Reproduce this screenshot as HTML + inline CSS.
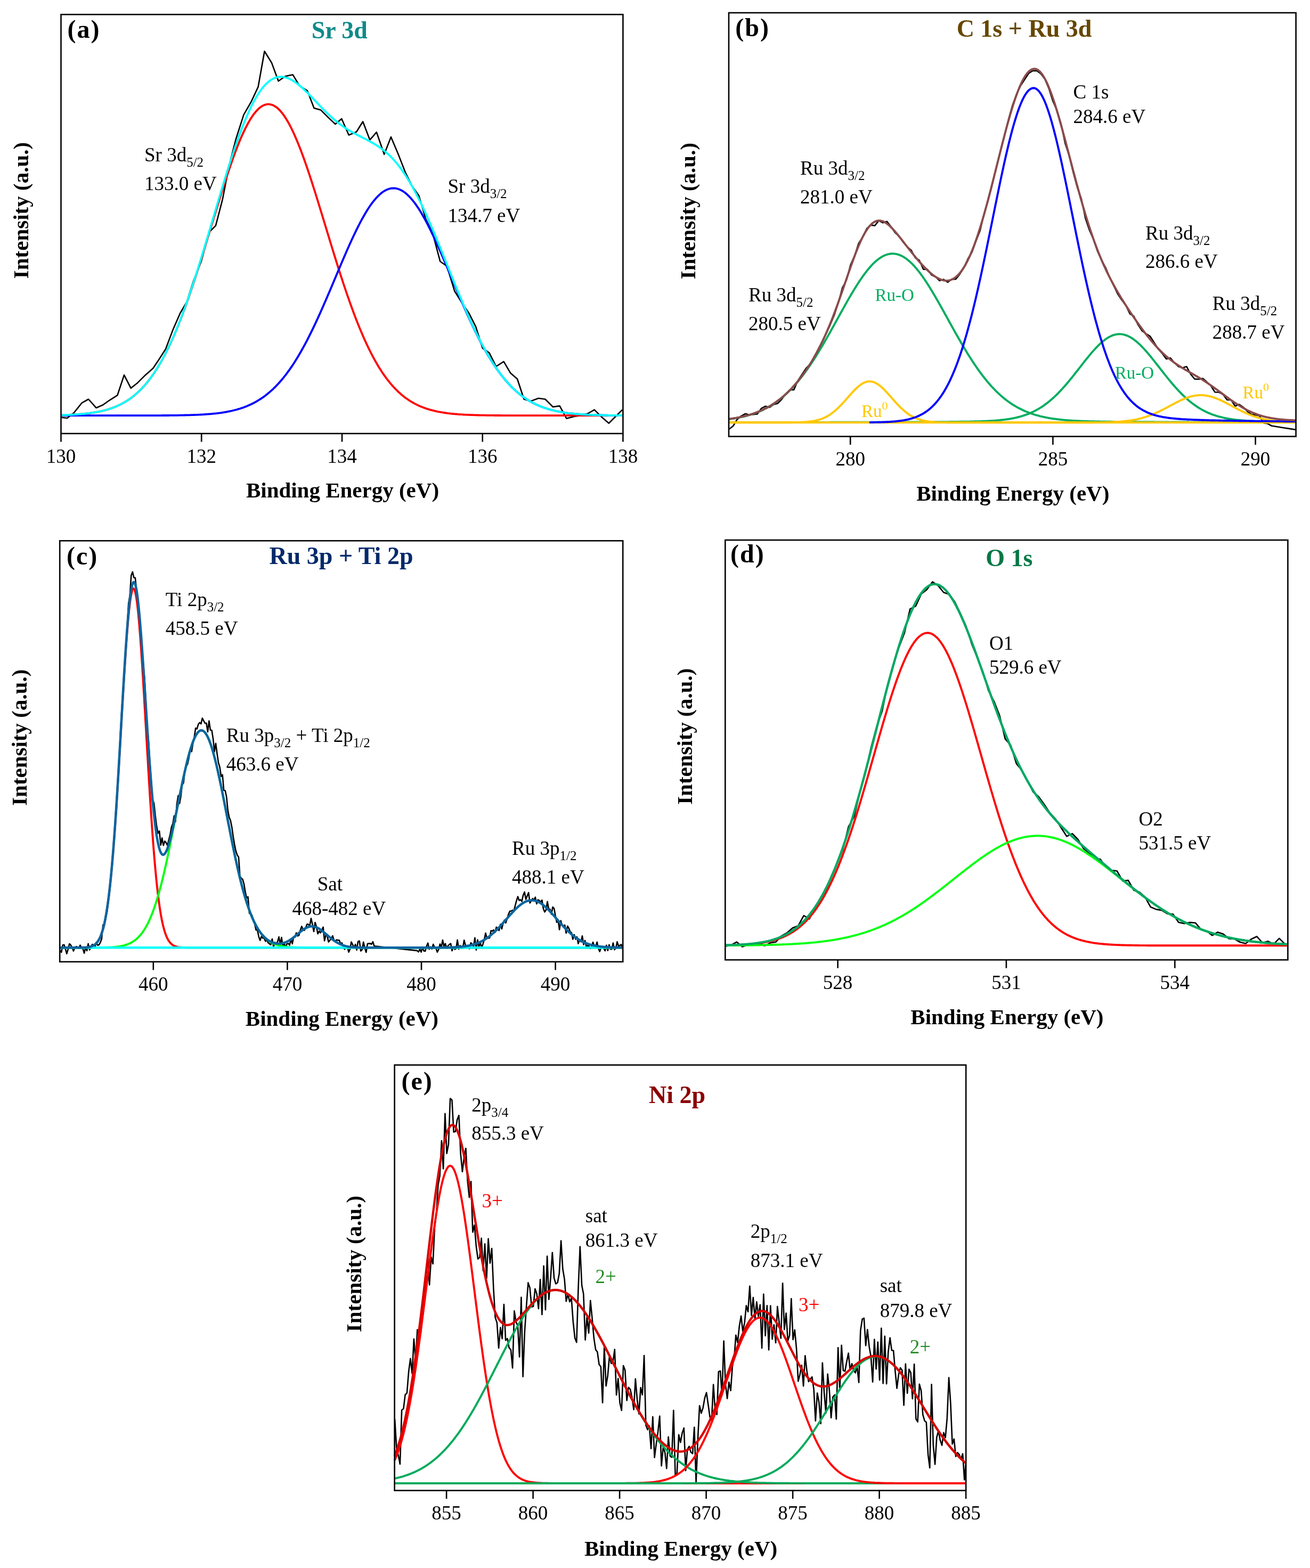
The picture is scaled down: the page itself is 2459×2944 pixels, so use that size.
<!DOCTYPE html>
<html><head><meta charset="utf-8"><style>
html,body{margin:0;padding:0;background:#fff;}
svg{display:block;}
text{font-family:'Liberation Serif', 'Times New Roman', serif;}
</style></head><body>
<svg width="2459" height="2944" viewBox="0 0 2459 2944">
<rect width="2459" height="2944" fill="#fff"/>
<path d="M115.4 783.8 L126.3 785 L139 774.8 L153.4 756.7 L166.1 749.5 L180.6 765.8 L193.2 760.3 L205.9 751.3 L220.4 742.2 L233 704.2 L245.7 728.8 L258.4 718.7 L272.9 704.2 L287.3 691.5 L298.2 675.3 L310.9 655.4 L325.3 617.4 L338 588.4 L350.7 566.7 L363.3 526.9 L377.8 490.7 L392.3 436.4 L404.9 423.7 L417.6 374.9 L430.3 309.7 L442.9 260.9 L457.4 215.6 L471.9 190.3 L484.6 163.1 L496.5 96.2 L509.9 117.9 L522.6 152.3 L535.3 143.2 L549.7 140.3 L562.4 161.3 L576.9 170.4 L589.5 203 L602.2 206.6 L616.7 221.1 L629.4 233 L641.3 222.9 L654.7 253.6 L669.2 247.5 L681.1 228.3 L694.3 262.7 L706.8 248.2 L721.2 289.8 L733.9 257.2 L748.4 291.6 L761.1 324.2 L773.7 349.5 L786.4 367.6 L799.1 411.1 L811.7 436.4 L826.2 490.7 L838.9 499.7 L853.4 546.8 L866 566.7 L880.5 588.4 L893.2 613.7 L905.8 653.6 L918.5 662.6 L931.2 688 L945.6 678.9 L958.3 700.6 L971 711.5 L983.6 749.5 L996.3 753.1 L1010.8 747.7 L1023.4 749.5 L1037.9 764 L1050.6 762.1 L1063.3 785.7 L1077.7 782 L1090.4 780.2 L1103.1 776.6 L1115.7 769.4 L1130.2 783.8 L1142.9 794.7 L1155.5 782 L1168.2 769.4" fill="none" stroke="#000" stroke-width="2.6" stroke-linejoin="round" stroke-linecap="butt" />
<path d="M114.5 779.4 L116.5 779.3 L118.5 779.3 L120.5 779.2 L122.5 779.1 L124.5 779 L126.5 779 L128.5 778.9 L130.5 778.8 L132.5 778.7 L134.5 778.6 L136.5 778.5 L138.5 778.4 L140.5 778.3 L142.5 778.1 L144.5 778 L146.5 777.9 L148.5 777.7 L150.5 777.6 L152.5 777.4 L154.5 777.2 L156.5 777 L158.5 776.8 L160.5 776.6 L162.5 776.4 L164.5 776.2 L166.5 775.9 L168.5 775.7 L170.5 775.4 L172.5 775.1 L174.5 774.8 L176.5 774.5 L178.5 774.2 L180.5 773.9 L182.5 773.5 L184.5 773.1 L186.5 772.7 L188.5 772.3 L190.5 771.8 L192.5 771.4 L194.5 770.9 L196.5 770.4 L198.5 769.8 L200.5 769.3 L202.5 768.7 L204.5 768.1 L206.5 767.4 L208.5 766.8 L210.5 766.1 L212.5 765.3 L214.5 764.6 L216.5 763.8 L218.5 762.9 L220.5 762.1 L222.5 761.1 L224.5 760.2 L226.5 759.2 L228.5 758.2 L230.5 757.1 L232.5 756 L234.5 754.8 L236.5 753.6 L238.5 752.4 L240.5 751.1 L242.5 749.7 L244.5 748.3 L246.5 746.9 L248.5 745.4 L250.5 743.8 L252.5 742.2 L254.5 740.5 L256.5 738.7 L258.5 736.9 L260.5 735.1 L262.5 733.1 L264.5 731.1 L266.5 729.1 L268.5 726.9 L270.5 724.7 L272.5 722.5 L274.5 720.1 L276.5 717.7 L278.5 715.2 L280.5 712.6 L282.5 710 L284.5 707.2 L286.5 704.4 L288.5 701.5 L290.5 698.6 L292.5 695.5 L294.5 692.4 L296.5 689.1 L298.5 685.8 L300.5 682.4 L302.5 679 L304.5 675.4 L306.5 671.7 L308.5 668 L310.5 664.1 L312.5 660.2 L314.5 656.2 L316.5 652.1 L318.5 647.9 L320.5 643.6 L322.5 639.2 L324.5 634.8 L326.5 630.2 L328.5 625.5 L330.5 620.8 L332.5 616 L334.5 611.1 L336.5 606.1 L338.5 601 L340.5 595.8 L342.5 590.6 L344.5 585.2 L346.5 579.8 L348.5 574.3 L350.5 568.8 L352.5 563.1 L354.5 557.4 L356.5 551.6 L358.5 545.7 L360.5 539.8 L362.5 533.8 L364.5 527.8 L366.5 521.6 L368.5 515.5 L370.5 509.2 L372.5 503 L374.5 496.6 L376.5 490.3 L378.5 483.9 L380.5 477.4 L382.5 471 L384.5 464.4 L386.5 457.9 L388.5 451.4 L390.5 444.8 L392.5 438.2 L394.5 431.6 L396.5 425 L398.5 418.4 L400.5 411.8 L402.5 405.3 L404.5 398.7 L406.5 392.1 L408.5 385.6 L410.5 379.1 L412.5 372.7 L414.5 366.3 L416.5 359.9 L418.5 353.6 L420.5 347.3 L422.5 341.1 L424.5 334.9 L426.5 328.9 L428.5 322.9 L430.5 316.9 L432.5 311.1 L434.5 305.4 L436.5 299.7 L438.5 294.2 L440.5 288.7 L442.5 283.4 L444.5 278.2 L446.5 273.1 L448.5 268.1 L450.5 263.3 L452.5 258.6 L454.5 254 L456.5 249.6 L458.5 245.4 L460.5 241.2 L462.5 237.3 L464.5 233.5 L466.5 229.8 L468.5 226.4 L470.5 223.1 L472.5 220 L474.5 217 L476.5 214.2 L478.5 211.7 L480.5 209.3 L482.5 207.1 L484.5 205 L486.5 203.2 L488.5 201.6 L490.5 200.2 L492.5 198.9 L494.5 197.9 L496.5 197 L498.5 196.4 L500.5 196 L502.5 195.7 L504.5 195.7 L506.5 195.9 L508.5 196.3 L510.5 196.8 L512.5 197.6 L514.5 198.6 L516.5 199.8 L518.5 201.1 L520.5 202.7 L522.5 204.5 L524.5 206.4 L526.5 208.6 L528.5 210.9 L530.5 213.5 L532.5 216.2 L534.5 219.1 L536.5 222.1 L538.5 225.4 L540.5 228.8 L542.5 232.4 L544.5 236.1 L546.5 240 L548.5 244.1 L550.5 248.3 L552.5 252.7 L554.5 257.2 L556.5 261.9 L558.5 266.7 L560.5 271.6 L562.5 276.7 L564.5 281.8 L566.5 287.1 L568.5 292.5 L570.5 298 L572.5 303.7 L574.5 309.4 L576.5 315.2 L578.5 321.1 L580.5 327 L582.5 333.1 L584.5 339.2 L586.5 345.4 L588.5 351.7 L590.5 358 L592.5 364.3 L594.5 370.7 L596.5 377.2 L598.5 383.7 L600.5 390.2 L602.5 396.7 L604.5 403.3 L606.5 409.9 L608.5 416.5 L610.5 423 L612.5 429.6 L614.5 436.2 L616.5 442.8 L618.5 449.4 L620.5 456 L622.5 462.5 L624.5 469 L626.5 475.5 L628.5 481.9 L630.5 488.4 L632.5 494.7 L634.5 501.1 L636.5 507.4 L638.5 513.6 L640.5 519.8 L642.5 525.9 L644.5 532 L646.5 538 L648.5 544 L650.5 549.8 L652.5 555.7 L654.5 561.4 L656.5 567.1 L658.5 572.7 L660.5 578.2 L662.5 583.6 L664.5 589 L666.5 594.3 L668.5 599.5 L670.5 604.6 L672.5 609.6 L674.5 614.5 L676.5 619.4 L678.5 624.1 L680.5 628.8 L682.5 633.4 L684.5 637.9 L686.5 642.3 L688.5 646.6 L690.5 650.8 L692.5 655 L694.5 659 L696.5 663 L698.5 666.8 L700.5 670.6 L702.5 674.3 L704.5 677.9 L706.5 681.4 L708.5 684.8 L710.5 688.2 L712.5 691.4 L714.5 694.6 L716.5 697.7 L718.5 700.7 L720.5 703.6 L722.5 706.4 L724.5 709.2 L726.5 711.8 L728.5 714.4 L730.5 716.9 L732.5 719.4 L734.5 721.8 L736.5 724.1 L738.5 726.3 L740.5 728.4 L742.5 730.5 L744.5 732.5 L746.5 734.5 L748.5 736.4 L750.5 738.2 L752.5 740 L754.5 741.7 L756.5 743.3 L758.5 744.9 L760.5 746.4 L762.5 747.9 L764.5 749.3 L766.5 750.7 L768.5 752 L770.5 753.3 L772.5 754.5 L774.5 755.7 L776.5 756.8 L778.5 757.9 L780.5 758.9 L782.5 759.9 L784.5 760.9 L786.5 761.8 L788.5 762.7 L790.5 763.5 L792.5 764.3 L794.5 765.1 L796.5 765.8 L798.5 766.6 L800.5 767.2 L802.5 767.9 L804.5 768.5 L806.5 769.1 L808.5 769.7 L810.5 770.2 L812.5 770.7 L814.5 771.2 L816.5 771.7 L818.5 772.1 L820.5 772.6 L822.5 773 L824.5 773.4 L826.5 773.7 L828.5 774.1 L830.5 774.4 L832.5 774.7 L834.5 775 L836.5 775.3 L838.5 775.6 L840.5 775.9 L842.5 776.1 L844.5 776.3 L846.5 776.6 L848.5 776.8 L850.5 777 L852.5 777.2 L854.5 777.3 L856.5 777.5 L858.5 777.7 L860.5 777.8 L862.5 778 L864.5 778.1 L866.5 778.2 L868.5 778.3 L870.5 778.5 L872.5 778.6 L874.5 778.7 L876.5 778.8 L878.5 778.9 L880.5 778.9 L882.5 779 L884.5 779.1 L886.5 779.2 L888.5 779.2 L890.5 779.3 L892.5 779.4 L894.5 779.4 L896.5 779.5 L898.5 779.5 L900.5 779.6 L902.5 779.6 L904.5 779.6 L906.5 779.7 L908.5 779.7 L910.5 779.7 L912.5 779.8 L914.5 779.8 L916.5 779.8 L918.5 779.9 L920.5 779.9 L922.5 779.9 L924.5 779.9 L926.5 779.9 L928.5 780 L930.5 780 L932.5 780 L934.5 780 L936.5 780 L938.5 780 L940.5 780 L942.5 780.1 L944.5 780.1 L946.5 780.1 L948.5 780.1 L950.5 780.1 L952.5 780.1 L954.5 780.1 L956.5 780.1 L958.5 780.1 L960.5 780.1 L962.5 780.1 L964.5 780.1 L966.5 780.1 L968.5 780.1 L970.5 780.2 L972.5 780.2 L974.5 780.2 L976.5 780.2 L978.5 780.2 L980.5 780.2 L982.5 780.2 L984.5 780.2 L986.5 780.2 L988.5 780.2 L990.5 780.2 L992.5 780.2 L994.5 780.2 L996.5 780.2 L998.5 780.2 L1000.5 780.2 L1002.5 780.2 L1004.5 780.2 L1006.5 780.2 L1008.5 780.2 L1010.5 780.2 L1012.5 780.2 L1014.5 780.2 L1016.5 780.2 L1018.5 780.2 L1020.5 780.2 L1022.5 780.2 L1024.5 780.2 L1026.5 780.2 L1028.5 780.2 L1030.5 780.2 L1032.5 780.2 L1034.5 780.2 L1036.5 780.2 L1038.5 780.2 L1040.5 780.2 L1042.5 780.2 L1044.5 780.2 L1046.5 780.2 L1048.5 780.2 L1050.5 780.2 L1052.5 780.2 L1054.5 780.2 L1056.5 780.2 L1058.5 780.2 L1060.5 780.2 L1062.5 780.2 L1064.5 780.2 L1066.5 780.2 L1068.5 780.2 L1070.5 780.2 L1072.5 780.2 L1074.5 780.2 L1076.5 780.2 L1078.5 780.2 L1080.5 780.2 L1082.5 780.2 L1084.5 780.2 L1086.5 780.2 L1088.5 780.2 L1090.5 780.2 L1092.5 780.2 L1094.5 780.2 L1096.5 780.2 L1098.5 780.2 L1100.5 780.2 L1102.5 780.2 L1104.5 780.2 L1106.5 780.2 L1108.5 780.2 L1110.5 780.2 L1112.5 780.2 L1114.5 780.2 L1116.5 780.2 L1118.5 780.2 L1120.5 780.2 L1122.5 780.2 L1124.5 780.2 L1126.5 780.2 L1128.5 780.2 L1130.5 780.2 L1132.5 780.2 L1134.5 780.2 L1136.5 780.2 L1138.5 780.2 L1140.5 780.2 L1142.5 780.2 L1144.5 780.2 L1146.5 780.2 L1148.5 780.2 L1150.5 780.2 L1152.5 780.2 L1154.5 780.2 L1156.5 780.2 L1158.5 780.2 L1160.5 780.2 L1162.5 780.2 L1164.5 780.2 L1166.5 780.2 L1168.5 780.2 L1169.4 780.2" fill="none" stroke="#ff0000" stroke-width="3.8" stroke-linejoin="round" stroke-linecap="butt" />
<path d="M114.5 780.2 L116.5 780.2 L118.5 780.2 L120.5 780.2 L122.5 780.2 L124.5 780.2 L126.5 780.2 L128.5 780.2 L130.5 780.2 L132.5 780.2 L134.5 780.2 L136.5 780.2 L138.5 780.2 L140.5 780.2 L142.5 780.2 L144.5 780.2 L146.5 780.2 L148.5 780.2 L150.5 780.2 L152.5 780.2 L154.5 780.2 L156.5 780.2 L158.5 780.2 L160.5 780.2 L162.5 780.2 L164.5 780.2 L166.5 780.2 L168.5 780.2 L170.5 780.2 L172.5 780.2 L174.5 780.2 L176.5 780.2 L178.5 780.2 L180.5 780.2 L182.5 780.2 L184.5 780.2 L186.5 780.2 L188.5 780.2 L190.5 780.2 L192.5 780.2 L194.5 780.2 L196.5 780.2 L198.5 780.2 L200.5 780.2 L202.5 780.2 L204.5 780.2 L206.5 780.2 L208.5 780.2 L210.5 780.2 L212.5 780.2 L214.5 780.2 L216.5 780.2 L218.5 780.2 L220.5 780.2 L222.5 780.2 L224.5 780.2 L226.5 780.2 L228.5 780.2 L230.5 780.2 L232.5 780.2 L234.5 780.2 L236.5 780.2 L238.5 780.2 L240.5 780.2 L242.5 780.2 L244.5 780.2 L246.5 780.2 L248.5 780.2 L250.5 780.2 L252.5 780.2 L254.5 780.2 L256.5 780.2 L258.5 780.2 L260.5 780.2 L262.5 780.2 L264.5 780.2 L266.5 780.2 L268.5 780.2 L270.5 780.2 L272.5 780.2 L274.5 780.2 L276.5 780.1 L278.5 780.1 L280.5 780.1 L282.5 780.1 L284.5 780.1 L286.5 780.1 L288.5 780.1 L290.5 780.1 L292.5 780.1 L294.5 780.1 L296.5 780.1 L298.5 780.1 L300.5 780.1 L302.5 780.1 L304.5 780 L306.5 780 L308.5 780 L310.5 780 L312.5 780 L314.5 780 L316.5 780 L318.5 779.9 L320.5 779.9 L322.5 779.9 L324.5 779.9 L326.5 779.9 L328.5 779.8 L330.5 779.8 L332.5 779.8 L334.5 779.8 L336.5 779.7 L338.5 779.7 L340.5 779.7 L342.5 779.6 L344.5 779.6 L346.5 779.5 L348.5 779.5 L350.5 779.4 L352.5 779.4 L354.5 779.3 L356.5 779.3 L358.5 779.2 L360.5 779.2 L362.5 779.1 L364.5 779 L366.5 778.9 L368.5 778.9 L370.5 778.8 L372.5 778.7 L374.5 778.6 L376.5 778.5 L378.5 778.4 L380.5 778.3 L382.5 778.1 L384.5 778 L386.5 777.9 L388.5 777.7 L390.5 777.6 L392.5 777.4 L394.5 777.3 L396.5 777.1 L398.5 776.9 L400.5 776.7 L402.5 776.5 L404.5 776.3 L406.5 776.1 L408.5 775.8 L410.5 775.6 L412.5 775.3 L414.5 775.1 L416.5 774.8 L418.5 774.5 L420.5 774.1 L422.5 773.8 L424.5 773.5 L426.5 773.1 L428.5 772.7 L430.5 772.3 L432.5 771.9 L434.5 771.5 L436.5 771 L438.5 770.5 L440.5 770 L442.5 769.5 L444.5 769 L446.5 768.4 L448.5 767.8 L450.5 767.2 L452.5 766.5 L454.5 765.9 L456.5 765.2 L458.5 764.4 L460.5 763.7 L462.5 762.9 L464.5 762.1 L466.5 761.2 L468.5 760.3 L470.5 759.4 L472.5 758.5 L474.5 757.5 L476.5 756.5 L478.5 755.4 L480.5 754.3 L482.5 753.1 L484.5 751.9 L486.5 750.7 L488.5 749.4 L490.5 748.1 L492.5 746.8 L494.5 745.4 L496.5 743.9 L498.5 742.4 L500.5 740.8 L502.5 739.2 L504.5 737.6 L506.5 735.9 L508.5 734.1 L510.5 732.3 L512.5 730.5 L514.5 728.5 L516.5 726.6 L518.5 724.5 L520.5 722.4 L522.5 720.3 L524.5 718.1 L526.5 715.8 L528.5 713.5 L530.5 711.1 L532.5 708.6 L534.5 706.1 L536.5 703.6 L538.5 700.9 L540.5 698.2 L542.5 695.5 L544.5 692.6 L546.5 689.7 L548.5 686.8 L550.5 683.8 L552.5 680.7 L554.5 677.5 L556.5 674.3 L558.5 671 L560.5 667.7 L562.5 664.3 L564.5 660.8 L566.5 657.3 L568.5 653.7 L570.5 650.1 L572.5 646.4 L574.5 642.6 L576.5 638.8 L578.5 634.9 L580.5 630.9 L582.5 626.9 L584.5 622.9 L586.5 618.8 L588.5 614.6 L590.5 610.4 L592.5 606.2 L594.5 601.9 L596.5 597.5 L598.5 593.1 L600.5 588.7 L602.5 584.2 L604.5 579.7 L606.5 575.2 L608.5 570.6 L610.5 566 L612.5 561.4 L614.5 556.7 L616.5 552.1 L618.5 547.4 L620.5 542.7 L622.5 537.9 L624.5 533.2 L626.5 528.5 L628.5 523.7 L630.5 519 L632.5 514.2 L634.5 509.5 L636.5 504.7 L638.5 500 L640.5 495.3 L642.5 490.6 L644.5 485.9 L646.5 481.3 L648.5 476.7 L650.5 472.1 L652.5 467.6 L654.5 463.1 L656.5 458.6 L658.5 454.2 L660.5 449.8 L662.5 445.5 L664.5 441.2 L666.5 437.1 L668.5 432.9 L670.5 428.9 L672.5 424.9 L674.5 421 L676.5 417.1 L678.5 413.4 L680.5 409.7 L682.5 406.2 L684.5 402.7 L686.5 399.3 L688.5 396 L690.5 392.8 L692.5 389.8 L694.5 386.8 L696.5 383.9 L698.5 381.2 L700.5 378.6 L702.5 376.1 L704.5 373.7 L706.5 371.4 L708.5 369.3 L710.5 367.3 L712.5 365.4 L714.5 363.6 L716.5 362 L718.5 360.5 L720.5 359.2 L722.5 358 L724.5 356.9 L726.5 356 L728.5 355.2 L730.5 354.5 L732.5 354 L734.5 353.7 L736.5 353.5 L738.5 353.4 L740.5 353.5 L742.5 353.7 L744.5 354 L746.5 354.5 L748.5 355.2 L750.5 356 L752.5 356.9 L754.5 358 L756.5 359.2 L758.5 360.5 L760.5 362 L762.5 363.6 L764.5 365.4 L766.5 367.3 L768.5 369.3 L770.5 371.4 L772.5 373.7 L774.5 376.1 L776.5 378.6 L778.5 381.2 L780.5 383.9 L782.5 386.8 L784.5 389.8 L786.5 392.8 L788.5 396 L790.5 399.3 L792.5 402.7 L794.5 406.2 L796.5 409.7 L798.5 413.4 L800.5 417.1 L802.5 421 L804.5 424.9 L806.5 428.9 L808.5 432.9 L810.5 437.1 L812.5 441.2 L814.5 445.5 L816.5 449.8 L818.5 454.2 L820.5 458.6 L822.5 463.1 L824.5 467.6 L826.5 472.1 L828.5 476.7 L830.5 481.3 L832.5 485.9 L834.5 490.6 L836.5 495.3 L838.5 500 L840.5 504.7 L842.5 509.5 L844.5 514.2 L846.5 519 L848.5 523.7 L850.5 528.5 L852.5 533.2 L854.5 537.9 L856.5 542.7 L858.5 547.4 L860.5 552.1 L862.5 556.7 L864.5 561.4 L866.5 566 L868.5 570.6 L870.5 575.2 L872.5 579.7 L874.5 584.2 L876.5 588.7 L878.5 593.1 L880.5 597.5 L882.5 601.9 L884.5 606.2 L886.5 610.4 L888.5 614.6 L890.5 618.8 L892.5 622.9 L894.5 626.9 L896.5 630.9 L898.5 634.9 L900.5 638.8 L902.5 642.6 L904.5 646.4 L906.5 650.1 L908.5 653.7 L910.5 657.3 L912.5 660.8 L914.5 664.3 L916.5 667.7 L918.5 671 L920.5 674.3 L922.5 677.5 L924.5 680.7 L926.5 683.8 L928.5 686.8 L930.5 689.7 L932.5 692.6 L934.5 695.5 L936.5 698.2 L938.5 700.9 L940.5 703.6 L942.5 706.1 L944.5 708.6 L946.5 711.1 L948.5 713.5 L950.5 715.8 L952.5 718.1 L954.5 720.3 L956.5 722.4 L958.5 724.5 L960.5 726.6 L962.5 728.5 L964.5 730.5 L966.5 732.3 L968.5 734.1 L970.5 735.9 L972.5 737.6 L974.5 739.2 L976.5 740.8 L978.5 742.4 L980.5 743.9 L982.5 745.4 L984.5 746.8 L986.5 748.1 L988.5 749.4 L990.5 750.7 L992.5 751.9 L994.5 753.1 L996.5 754.3 L998.5 755.4 L1000.5 756.5 L1002.5 757.5 L1004.5 758.5 L1006.5 759.4 L1008.5 760.3 L1010.5 761.2 L1012.5 762.1 L1014.5 762.9 L1016.5 763.7 L1018.5 764.4 L1020.5 765.2 L1022.5 765.9 L1024.5 766.5 L1026.5 767.2 L1028.5 767.8 L1030.5 768.4 L1032.5 769 L1034.5 769.5 L1036.5 770 L1038.5 770.5 L1040.5 771 L1042.5 771.5 L1044.5 771.9 L1046.5 772.3 L1048.5 772.7 L1050.5 773.1 L1052.5 773.5 L1054.5 773.8 L1056.5 774.1 L1058.5 774.5 L1060.5 774.8 L1062.5 775.1 L1064.5 775.3 L1066.5 775.6 L1068.5 775.8 L1070.5 776.1 L1072.5 776.3 L1074.5 776.5 L1076.5 776.7 L1078.5 776.9 L1080.5 777.1 L1082.5 777.3 L1084.5 777.4 L1086.5 777.6 L1088.5 777.7 L1090.5 777.9 L1092.5 778 L1094.5 778.1 L1096.5 778.3 L1098.5 778.4 L1100.5 778.5 L1102.5 778.6 L1104.5 778.7 L1106.5 778.8 L1108.5 778.9 L1110.5 778.9 L1112.5 779 L1114.5 779.1 L1116.5 779.2 L1118.5 779.2 L1120.5 779.3 L1122.5 779.3 L1124.5 779.4 L1126.5 779.4 L1128.5 779.5 L1130.5 779.5 L1132.5 779.6 L1134.5 779.6 L1136.5 779.7 L1138.5 779.7 L1140.5 779.7 L1142.5 779.8 L1144.5 779.8 L1146.5 779.8 L1148.5 779.8 L1150.5 779.9 L1152.5 779.9 L1154.5 779.9 L1156.5 779.9 L1158.5 779.9 L1160.5 780 L1162.5 780 L1164.5 780 L1166.5 780 L1168.5 780 L1169.4 780" fill="none" stroke="#0000ff" stroke-width="3.8" stroke-linejoin="round" stroke-linecap="butt" />
<path d="M114.5 779.4 L116.5 779.3 L118.5 779.3 L120.5 779.2 L122.5 779.1 L124.5 779 L126.5 779 L128.5 778.9 L130.5 778.8 L132.5 778.7 L134.5 778.6 L136.5 778.5 L138.5 778.4 L140.5 778.3 L142.5 778.1 L144.5 778 L146.5 777.9 L148.5 777.7 L150.5 777.6 L152.5 777.4 L154.5 777.2 L156.5 777 L158.5 776.8 L160.5 776.6 L162.5 776.4 L164.5 776.2 L166.5 775.9 L168.5 775.7 L170.5 775.4 L172.5 775.1 L174.5 774.8 L176.5 774.5 L178.5 774.2 L180.5 773.8 L182.5 773.5 L184.5 773.1 L186.5 772.7 L188.5 772.3 L190.5 771.8 L192.5 771.4 L194.5 770.9 L196.5 770.4 L198.5 769.8 L200.5 769.3 L202.5 768.7 L204.5 768.1 L206.5 767.4 L208.5 766.8 L210.5 766.1 L212.5 765.3 L214.5 764.6 L216.5 763.8 L218.5 762.9 L220.5 762.1 L222.5 761.1 L224.5 760.2 L226.5 759.2 L228.5 758.2 L230.5 757.1 L232.5 756 L234.5 754.8 L236.5 753.6 L238.5 752.4 L240.5 751.1 L242.5 749.7 L244.5 748.3 L246.5 746.9 L248.5 745.3 L250.5 743.8 L252.5 742.1 L254.5 740.5 L256.5 738.7 L258.5 736.9 L260.5 735 L262.5 733.1 L264.5 731.1 L266.5 729 L268.5 726.9 L270.5 724.7 L272.5 722.4 L274.5 720.1 L276.5 717.6 L278.5 715.1 L280.5 712.6 L282.5 709.9 L284.5 707.2 L286.5 704.3 L288.5 701.5 L290.5 698.5 L292.5 695.4 L294.5 692.3 L296.5 689 L298.5 685.7 L300.5 682.3 L302.5 678.8 L304.5 675.2 L306.5 671.6 L308.5 667.8 L310.5 663.9 L312.5 660 L314.5 656 L316.5 651.9 L318.5 647.6 L320.5 643.3 L322.5 638.9 L324.5 634.4 L326.5 629.9 L328.5 625.2 L330.5 620.4 L332.5 615.6 L334.5 610.6 L336.5 605.6 L338.5 600.5 L340.5 595.3 L342.5 590 L344.5 584.6 L346.5 579.2 L348.5 573.6 L350.5 568 L352.5 562.3 L354.5 556.5 L356.5 550.7 L358.5 544.8 L360.5 538.8 L362.5 532.7 L364.5 526.6 L366.5 520.4 L368.5 514.1 L370.5 507.8 L372.5 501.4 L374.5 495 L376.5 488.6 L378.5 482 L380.5 475.5 L382.5 468.9 L384.5 462.3 L386.5 455.6 L388.5 448.9 L390.5 442.2 L392.5 435.4 L394.5 428.7 L396.5 421.9 L398.5 415.1 L400.5 408.4 L402.5 401.6 L404.5 394.8 L406.5 388 L408.5 381.3 L410.5 374.5 L412.5 367.8 L414.5 361.1 L416.5 354.4 L418.5 347.8 L420.5 341.2 L422.5 334.7 L424.5 328.2 L426.5 321.8 L428.5 315.4 L430.5 309.1 L432.5 302.8 L434.5 296.6 L436.5 290.5 L438.5 284.5 L440.5 278.6 L442.5 272.7 L444.5 267 L446.5 261.3 L448.5 255.7 L450.5 250.3 L452.5 245 L454.5 239.7 L456.5 234.6 L458.5 229.6 L460.5 224.7 L462.5 220 L464.5 215.4 L466.5 210.9 L468.5 206.5 L470.5 202.3 L472.5 198.2 L474.5 194.3 L476.5 190.5 L478.5 186.9 L480.5 183.3 L482.5 180 L484.5 176.8 L486.5 173.7 L488.5 170.8 L490.5 168.1 L492.5 165.5 L494.5 163 L496.5 160.8 L498.5 158.6 L500.5 156.6 L502.5 154.8 L504.5 153.1 L506.5 151.6 L508.5 150.2 L510.5 149 L512.5 147.9 L514.5 146.9 L516.5 146.1 L518.5 145.5 L520.5 144.9 L522.5 144.6 L524.5 144.3 L526.5 144.2 L528.5 144.2 L530.5 144.4 L532.5 144.6 L534.5 145 L536.5 145.5 L538.5 146.1 L540.5 146.8 L542.5 147.6 L544.5 148.6 L546.5 149.6 L548.5 150.7 L550.5 151.9 L552.5 153.2 L554.5 154.6 L556.5 156 L558.5 157.5 L560.5 159.1 L562.5 160.8 L564.5 162.5 L566.5 164.2 L568.5 166 L570.5 167.9 L572.5 169.8 L574.5 171.8 L576.5 173.7 L578.5 175.7 L580.5 177.8 L582.5 179.8 L584.5 181.9 L586.5 184 L588.5 186.1 L590.5 188.2 L592.5 190.3 L594.5 192.4 L596.5 194.5 L598.5 196.6 L600.5 198.7 L602.5 200.8 L604.5 202.8 L606.5 204.9 L608.5 206.9 L610.5 208.9 L612.5 210.8 L614.5 212.8 L616.5 214.7 L618.5 216.6 L620.5 218.4 L622.5 220.2 L624.5 222 L626.5 223.7 L628.5 225.5 L630.5 227.1 L632.5 228.7 L634.5 230.3 L636.5 231.9 L638.5 233.4 L640.5 234.9 L642.5 236.3 L644.5 237.7 L646.5 239.1 L648.5 240.4 L650.5 241.7 L652.5 243 L654.5 244.3 L656.5 245.5 L658.5 246.6 L660.5 247.8 L662.5 248.9 L664.5 250 L666.5 251.1 L668.5 252.2 L670.5 253.2 L672.5 254.3 L674.5 255.3 L676.5 256.3 L678.5 257.3 L680.5 258.4 L682.5 259.4 L684.5 260.4 L686.5 261.4 L688.5 262.4 L690.5 263.5 L692.5 264.5 L694.5 265.6 L696.5 266.7 L698.5 267.8 L700.5 269 L702.5 270.2 L704.5 271.4 L706.5 272.6 L708.5 273.9 L710.5 275.2 L712.5 276.6 L714.5 278 L716.5 279.5 L718.5 281 L720.5 282.5 L722.5 284.2 L724.5 285.9 L726.5 287.6 L728.5 289.4 L730.5 291.3 L732.5 293.2 L734.5 295.2 L736.5 297.3 L738.5 299.5 L740.5 301.7 L742.5 304 L744.5 306.4 L746.5 308.8 L748.5 311.4 L750.5 314 L752.5 316.7 L754.5 319.4 L756.5 322.3 L758.5 325.2 L760.5 328.2 L762.5 331.3 L764.5 334.5 L766.5 337.7 L768.5 341.1 L770.5 344.5 L772.5 348 L774.5 351.5 L776.5 355.2 L778.5 358.9 L780.5 362.6 L782.5 366.5 L784.5 370.4 L786.5 374.4 L788.5 378.5 L790.5 382.6 L792.5 386.8 L794.5 391.1 L796.5 395.4 L798.5 399.8 L800.5 404.2 L802.5 408.7 L804.5 413.2 L806.5 417.8 L808.5 422.4 L810.5 427.1 L812.5 431.8 L814.5 436.5 L816.5 441.3 L818.5 446.1 L820.5 451 L822.5 455.8 L824.5 460.7 L826.5 465.6 L828.5 470.6 L830.5 475.5 L832.5 480.5 L834.5 485.5 L836.5 490.4 L838.5 495.4 L840.5 500.4 L842.5 505.4 L844.5 510.4 L846.5 515.3 L848.5 520.3 L850.5 525.2 L852.5 530.2 L854.5 535.1 L856.5 540 L858.5 544.8 L860.5 549.7 L862.5 554.5 L864.5 559.3 L866.5 564 L868.5 568.8 L870.5 573.5 L872.5 578.1 L874.5 582.7 L876.5 587.3 L878.5 591.8 L880.5 596.3 L882.5 600.7 L884.5 605.1 L886.5 609.4 L888.5 613.7 L890.5 617.9 L892.5 622 L894.5 626.1 L896.5 630.2 L898.5 634.2 L900.5 638.1 L902.5 642 L904.5 645.8 L906.5 649.5 L908.5 653.2 L910.5 656.9 L912.5 660.4 L914.5 663.9 L916.5 667.3 L918.5 670.7 L920.5 674 L922.5 677.2 L924.5 680.4 L926.5 683.5 L928.5 686.5 L930.5 689.5 L932.5 692.4 L934.5 695.3 L936.5 698 L938.5 700.8 L940.5 703.4 L942.5 706 L944.5 708.5 L946.5 711 L948.5 713.4 L950.5 715.7 L952.5 718 L954.5 720.2 L956.5 722.4 L958.5 724.5 L960.5 726.5 L962.5 728.5 L964.5 730.4 L966.5 732.3 L968.5 734.1 L970.5 735.8 L972.5 737.6 L974.5 739.2 L976.5 740.8 L978.5 742.4 L980.5 743.9 L982.5 745.3 L984.5 746.7 L986.5 748.1 L988.5 749.4 L990.5 750.7 L992.5 751.9 L994.5 753.1 L996.5 754.3 L998.5 755.4 L1000.5 756.4 L1002.5 757.5 L1004.5 758.5 L1006.5 759.4 L1008.5 760.3 L1010.5 761.2 L1012.5 762.1 L1014.5 762.9 L1016.5 763.7 L1018.5 764.4 L1020.5 765.2 L1022.5 765.9 L1024.5 766.5 L1026.5 767.2 L1028.5 767.8 L1030.5 768.4 L1032.5 769 L1034.5 769.5 L1036.5 770 L1038.5 770.5 L1040.5 771 L1042.5 771.5 L1044.5 771.9 L1046.5 772.3 L1048.5 772.7 L1050.5 773.1 L1052.5 773.5 L1054.5 773.8 L1056.5 774.1 L1058.5 774.5 L1060.5 774.8 L1062.5 775.1 L1064.5 775.3 L1066.5 775.6 L1068.5 775.8 L1070.5 776.1 L1072.5 776.3 L1074.5 776.5 L1076.5 776.7 L1078.5 776.9 L1080.5 777.1 L1082.5 777.3 L1084.5 777.4 L1086.5 777.6 L1088.5 777.7 L1090.5 777.9 L1092.5 778 L1094.5 778.1 L1096.5 778.3 L1098.5 778.4 L1100.5 778.5 L1102.5 778.6 L1104.5 778.7 L1106.5 778.8 L1108.5 778.9 L1110.5 778.9 L1112.5 779 L1114.5 779.1 L1116.5 779.2 L1118.5 779.2 L1120.5 779.3 L1122.5 779.3 L1124.5 779.4 L1126.5 779.4 L1128.5 779.5 L1130.5 779.5 L1132.5 779.6 L1134.5 779.6 L1136.5 779.7 L1138.5 779.7 L1140.5 779.7 L1142.5 779.8 L1144.5 779.8 L1146.5 779.8 L1148.5 779.8 L1150.5 779.9 L1152.5 779.9 L1154.5 779.9 L1156.5 779.9 L1158.5 779.9 L1160.5 780 L1162.5 780 L1164.5 780 L1166.5 780 L1168.5 780 L1169.4 780" fill="none" stroke="#00ffff" stroke-width="3.8" stroke-linejoin="round" stroke-linecap="butt" />
<rect x="114.5" y="27.2" width="1054.9" height="786.8" fill="none" stroke="#000" stroke-width="2.6"/>
<line x1="114.5" y1="814" x2="114.5" y2="829.5" stroke="#000" stroke-width="2.6"/>
<text x="114.5" y="868.6" font-size="37" text-anchor="middle" font-weight="normal" fill="#000" >130</text>
<line x1="378.2" y1="814" x2="378.2" y2="829.5" stroke="#000" stroke-width="2.6"/>
<text x="378.2" y="868.6" font-size="37" text-anchor="middle" font-weight="normal" fill="#000" >132</text>
<line x1="642" y1="814" x2="642" y2="829.5" stroke="#000" stroke-width="2.6"/>
<text x="642" y="868.6" font-size="37" text-anchor="middle" font-weight="normal" fill="#000" >134</text>
<line x1="905.7" y1="814" x2="905.7" y2="829.5" stroke="#000" stroke-width="2.6"/>
<text x="905.7" y="868.6" font-size="37" text-anchor="middle" font-weight="normal" fill="#000" >136</text>
<line x1="1169.4" y1="814" x2="1169.4" y2="829.5" stroke="#000" stroke-width="2.6"/>
<text x="1169.4" y="868.6" font-size="37" text-anchor="middle" font-weight="normal" fill="#000" >138</text>
<text x="126.6" y="71" font-size="48" text-anchor="start" font-weight="bold" fill="#000" letter-spacing="2">(a)</text>
<text x="637.3" y="72" font-size="46" text-anchor="middle" font-weight="bold" fill="#0F8A8A" >Sr 3d</text>
<text x="271" y="302.8" font-size="37" fill="#000">Sr 3d<tspan font-size="25" dy="10">5/2</tspan></text>
<text x="271" y="356.7" font-size="37" fill="#000">133.0 eV</text>
<text x="840.5" y="362.2" font-size="37" fill="#000">Sr 3d<tspan font-size="25" dy="10">3/2</tspan></text>
<text x="840.5" y="416.5" font-size="37" fill="#000">134.7 eV</text>
<text x="643" y="934" font-size="41" text-anchor="middle" font-weight="bold" fill="#000" >Binding Energy (eV)</text>
<text transform="translate(52.5 395) rotate(-90)" font-size="41" text-anchor="middle" font-weight="bold">Intensity (a.u.)</text>
<path d="M1368.5 805.8 L1376.1 800 L1383.7 787.5 L1391.3 781.1 L1398.9 776.8 L1406.5 778.7 L1414.1 778.1 L1421.7 777.3 L1429.3 766.6 L1436.9 762.7 L1444.5 764.9 L1452.1 759.5 L1459.7 757.5 L1467.3 749.8 L1474.9 739.7 L1482.5 731.8 L1490.1 731.9 L1497.7 714.7 L1505.3 703.3 L1512.9 691.6 L1520.5 683.9 L1528.1 671.3 L1535.7 655.9 L1543.3 641.6 L1550.9 626.2 L1558.5 609.6 L1566.1 591.5 L1573.7 568 L1581.3 540.1 L1588.9 526 L1596.5 497.3 L1604.1 480.4 L1611.7 457 L1619.3 445.1 L1626.9 429.2 L1634.5 422.7 L1642.1 423.6 L1649.7 414.1 L1657.3 418.3 L1664.9 415.7 L1672.5 425.6 L1680.1 436.8 L1687.7 443.5 L1695.3 454.7 L1702.9 463.6 L1710.5 469.8 L1718.1 484.2 L1725.7 488.7 L1733.3 505.7 L1740.9 505.8 L1748.5 516.3 L1756.1 519.7 L1763.7 527 L1771.3 524.5 L1778.9 530 L1786.5 524.4 L1794.1 524.2 L1801.7 514.6 L1809.3 502.5 L1816.9 485.7 L1824.5 473.5 L1832.1 452.4 L1839.7 433.1 L1847.3 400.9 L1854.9 376.2 L1862.5 346.7 L1870.1 315.8 L1877.7 285.3 L1885.3 255.6 L1892.9 224.9 L1900.5 197.7 L1908.1 176.9 L1915.7 161.1 L1923.3 149.3 L1930.9 137.7 L1938.5 133 L1946.1 132.6 L1953.7 138.5 L1961.3 148.4 L1968.9 166.6 L1976.5 190.3 L1984.1 207.4 L1991.7 232.5 L1999.3 269 L2006.9 292.3 L2014.5 323.6 L2022.1 351.7 L2029.7 372.6 L2037.3 409.6 L2044.9 432.1 L2052.5 449.4 L2060.1 471.8 L2067.7 488.5 L2075.3 502.3 L2082.9 520.4 L2090.5 536.3 L2098.1 552.1 L2105.7 563.5 L2113.3 573.5 L2120.9 589.3 L2128.5 593.7 L2136.1 609.6 L2143.7 621.1 L2151.3 626.7 L2158.9 631.4 L2166.5 643.2 L2174.1 655.2 L2181.7 663.8 L2189.3 674 L2196.9 672.1 L2204.5 681 L2212.1 688.3 L2219.7 690.5 L2227.3 688.2 L2234.9 702.5 L2242.5 711.6 L2250.1 712 L2257.7 710.5 L2265.3 717.1 L2272.9 724.3 L2280.5 736.3 L2288.1 736.5 L2295.7 740.5 L2303.3 750.8 L2310.9 751 L2318.5 762.5 L2326.1 759.2 L2333.7 764.5 L2341.3 772.4 L2348.9 778.2 L2356.5 778.9 L2364.1 780.5 L2371.7 794.1 L2379.3 795.3 L2386.9 799.5 L2394.5 800.7 L2402.1 802 L2409.7 803.2 L2417.3 804.4 L2424.9 805.6 L2432.1 806.8" fill="none" stroke="#000" stroke-width="2.6" stroke-linejoin="round" stroke-linecap="butt" />
<path d="M1368 787 L1370 786.7 L1372 786.4 L1374 786.1 L1376 785.8 L1378 785.5 L1380 785.2 L1382 784.9 L1384 784.5 L1386 784.1 L1388 783.7 L1390 783.3 L1392 782.9 L1394 782.5 L1396 782 L1398 781.5 L1400 781 L1402 780.5 L1404 779.9 L1406 779.4 L1408 778.8 L1410 778.2 L1412 777.5 L1414 776.9 L1416 776.2 L1418 775.4 L1420 774.7 L1422 773.9 L1424 773.1 L1426 772.3 L1428 771.4 L1430 770.5 L1432 769.6 L1434 768.6 L1436 767.6 L1438 766.6 L1440 765.5 L1442 764.4 L1444 763.3 L1446 762.1 L1448 760.9 L1450 759.6 L1452 758.3 L1454 757 L1456 755.6 L1458 754.2 L1460 752.7 L1462 751.2 L1464 749.7 L1466 748.1 L1468 746.4 L1470 744.7 L1472 743 L1474 741.2 L1476 739.4 L1478 737.5 L1480 735.6 L1482 733.6 L1484 731.6 L1486 729.5 L1488 727.4 L1490 725.2 L1492 723 L1494 720.7 L1496 718.3 L1498 716 L1500 713.5 L1502 711.1 L1504 708.5 L1506 706 L1508 703.3 L1510 700.7 L1512 697.9 L1514 695.2 L1516 692.4 L1518 689.5 L1520 686.6 L1522 683.6 L1524 680.6 L1526 677.6 L1528 674.5 L1530 671.4 L1532 668.2 L1534 665 L1536 661.7 L1538 658.5 L1540 655.1 L1542 651.8 L1544 648.4 L1546 645 L1548 641.5 L1550 638.1 L1552 634.6 L1554 631.1 L1556 627.5 L1558 624 L1560 620.4 L1562 616.8 L1564 613.2 L1566 609.6 L1568 606 L1570 602.3 L1572 598.7 L1574 595.1 L1576 591.5 L1578 587.8 L1580 584.2 L1582 580.6 L1584 577.1 L1586 573.5 L1588 569.9 L1590 566.4 L1592 562.9 L1594 559.4 L1596 556 L1598 552.6 L1600 549.2 L1602 545.9 L1604 542.6 L1606 539.4 L1608 536.2 L1610 533 L1612 529.9 L1614 526.9 L1616 524 L1618 521.1 L1620 518.2 L1622 515.5 L1624 512.8 L1626 510.2 L1628 507.6 L1630 505.2 L1632 502.8 L1634 500.5 L1636 498.3 L1638 496.2 L1640 494.2 L1642 492.3 L1644 490.5 L1646 488.8 L1648 487.2 L1650 485.7 L1652 484.3 L1654 483 L1656 481.8 L1658 480.8 L1660 479.8 L1662 479 L1664 478.2 L1666 477.6 L1668 477.1 L1670 476.7 L1672 476.5 L1674 476.3 L1676 476.3 L1678 476.4 L1680 476.6 L1682 476.9 L1684 477.4 L1686 477.9 L1688 478.6 L1690 479.4 L1692 480.3 L1694 481.3 L1696 482.4 L1698 483.6 L1700 485 L1702 486.4 L1704 488 L1706 489.7 L1708 491.4 L1710 493.3 L1712 495.2 L1714 497.3 L1716 499.4 L1718 501.7 L1720 504 L1722 506.4 L1724 508.9 L1726 511.5 L1728 514.1 L1730 516.8 L1732 519.6 L1734 522.5 L1736 525.4 L1738 528.4 L1740 531.5 L1742 534.6 L1744 537.7 L1746 541 L1748 544.2 L1750 547.5 L1752 550.9 L1754 554.3 L1756 557.7 L1758 561.2 L1760 564.7 L1762 568.2 L1764 571.7 L1766 575.3 L1768 578.8 L1770 582.4 L1772 586 L1774 589.7 L1776 593.3 L1778 596.9 L1780 600.5 L1782 604.2 L1784 607.8 L1786 611.4 L1788 615 L1790 618.6 L1792 622.2 L1794 625.7 L1796 629.3 L1798 632.8 L1800 636.3 L1802 639.8 L1804 643.3 L1806 646.7 L1808 650.1 L1810 653.5 L1812 656.8 L1814 660.1 L1816 663.4 L1818 666.6 L1820 669.8 L1822 672.9 L1824 676 L1826 679.1 L1828 682.1 L1830 685.1 L1832 688 L1834 690.9 L1836 693.8 L1838 696.6 L1840 699.3 L1842 702 L1844 704.7 L1846 707.3 L1848 709.8 L1850 712.3 L1852 714.8 L1854 717.2 L1856 719.5 L1858 721.8 L1860 724.1 L1862 726.3 L1864 728.4 L1866 730.5 L1868 732.6 L1870 734.6 L1872 736.5 L1874 738.4 L1876 740.3 L1878 742.1 L1880 743.9 L1882 745.6 L1884 747.2 L1886 748.9 L1888 750.4 L1890 752 L1892 753.5 L1894 754.9 L1896 756.3 L1898 757.7 L1900 759 L1902 760.3 L1904 761.5 L1906 762.7 L1908 763.9 L1910 765 L1912 766.1 L1914 767.1 L1916 768.1 L1918 769.1 L1920 770.1 L1922 771 L1924 771.9 L1926 772.7 L1928 773.5 L1930 774.3 L1932 775.1 L1934 775.8 L1936 776.5 L1938 777.2 L1940 777.8 L1942 778.5 L1944 779.1 L1946 779.7 L1948 780.2 L1950 780.7 L1952 781.3 L1954 781.8 L1956 782.2 L1958 782.7 L1960 783.1 L1962 783.5 L1964 783.9 L1966 784.3 L1968 784.7 L1970 785 L1972 785.4 L1974 785.7 L1976 786 L1978 786.3 L1980 786.6 L1982 786.8 L1984 787.1 L1986 787.3 L1988 787.6 L1990 787.8 L1992 788 L1994 788.2 L1996 788.4 L1998 788.6 L2000 788.8 L2002 788.9 L2004 789.1 L2006 789.2 L2008 789.4 L2010 789.5 L2012 789.6 L2014 789.8 L2016 789.9 L2018 790 L2020 790.1 L2022 790.2 L2024 790.3 L2026 790.4 L2028 790.5 L2030 790.6 L2032 790.7 L2034 790.7 L2036 790.8 L2038 790.9 L2040 790.9 L2042 791 L2044 791.1 L2046 791.1 L2048 791.2 L2050 791.2 L2052 791.3 L2054 791.3 L2056 791.4 L2058 791.4 L2060 791.4 L2062 791.5 L2064 791.5 L2066 791.6 L2068 791.6 L2070 791.6 L2072 791.7 L2074 791.7 L2076 791.7 L2078 791.7 L2080 791.8 L2082 791.8 L2084 791.8 L2086 791.8 L2088 791.9 L2090 791.9 L2092 791.9 L2094 791.9 L2096 791.9 L2098 792 L2100 792 L2102 792 L2104 792 L2106 792 L2108 792 L2110 792.1 L2112 792.1 L2114 792.1 L2116 792.1 L2118 792.1 L2120 792.1 L2122 792.1 L2124 792.1 L2126 792.2 L2128 792.2 L2130 792.2 L2132 792.2 L2134 792.2 L2136 792.2 L2138 792.2 L2140 792.2 L2142 792.2 L2144 792.3 L2146 792.3 L2148 792.3 L2150 792.3 L2152 792.3 L2154 792.3 L2156 792.3 L2158 792.3 L2160 792.3 L2162 792.3 L2164 792.3 L2166 792.3 L2168 792.4 L2170 792.4 L2172 792.4 L2174 792.4 L2176 792.4 L2178 792.4 L2180 792.4 L2182 792.4 L2184 792.4 L2186 792.4 L2188 792.4 L2190 792.4 L2192 792.4 L2194 792.4 L2196 792.5 L2198 792.5 L2200 792.5 L2202 792.5 L2204 792.5 L2206 792.5 L2208 792.5 L2210 792.5 L2212 792.5 L2214 792.5 L2216 792.5 L2218 792.5 L2220 792.5 L2222 792.5 L2224 792.5 L2226 792.5 L2228 792.5 L2230 792.5 L2232 792.6 L2234 792.6 L2236 792.6 L2238 792.6 L2240 792.6 L2242 792.6 L2244 792.6 L2246 792.6 L2248 792.6 L2250 792.6 L2252 792.6 L2254 792.6 L2256 792.6 L2258 792.6 L2260 792.6 L2262 792.6 L2264 792.6 L2266 792.6 L2268 792.6 L2270 792.6 L2272 792.6 L2274 792.7 L2276 792.7 L2278 792.7 L2280 792.7 L2282 792.7 L2284 792.7 L2286 792.7 L2288 792.7 L2290 792.7 L2292 792.7 L2294 792.7 L2296 792.7 L2298 792.7 L2300 792.7 L2302 792.7 L2304 792.7 L2306 792.7 L2308 792.7 L2310 792.7 L2312 792.7 L2314 792.7 L2316 792.7 L2318 792.7 L2320 792.7 L2322 792.7 L2324 792.7 L2326 792.7 L2328 792.8 L2330 792.8 L2332 792.8 L2334 792.8 L2336 792.8 L2338 792.8 L2340 792.8 L2342 792.8 L2344 792.8 L2346 792.8 L2348 792.8 L2350 792.8 L2352 792.8 L2354 792.8 L2356 792.8 L2358 792.8 L2360 792.8 L2362 792.8 L2364 792.8 L2366 792.8 L2368 792.8 L2370 792.8 L2372 792.8 L2374 792.8 L2376 792.8 L2378 792.8 L2380 792.8 L2382 792.8 L2384 792.8 L2386 792.8 L2388 792.8 L2390 792.8 L2392 792.8 L2394 792.8 L2396 792.8 L2398 792.8 L2400 792.9 L2402 792.9 L2404 792.9 L2406 792.9 L2408 792.9 L2410 792.9 L2412 792.9 L2414 792.9 L2416 792.9 L2418 792.9 L2420 792.9 L2422 792.9 L2424 792.9 L2426 792.9 L2428 792.9 L2430 792.9 L2432 792.9 L2432.6 792.9" fill="none" stroke="#00AD5F" stroke-width="3.9" stroke-linejoin="round" stroke-linecap="butt" />
<path d="M1368 793.1 L1370 793 L1372 793 L1374 793 L1376 793 L1378 793 L1380 793 L1382 793 L1384 793 L1386 793 L1388 793 L1390 793 L1392 793 L1394 793 L1396 793 L1398 793 L1400 793 L1402 793 L1404 793 L1406 793 L1408 793 L1410 793 L1412 793 L1414 793 L1416 793 L1418 793 L1420 793 L1422 793 L1424 793 L1426 793 L1428 793 L1430 793 L1432 793 L1434 793 L1436 793 L1438 793 L1440 793 L1442 793 L1444 793 L1446 793 L1448 793 L1450 793 L1452 793 L1454 793 L1456 793 L1458 793 L1460 793 L1462 793 L1464 793 L1466 793 L1468 793 L1470 793 L1472 793 L1474 793 L1476 793 L1478 793 L1480 793 L1482 793 L1484 792.9 L1486 792.9 L1488 792.9 L1490 792.9 L1492 792.9 L1494 792.9 L1496 792.9 L1498 792.9 L1500 792.9 L1502 792.9 L1504 792.9 L1506 792.9 L1508 792.9 L1510 792.9 L1512 792.9 L1514 792.9 L1516 792.9 L1518 792.9 L1520 792.9 L1522 792.9 L1524 792.9 L1526 792.9 L1528 792.9 L1530 792.9 L1532 792.9 L1534 792.9 L1536 792.9 L1538 792.9 L1540 792.9 L1542 792.9 L1544 792.9 L1546 792.9 L1548 792.9 L1550 792.9 L1552 792.9 L1554 792.9 L1556 792.9 L1558 792.9 L1560 792.8 L1562 792.8 L1564 792.8 L1566 792.8 L1568 792.8 L1570 792.8 L1572 792.8 L1574 792.8 L1576 792.8 L1578 792.8 L1580 792.8 L1582 792.8 L1584 792.8 L1586 792.8 L1588 792.8 L1590 792.8 L1592 792.8 L1594 792.8 L1596 792.8 L1598 792.8 L1600 792.8 L1602 792.8 L1604 792.8 L1606 792.8 L1608 792.8 L1610 792.8 L1612 792.7 L1614 792.7 L1616 792.7 L1618 792.7 L1620 792.7 L1622 792.7 L1624 792.7 L1626 792.7 L1628 792.7 L1630 792.7 L1632 792.7 L1634 792.7 L1636 792.7 L1638 792.7 L1640 792.7 L1642 792.7 L1644 792.7 L1646 792.7 L1648 792.7 L1650 792.7 L1652 792.7 L1654 792.6 L1656 792.6 L1658 792.6 L1660 792.6 L1662 792.6 L1664 792.6 L1666 792.6 L1668 792.6 L1670 792.6 L1672 792.6 L1674 792.6 L1676 792.6 L1678 792.6 L1680 792.6 L1682 792.6 L1684 792.6 L1686 792.5 L1688 792.5 L1690 792.5 L1692 792.5 L1694 792.5 L1696 792.5 L1698 792.5 L1700 792.5 L1702 792.5 L1704 792.5 L1706 792.5 L1708 792.5 L1710 792.5 L1712 792.4 L1714 792.4 L1716 792.4 L1718 792.4 L1720 792.4 L1722 792.4 L1724 792.4 L1726 792.4 L1728 792.4 L1730 792.4 L1732 792.4 L1734 792.3 L1736 792.3 L1738 792.3 L1740 792.3 L1742 792.3 L1744 792.3 L1746 792.3 L1748 792.3 L1750 792.3 L1752 792.2 L1754 792.2 L1756 792.2 L1758 792.2 L1760 792.2 L1762 792.2 L1764 792.2 L1766 792.2 L1768 792.1 L1770 792.1 L1772 792.1 L1774 792.1 L1776 792.1 L1778 792.1 L1780 792.1 L1782 792 L1784 792 L1786 792 L1788 792 L1790 792 L1792 791.9 L1794 791.9 L1796 791.9 L1798 791.9 L1800 791.9 L1802 791.8 L1804 791.8 L1806 791.8 L1808 791.7 L1810 791.7 L1812 791.7 L1814 791.7 L1816 791.6 L1818 791.6 L1820 791.6 L1822 791.5 L1824 791.5 L1826 791.4 L1828 791.4 L1830 791.3 L1832 791.3 L1834 791.2 L1836 791.2 L1838 791.1 L1840 791.1 L1842 791 L1844 790.9 L1846 790.8 L1848 790.8 L1850 790.7 L1852 790.6 L1854 790.5 L1856 790.4 L1858 790.3 L1860 790.2 L1862 790 L1864 789.9 L1866 789.8 L1868 789.6 L1870 789.5 L1872 789.3 L1874 789.1 L1876 788.9 L1878 788.7 L1880 788.5 L1882 788.3 L1884 788.1 L1886 787.8 L1888 787.6 L1890 787.3 L1892 787 L1894 786.7 L1896 786.4 L1898 786 L1900 785.6 L1902 785.3 L1904 784.8 L1906 784.4 L1908 784 L1910 783.5 L1912 783 L1914 782.4 L1916 781.9 L1918 781.3 L1920 780.7 L1922 780.1 L1924 779.4 L1926 778.7 L1928 777.9 L1930 777.2 L1932 776.4 L1934 775.5 L1936 774.6 L1938 773.7 L1940 772.8 L1942 771.8 L1944 770.7 L1946 769.6 L1948 768.5 L1950 767.4 L1952 766.1 L1954 764.9 L1956 763.6 L1958 762.3 L1960 760.9 L1962 759.4 L1964 757.9 L1966 756.4 L1968 754.8 L1970 753.2 L1972 751.5 L1974 749.8 L1976 748 L1978 746.2 L1980 744.3 L1982 742.4 L1984 740.5 L1986 738.5 L1988 736.4 L1990 734.3 L1992 732.2 L1994 730 L1996 727.8 L1998 725.6 L2000 723.3 L2002 720.9 L2004 718.6 L2006 716.2 L2008 713.8 L2010 711.3 L2012 708.9 L2014 706.4 L2016 703.9 L2018 701.3 L2020 698.8 L2022 696.2 L2024 693.7 L2026 691.1 L2028 688.6 L2030 686 L2032 683.4 L2034 680.9 L2036 678.3 L2038 675.8 L2040 673.3 L2042 670.9 L2044 668.4 L2046 666 L2048 663.6 L2050 661.3 L2052 659 L2054 656.8 L2056 654.6 L2058 652.4 L2060 650.4 L2062 648.4 L2064 646.4 L2066 644.6 L2068 642.8 L2070 641.1 L2072 639.5 L2074 637.9 L2076 636.5 L2078 635.1 L2080 633.9 L2082 632.7 L2084 631.7 L2086 630.8 L2088 629.9 L2090 629.2 L2092 628.6 L2094 628.1 L2096 627.7 L2098 627.5 L2100 627.3 L2102 627.3 L2104 627.4 L2106 627.6 L2108 627.9 L2110 628.4 L2112 628.9 L2114 629.6 L2116 630.3 L2118 631.2 L2120 632.2 L2122 633.3 L2124 634.5 L2126 635.8 L2128 637.2 L2130 638.7 L2132 640.3 L2134 641.9 L2136 643.7 L2138 645.5 L2140 647.4 L2142 649.4 L2144 651.4 L2146 653.5 L2148 655.7 L2150 657.9 L2152 660.1 L2154 662.5 L2156 664.8 L2158 667.2 L2160 669.6 L2162 672.1 L2164 674.6 L2166 677.1 L2168 679.6 L2170 682.2 L2172 684.7 L2174 687.3 L2176 689.8 L2178 692.4 L2180 695 L2182 697.5 L2184 700.1 L2186 702.6 L2188 705.1 L2190 707.6 L2192 710.1 L2194 712.6 L2196 715 L2198 717.4 L2200 719.8 L2202 722.1 L2204 724.4 L2206 726.7 L2208 728.9 L2210 731.1 L2212 733.3 L2214 735.4 L2216 737.5 L2218 739.5 L2220 741.5 L2222 743.4 L2224 745.3 L2226 747.1 L2228 748.9 L2230 750.7 L2232 752.4 L2234 754 L2236 755.6 L2238 757.2 L2240 758.7 L2242 760.1 L2244 761.6 L2246 762.9 L2248 764.3 L2250 765.5 L2252 766.8 L2254 767.9 L2256 769.1 L2258 770.2 L2260 771.2 L2262 772.3 L2264 773.2 L2266 774.2 L2268 775.1 L2270 775.9 L2272 776.8 L2274 777.6 L2276 778.3 L2278 779 L2280 779.7 L2282 780.4 L2284 781 L2286 781.6 L2288 782.2 L2290 782.7 L2292 783.2 L2294 783.7 L2296 784.2 L2298 784.6 L2300 785 L2302 785.4 L2304 785.8 L2306 786.2 L2308 786.5 L2310 786.8 L2312 787.1 L2314 787.4 L2316 787.7 L2318 788 L2320 788.2 L2322 788.4 L2324 788.6 L2326 788.8 L2328 789 L2330 789.2 L2332 789.4 L2334 789.5 L2336 789.7 L2338 789.8 L2340 790 L2342 790.1 L2344 790.2 L2346 790.3 L2348 790.4 L2350 790.5 L2352 790.6 L2354 790.7 L2356 790.8 L2358 790.9 L2360 790.9 L2362 791 L2364 791.1 L2366 791.1 L2368 791.2 L2370 791.3 L2372 791.3 L2374 791.4 L2376 791.4 L2378 791.5 L2380 791.5 L2382 791.5 L2384 791.6 L2386 791.6 L2388 791.6 L2390 791.7 L2392 791.7 L2394 791.7 L2396 791.8 L2398 791.8 L2400 791.8 L2402 791.8 L2404 791.9 L2406 791.9 L2408 791.9 L2410 791.9 L2412 792 L2414 792 L2416 792 L2418 792 L2420 792 L2422 792 L2424 792.1 L2426 792.1 L2428 792.1 L2430 792.1 L2432 792.1 L2432.6 792.1" fill="none" stroke="#00AD5F" stroke-width="3.9" stroke-linejoin="round" stroke-linecap="butt" />
<path d="M1368 793.3 L1370 793.3 L1372 793.3 L1374 793.3 L1376 793.3 L1378 793.3 L1380 793.3 L1382 793.3 L1384 793.3 L1386 793.3 L1388 793.3 L1390 793.3 L1392 793.3 L1394 793.3 L1396 793.3 L1398 793.3 L1400 793.3 L1402 793.3 L1404 793.3 L1406 793.3 L1408 793.3 L1410 793.3 L1412 793.3 L1414 793.3 L1416 793.3 L1418 793.3 L1420 793.3 L1422 793.3 L1424 793.3 L1426 793.3 L1428 793.3 L1430 793.3 L1432 793.3 L1434 793.3 L1436 793.3 L1438 793.3 L1440 793.3 L1442 793.3 L1444 793.3 L1446 793.3 L1448 793.3 L1450 793.3 L1452 793.3 L1454 793.3 L1456 793.3 L1458 793.3 L1460 793.3 L1462 793.3 L1464 793.3 L1466 793.3 L1468 793.3 L1470 793.3 L1472 793.3 L1474 793.3 L1476 793.2 L1478 793.2 L1480 793.2 L1482 793.2 L1484 793.2 L1486 793.2 L1488 793.1 L1490 793.1 L1492 793.1 L1494 793 L1496 793 L1498 792.9 L1500 792.9 L1502 792.8 L1504 792.7 L1506 792.6 L1508 792.5 L1510 792.4 L1512 792.3 L1514 792.1 L1516 791.9 L1518 791.7 L1520 791.5 L1522 791.2 L1524 790.9 L1526 790.6 L1528 790.3 L1530 789.9 L1532 789.4 L1534 788.9 L1536 788.4 L1538 787.8 L1540 787.2 L1542 786.5 L1544 785.7 L1546 784.9 L1548 784 L1550 783 L1552 782 L1554 780.8 L1556 779.6 L1558 778.4 L1560 777 L1562 775.5 L1564 774 L1566 772.4 L1568 770.7 L1570 769 L1572 767.1 L1574 765.2 L1576 763.2 L1578 761.2 L1580 759.1 L1582 756.9 L1584 754.7 L1586 752.5 L1588 750.2 L1590 748 L1592 745.7 L1594 743.4 L1596 741.1 L1598 738.9 L1600 736.7 L1602 734.5 L1604 732.5 L1606 730.5 L1608 728.5 L1610 726.7 L1612 725 L1614 723.4 L1616 722 L1618 720.7 L1620 719.5 L1622 718.5 L1624 717.7 L1626 717 L1628 716.5 L1630 716.2 L1632 716.1 L1634 716.2 L1636 716.4 L1638 716.8 L1640 717.4 L1642 718.2 L1644 719.2 L1646 720.3 L1648 721.6 L1650 723 L1652 724.5 L1654 726.2 L1656 728 L1658 729.9 L1660 731.9 L1662 733.9 L1664 736 L1666 738.2 L1668 740.5 L1670 742.7 L1672 745 L1674 747.3 L1676 749.6 L1678 751.8 L1680 754.1 L1682 756.3 L1684 758.4 L1686 760.6 L1688 762.6 L1690 764.6 L1692 766.6 L1694 768.4 L1696 770.2 L1698 771.9 L1700 773.6 L1702 775.1 L1704 776.6 L1706 778 L1708 779.3 L1710 780.5 L1712 781.6 L1714 782.7 L1716 783.7 L1718 784.6 L1720 785.5 L1722 786.2 L1724 787 L1726 787.6 L1728 788.2 L1730 788.8 L1732 789.3 L1734 789.7 L1736 790.1 L1738 790.5 L1740 790.8 L1742 791.1 L1744 791.4 L1746 791.6 L1748 791.9 L1750 792 L1752 792.2 L1754 792.4 L1756 792.5 L1758 792.6 L1760 792.7 L1762 792.8 L1764 792.9 L1766 792.9 L1768 793 L1770 793 L1772 793.1 L1774 793.1 L1776 793.1 L1778 793.2 L1780 793.2 L1782 793.2 L1784 793.2 L1786 793.2 L1788 793.2 L1790 793.3 L1792 793.3 L1794 793.3 L1796 793.3 L1798 793.3 L1800 793.3 L1802 793.3 L1804 793.3 L1806 793.3 L1808 793.3 L1810 793.3 L1812 793.3 L1814 793.3 L1816 793.3 L1818 793.3 L1820 793.3 L1822 793.3 L1824 793.3 L1826 793.3 L1828 793.3 L1830 793.3 L1832 793.3 L1834 793.3 L1836 793.3 L1838 793.3 L1840 793.3 L1842 793.3 L1844 793.3 L1846 793.3 L1848 793.3 L1850 793.3 L1852 793.3 L1854 793.3 L1856 793.3 L1858 793.3 L1860 793.3 L1862 793.3 L1864 793.3 L1866 793.3 L1868 793.3 L1870 793.3 L1872 793.3 L1874 793.3 L1876 793.3 L1878 793.3 L1880 793.3 L1882 793.3 L1884 793.3 L1886 793.3 L1888 793.3 L1890 793.3 L1892 793.3 L1894 793.3 L1896 793.3 L1898 793.3 L1900 793.3 L1902 793.3 L1904 793.3 L1906 793.3 L1908 793.3 L1910 793.3 L1912 793.3 L1914 793.3 L1916 793.3 L1918 793.3 L1920 793.3 L1922 793.3 L1924 793.3 L1926 793.3 L1928 793.3 L1930 793.3 L1932 793.3 L1934 793.3 L1936 793.3 L1938 793.3 L1940 793.3 L1942 793.3 L1944 793.3 L1946 793.3 L1948 793.3 L1950 793.3 L1952 793.3 L1954 793.3 L1956 793.3 L1958 793.3 L1960 793.3 L1962 793.3 L1964 793.3 L1966 793.3 L1968 793.3 L1970 793.3 L1972 793.3 L1974 793.3 L1976 793.3 L1978 793.3 L1980 793.3 L1982 793.3 L1984 793.3 L1986 793.3 L1988 793.3 L1990 793.3 L1992 793.3 L1994 793.3 L1996 793.3 L1998 793.3 L2000 793.3 L2002 793.3 L2004 793.3 L2006 793.3 L2008 793.3 L2010 793.3 L2012 793.3 L2014 793.3 L2016 793.3 L2018 793.3 L2020 793.3 L2022 793.3 L2024 793.3 L2026 793.3 L2028 793.3 L2030 793.3 L2032 793.3 L2034 793.3 L2036 793.3 L2038 793.3 L2040 793.3 L2042 793.3 L2044 793.3 L2046 793.3 L2048 793.3 L2050 793.3 L2052 793.3 L2054 793.3 L2056 793.3 L2058 793.3 L2060 793.3 L2062 793.3 L2064 793.3 L2066 793.3 L2068 793.3 L2070 793.3 L2072 793.3 L2074 793.3 L2076 793.3 L2078 793.3 L2080 793.3 L2082 793.3 L2084 793.3 L2086 793.3 L2088 793.3 L2090 793.3 L2092 793.3 L2094 793.3 L2096 793.3 L2098 793.3 L2100 793.3 L2102 793.3 L2104 793.3 L2106 793.3 L2108 793.3 L2110 793.3 L2112 793.3 L2114 793.3 L2116 793.3 L2118 793.3 L2120 793.3 L2122 793.3 L2124 793.3 L2126 793.3 L2128 793.3 L2130 793.3 L2132 793.3 L2134 793.3 L2136 793.3 L2138 793.3 L2140 793.3 L2142 793.3 L2144 793.3 L2146 793.3 L2148 793.3 L2150 793.3 L2152 793.3 L2154 793.3 L2156 793.3 L2158 793.3 L2160 793.3 L2162 793.3 L2164 793.3 L2166 793.3 L2168 793.3 L2170 793.3 L2172 793.3 L2174 793.3 L2176 793.3 L2178 793.3 L2180 793.3 L2182 793.3 L2184 793.3 L2186 793.3 L2188 793.3 L2190 793.3 L2192 793.3 L2194 793.3 L2196 793.3 L2198 793.3 L2200 793.3 L2202 793.3 L2204 793.3 L2206 793.3 L2208 793.3 L2210 793.3 L2212 793.3 L2214 793.3 L2216 793.3 L2218 793.3 L2220 793.3 L2222 793.3 L2224 793.3 L2226 793.3 L2228 793.3 L2230 793.3 L2232 793.3 L2234 793.3 L2236 793.3 L2238 793.3 L2240 793.3 L2242 793.3 L2244 793.3 L2246 793.3 L2248 793.3 L2250 793.3 L2252 793.3 L2254 793.3 L2256 793.3 L2258 793.3 L2260 793.3 L2262 793.3 L2264 793.3 L2266 793.3 L2268 793.3 L2270 793.3 L2272 793.3 L2274 793.3 L2276 793.3 L2278 793.3 L2280 793.3 L2282 793.3 L2284 793.3 L2286 793.3 L2288 793.3 L2290 793.3 L2292 793.3 L2294 793.3 L2296 793.3 L2298 793.3 L2300 793.3 L2302 793.3 L2304 793.3 L2306 793.3 L2308 793.3 L2310 793.3 L2312 793.3 L2314 793.3 L2316 793.3 L2318 793.3 L2320 793.3 L2322 793.3 L2324 793.3 L2326 793.3 L2328 793.3 L2330 793.3 L2332 793.3 L2334 793.3 L2336 793.3 L2338 793.3 L2340 793.3 L2342 793.3 L2344 793.3 L2346 793.3 L2348 793.3 L2350 793.3 L2352 793.3 L2354 793.3 L2356 793.3 L2358 793.3 L2360 793.3 L2362 793.3 L2364 793.3 L2366 793.3 L2368 793.3 L2370 793.3 L2372 793.3 L2374 793.3 L2376 793.3 L2378 793.3 L2380 793.3 L2382 793.3 L2384 793.3 L2386 793.3 L2388 793.3 L2390 793.3 L2392 793.3 L2394 793.3 L2396 793.3 L2398 793.3 L2400 793.3 L2402 793.3 L2404 793.3 L2406 793.3 L2408 793.3 L2410 793.3 L2412 793.3 L2414 793.3 L2416 793.3 L2418 793.3 L2420 793.3 L2422 793.3 L2424 793.3 L2426 793.3 L2428 793.3 L2430 793.3 L2432 793.3 L2432.6 793.3" fill="none" stroke="#FFC800" stroke-width="3.9" stroke-linejoin="round" stroke-linecap="butt" />
<path d="M1368 793.3 L1370 793.3 L1372 793.3 L1374 793.3 L1376 793.3 L1378 793.3 L1380 793.3 L1382 793.3 L1384 793.3 L1386 793.3 L1388 793.3 L1390 793.3 L1392 793.3 L1394 793.3 L1396 793.3 L1398 793.3 L1400 793.3 L1402 793.3 L1404 793.3 L1406 793.3 L1408 793.3 L1410 793.3 L1412 793.3 L1414 793.3 L1416 793.3 L1418 793.3 L1420 793.3 L1422 793.3 L1424 793.3 L1426 793.3 L1428 793.3 L1430 793.3 L1432 793.3 L1434 793.3 L1436 793.3 L1438 793.3 L1440 793.3 L1442 793.3 L1444 793.3 L1446 793.3 L1448 793.3 L1450 793.3 L1452 793.3 L1454 793.3 L1456 793.3 L1458 793.3 L1460 793.3 L1462 793.3 L1464 793.3 L1466 793.3 L1468 793.3 L1470 793.3 L1472 793.3 L1474 793.3 L1476 793.3 L1478 793.3 L1480 793.3 L1482 793.3 L1484 793.3 L1486 793.3 L1488 793.3 L1490 793.3 L1492 793.3 L1494 793.3 L1496 793.3 L1498 793.3 L1500 793.3 L1502 793.3 L1504 793.3 L1506 793.3 L1508 793.3 L1510 793.3 L1512 793.3 L1514 793.3 L1516 793.3 L1518 793.3 L1520 793.3 L1522 793.3 L1524 793.3 L1526 793.3 L1528 793.3 L1530 793.3 L1532 793.3 L1534 793.3 L1536 793.3 L1538 793.3 L1540 793.3 L1542 793.3 L1544 793.3 L1546 793.3 L1548 793.3 L1550 793.3 L1552 793.3 L1554 793.3 L1556 793.3 L1558 793.3 L1560 793.3 L1562 793.3 L1564 793.3 L1566 793.3 L1568 793.3 L1570 793.3 L1572 793.3 L1574 793.3 L1576 793.3 L1578 793.3 L1580 793.3 L1582 793.3 L1584 793.3 L1586 793.3 L1588 793.3 L1590 793.3 L1592 793.3 L1594 793.3 L1596 793.3 L1598 793.3 L1600 793.3 L1602 793.3 L1604 793.3 L1606 793.3 L1608 793.3 L1610 793.3 L1612 793.3 L1614 793.3 L1616 793.3 L1618 793.3 L1620 793.3 L1622 793.3 L1624 793.3 L1626 793.3 L1628 793.3 L1630 793.3 L1632 793.3 L1634 793.3 L1636 793.3 L1638 793.3 L1640 793.3 L1642 793.3 L1644 793.3 L1646 793.3 L1648 793.3 L1650 793.3 L1652 793.3 L1654 793.3 L1656 793.3 L1658 793.3 L1660 793.3 L1662 793.3 L1664 793.3 L1666 793.3 L1668 793.3 L1670 793.3 L1672 793.3 L1674 793.3 L1676 793.3 L1678 793.3 L1680 793.3 L1682 793.3 L1684 793.3 L1686 793.3 L1688 793.3 L1690 793.3 L1692 793.3 L1694 793.3 L1696 793.3 L1698 793.3 L1700 793.3 L1702 793.3 L1704 793.3 L1706 793.3 L1708 793.3 L1710 793.3 L1712 793.3 L1714 793.3 L1716 793.3 L1718 793.3 L1720 793.3 L1722 793.3 L1724 793.3 L1726 793.3 L1728 793.3 L1730 793.3 L1732 793.3 L1734 793.3 L1736 793.3 L1738 793.3 L1740 793.3 L1742 793.3 L1744 793.3 L1746 793.3 L1748 793.3 L1750 793.3 L1752 793.3 L1754 793.3 L1756 793.3 L1758 793.3 L1760 793.3 L1762 793.3 L1764 793.3 L1766 793.3 L1768 793.3 L1770 793.3 L1772 793.3 L1774 793.3 L1776 793.3 L1778 793.3 L1780 793.3 L1782 793.3 L1784 793.3 L1786 793.3 L1788 793.3 L1790 793.3 L1792 793.3 L1794 793.3 L1796 793.3 L1798 793.3 L1800 793.3 L1802 793.3 L1804 793.3 L1806 793.3 L1808 793.3 L1810 793.3 L1812 793.3 L1814 793.3 L1816 793.3 L1818 793.3 L1820 793.3 L1822 793.3 L1824 793.3 L1826 793.3 L1828 793.3 L1830 793.3 L1832 793.3 L1834 793.3 L1836 793.3 L1838 793.3 L1840 793.3 L1842 793.3 L1844 793.3 L1846 793.3 L1848 793.3 L1850 793.3 L1852 793.3 L1854 793.3 L1856 793.3 L1858 793.3 L1860 793.3 L1862 793.3 L1864 793.3 L1866 793.3 L1868 793.3 L1870 793.3 L1872 793.3 L1874 793.3 L1876 793.3 L1878 793.3 L1880 793.3 L1882 793.3 L1884 793.3 L1886 793.3 L1888 793.3 L1890 793.3 L1892 793.3 L1894 793.3 L1896 793.3 L1898 793.3 L1900 793.3 L1902 793.3 L1904 793.3 L1906 793.3 L1908 793.3 L1910 793.3 L1912 793.3 L1914 793.3 L1916 793.3 L1918 793.3 L1920 793.3 L1922 793.3 L1924 793.3 L1926 793.3 L1928 793.3 L1930 793.3 L1932 793.3 L1934 793.3 L1936 793.3 L1938 793.3 L1940 793.3 L1942 793.3 L1944 793.3 L1946 793.3 L1948 793.3 L1950 793.3 L1952 793.3 L1954 793.3 L1956 793.3 L1958 793.3 L1960 793.3 L1962 793.3 L1964 793.3 L1966 793.3 L1968 793.3 L1970 793.3 L1972 793.3 L1974 793.3 L1976 793.3 L1978 793.3 L1980 793.3 L1982 793.3 L1984 793.3 L1986 793.3 L1988 793.3 L1990 793.3 L1992 793.3 L1994 793.3 L1996 793.3 L1998 793.3 L2000 793.3 L2002 793.3 L2004 793.3 L2006 793.3 L2008 793.3 L2010 793.3 L2012 793.3 L2014 793.3 L2016 793.3 L2018 793.3 L2020 793.3 L2022 793.3 L2024 793.3 L2026 793.3 L2028 793.3 L2030 793.3 L2032 793.3 L2034 793.3 L2036 793.3 L2038 793.2 L2040 793.2 L2042 793.2 L2044 793.2 L2046 793.2 L2048 793.2 L2050 793.2 L2052 793.2 L2054 793.2 L2056 793.1 L2058 793.1 L2060 793.1 L2062 793.1 L2064 793.1 L2066 793 L2068 793 L2070 793 L2072 792.9 L2074 792.9 L2076 792.8 L2078 792.8 L2080 792.7 L2082 792.7 L2084 792.6 L2086 792.5 L2088 792.4 L2090 792.4 L2092 792.3 L2094 792.2 L2096 792 L2098 791.9 L2100 791.8 L2102 791.6 L2104 791.5 L2106 791.3 L2108 791.1 L2110 790.9 L2112 790.7 L2114 790.5 L2116 790.3 L2118 790 L2120 789.7 L2122 789.4 L2124 789.1 L2126 788.8 L2128 788.4 L2130 788.1 L2132 787.7 L2134 787.3 L2136 786.8 L2138 786.3 L2140 785.9 L2142 785.3 L2144 784.8 L2146 784.2 L2148 783.6 L2150 783 L2152 782.4 L2154 781.7 L2156 781 L2158 780.2 L2160 779.5 L2162 778.7 L2164 777.9 L2166 777 L2168 776.2 L2170 775.3 L2172 774.4 L2174 773.4 L2176 772.5 L2178 771.5 L2180 770.5 L2182 769.5 L2184 768.5 L2186 767.4 L2188 766.4 L2190 765.3 L2192 764.3 L2194 763.2 L2196 762.1 L2198 761 L2200 760 L2202 758.9 L2204 757.9 L2206 756.8 L2208 755.8 L2210 754.8 L2212 753.8 L2214 752.8 L2216 751.8 L2218 750.9 L2220 750 L2222 749.2 L2224 748.3 L2226 747.6 L2228 746.8 L2230 746.1 L2232 745.5 L2234 744.9 L2236 744.3 L2238 743.8 L2240 743.4 L2242 743 L2244 742.7 L2246 742.4 L2248 742.2 L2250 742 L2252 741.9 L2254 741.9 L2256 741.9 L2258 742 L2260 742.2 L2262 742.4 L2264 742.7 L2266 743 L2268 743.4 L2270 743.8 L2272 744.3 L2274 744.9 L2276 745.5 L2278 746.1 L2280 746.8 L2282 747.6 L2284 748.3 L2286 749.2 L2288 750 L2290 750.9 L2292 751.8 L2294 752.8 L2296 753.8 L2298 754.8 L2300 755.8 L2302 756.8 L2304 757.9 L2306 758.9 L2308 760 L2310 761 L2312 762.1 L2314 763.2 L2316 764.3 L2318 765.3 L2320 766.4 L2322 767.4 L2324 768.5 L2326 769.5 L2328 770.5 L2330 771.5 L2332 772.5 L2334 773.4 L2336 774.4 L2338 775.3 L2340 776.2 L2342 777 L2344 777.9 L2346 778.7 L2348 779.5 L2350 780.2 L2352 781 L2354 781.7 L2356 782.4 L2358 783 L2360 783.6 L2362 784.2 L2364 784.8 L2366 785.3 L2368 785.9 L2370 786.3 L2372 786.8 L2374 787.3 L2376 787.7 L2378 788.1 L2380 788.4 L2382 788.8 L2384 789.1 L2386 789.4 L2388 789.7 L2390 790 L2392 790.3 L2394 790.5 L2396 790.7 L2398 790.9 L2400 791.1 L2402 791.3 L2404 791.5 L2406 791.6 L2408 791.8 L2410 791.9 L2412 792 L2414 792.2 L2416 792.3 L2418 792.4 L2420 792.4 L2422 792.5 L2424 792.6 L2426 792.7 L2428 792.7 L2430 792.8 L2432 792.8 L2432.6 792.9" fill="none" stroke="#FFC800" stroke-width="3.9" stroke-linejoin="round" stroke-linecap="butt" />
<path d="M1632 793.1 L1634 793.1 L1636 793 L1638 793 L1640 793 L1642 792.9 L1644 792.9 L1646 792.9 L1648 792.8 L1650 792.8 L1652 792.7 L1654 792.7 L1656 792.6 L1658 792.5 L1660 792.5 L1662 792.4 L1664 792.3 L1666 792.2 L1668 792.1 L1670 792 L1672 791.8 L1674 791.7 L1676 791.5 L1678 791.4 L1680 791.2 L1682 791 L1684 790.8 L1686 790.6 L1688 790.3 L1690 790.1 L1692 789.8 L1694 789.5 L1696 789.2 L1698 788.8 L1700 788.4 L1702 788 L1704 787.6 L1706 787.1 L1708 786.6 L1710 786 L1712 785.5 L1714 784.8 L1716 784.2 L1718 783.5 L1720 782.7 L1722 781.9 L1724 781 L1726 780.1 L1728 779.1 L1730 778.1 L1732 777 L1734 775.8 L1736 774.5 L1738 773.2 L1740 771.8 L1742 770.3 L1744 768.7 L1746 767 L1748 765.3 L1750 763.4 L1752 761.4 L1754 759.3 L1756 757.2 L1758 754.9 L1760 752.4 L1762 749.9 L1764 747.2 L1766 744.4 L1768 741.5 L1770 738.4 L1772 735.2 L1774 731.8 L1776 728.3 L1778 724.6 L1780 720.8 L1782 716.8 L1784 712.6 L1786 708.3 L1788 703.8 L1790 699.1 L1792 694.3 L1794 689.2 L1796 684 L1798 678.6 L1800 673 L1802 667.3 L1804 661.3 L1806 655.2 L1808 648.8 L1810 642.3 L1812 635.6 L1814 628.7 L1816 621.6 L1818 614.3 L1820 606.8 L1822 599.2 L1824 591.4 L1826 583.4 L1828 575.3 L1830 566.9 L1832 558.5 L1834 549.8 L1836 541.1 L1838 532.1 L1840 523.1 L1842 513.9 L1844 504.6 L1846 495.2 L1848 485.7 L1850 476.1 L1852 466.5 L1854 456.7 L1856 446.9 L1858 437.1 L1860 427.2 L1862 417.3 L1864 407.5 L1866 397.6 L1868 387.7 L1870 377.9 L1872 368.1 L1874 358.4 L1876 348.7 L1878 339.2 L1880 329.7 L1882 320.4 L1884 311.2 L1886 302.2 L1888 293.3 L1890 284.7 L1892 276.2 L1894 267.9 L1896 259.9 L1898 252.1 L1900 244.6 L1902 237.3 L1904 230.3 L1906 223.6 L1908 217.3 L1910 211.2 L1912 205.5 L1914 200.1 L1916 195.1 L1918 190.4 L1920 186.1 L1922 182.2 L1924 178.7 L1926 175.6 L1928 172.9 L1930 170.6 L1932 168.7 L1934 167.2 L1936 166.1 L1938 165.5 L1940 165.3 L1942 165.5 L1944 166.2 L1946 167.4 L1948 169 L1950 171.1 L1952 173.6 L1954 176.6 L1956 180 L1958 183.9 L1960 188.1 L1962 192.8 L1964 197.8 L1966 203.3 L1968 209.1 L1970 215.3 L1972 221.8 L1974 228.6 L1976 235.8 L1978 243.2 L1980 250.9 L1982 258.9 L1984 267.1 L1986 275.6 L1988 284.3 L1990 293.2 L1992 302.2 L1994 311.4 L1996 320.8 L1998 330.3 L2000 339.9 L2002 349.6 L2004 359.4 L2006 369.3 L2008 379.2 L2010 389.1 L2012 399.1 L2014 409 L2016 419 L2018 428.9 L2020 438.8 L2022 448.7 L2024 458.5 L2026 468.2 L2028 477.8 L2030 487.4 L2032 496.8 L2034 506.2 L2036 515.4 L2038 524.5 L2040 533.4 L2042 542.2 L2044 550.9 L2046 559.4 L2048 567.7 L2050 575.9 L2052 583.9 L2054 591.7 L2056 599.4 L2058 606.8 L2060 614.1 L2062 621.2 L2064 628.1 L2066 634.8 L2068 641.3 L2070 647.6 L2072 653.8 L2074 659.7 L2076 665.5 L2078 671.1 L2080 676.4 L2082 681.6 L2084 686.7 L2086 691.5 L2088 696.2 L2090 700.6 L2092 705 L2094 709.1 L2096 713.1 L2098 716.9 L2100 720.6 L2102 724.1 L2104 727.4 L2106 730.6 L2108 733.7 L2110 736.6 L2112 739.4 L2114 742.1 L2116 744.7 L2118 747.1 L2120 749.4 L2122 751.6 L2124 753.7 L2126 755.6 L2128 757.5 L2130 759.3 L2132 761 L2134 762.6 L2136 764.1 L2138 765.6 L2140 766.9 L2142 768.2 L2144 769.4 L2146 770.5 L2148 771.6 L2150 772.6 L2152 773.6 L2154 774.5 L2156 775.4 L2158 776.2 L2160 776.9 L2162 777.6 L2164 778.3 L2166 779 L2168 779.5 L2170 780.1 L2172 780.6 L2174 781.1 L2176 781.6 L2178 782 L2180 782.4 L2182 782.8 L2184 783.2 L2186 783.5 L2188 783.8 L2190 784.1 L2192 784.4 L2194 784.7 L2196 785 L2198 785.2 L2200 785.4 L2202 785.6 L2204 785.8 L2206 786 L2208 786.2 L2210 786.4 L2212 786.5 L2214 786.7 L2216 786.8 L2218 787 L2220 787.1 L2222 787.2 L2224 787.3 L2226 787.4 L2228 787.5 L2230 787.7 L2232 787.7 L2234 787.8 L2236 787.9 L2238 788 L2240 788.1 L2242 788.2 L2244 788.3 L2246 788.3 L2248 788.4 L2250 788.5 L2252 788.5 L2254 788.6 L2256 788.7 L2258 788.7 L2260 788.8 L2262 788.9 L2264 788.9 L2266 789 L2268 789 L2270 789.1 L2272 789.1 L2274 789.2 L2276 789.2 L2278 789.3 L2280 789.3 L2282 789.4 L2284 789.4 L2286 789.4 L2288 789.5 L2290 789.5 L2292 789.6 L2294 789.6 L2296 789.7 L2298 789.7 L2300 789.7 L2302 789.8 L2304 789.8 L2306 789.8 L2308 789.9 L2310 789.9 L2312 789.9 L2314 790 L2316 790 L2318 790 L2320 790.1 L2322 790.1 L2324 790.1 L2326 790.2 L2328 790.2 L2330 790.2 L2332 790.3 L2334 790.3 L2336 790.3 L2338 790.4 L2340 790.4 L2342 790.4 L2344 790.4 L2346 790.5 L2348 790.5 L2350 790.5 L2352 790.5 L2354 790.6 L2356 790.6 L2358 790.6 L2360 790.6 L2362 790.7 L2364 790.7 L2366 790.7 L2368 790.7 L2370 790.8 L2372 790.8 L2374 790.8 L2376 790.8 L2378 790.8 L2380 790.9 L2382 790.9 L2384 790.9 L2386 790.9 L2388 791 L2390 791 L2392 791 L2394 791 L2396 791 L2398 791 L2400 791.1 L2402 791.1 L2404 791.1 L2406 791.1 L2408 791.1 L2410 791.2 L2412 791.2 L2414 791.2 L2416 791.2 L2418 791.2 L2420 791.2 L2422 791.3 L2424 791.3 L2426 791.3 L2428 791.3 L2430 791.3 L2432 791.3 L2432.6 791.3" fill="none" stroke="#0000FF" stroke-width="3.9" stroke-linejoin="round" stroke-linecap="butt" />
<path d="M1368 786.7 L1370 786.4 L1372 786.2 L1374 785.9 L1376 785.6 L1378 785.3 L1380 784.9 L1382 784.6 L1384 784.2 L1386 783.9 L1388 783.5 L1390 783.1 L1392 782.6 L1394 782.2 L1396 781.7 L1398 781.2 L1400 780.7 L1402 780.2 L1404 779.7 L1406 779.1 L1408 778.5 L1410 777.9 L1412 777.2 L1414 776.6 L1416 775.9 L1418 775.2 L1420 774.4 L1422 773.6 L1424 772.8 L1426 772 L1428 771.1 L1430 770.2 L1432 769.3 L1434 768.3 L1436 767.3 L1438 766.3 L1440 765.2 L1442 764.1 L1444 763 L1446 761.8 L1448 760.6 L1450 759.3 L1452 758 L1454 756.7 L1456 755.3 L1458 753.9 L1460 752.4 L1462 750.9 L1464 749.3 L1466 747.7 L1468 746.1 L1470 744.4 L1472 742.6 L1474 740.8 L1476 739 L1478 737.1 L1480 735.1 L1482 733.1 L1484 731.1 L1486 729 L1488 726.8 L1490 724.6 L1492 722.4 L1494 720.1 L1496 717.7 L1498 715.2 L1500 712.8 L1502 710.2 L1504 707.6 L1506 704.9 L1508 702.2 L1510 699.4 L1512 696.5 L1514 693.6 L1516 690.6 L1518 687.5 L1520 684.4 L1522 681.2 L1524 677.9 L1526 674.5 L1528 671 L1530 667.5 L1532 663.9 L1534 660.2 L1536 656.4 L1538 652.5 L1540 648.6 L1542 644.5 L1544 640.4 L1546 636.1 L1548 631.8 L1550 627.3 L1552 622.8 L1554 618.1 L1556 613.4 L1558 608.6 L1560 603.6 L1562 598.6 L1564 593.5 L1566 588.2 L1568 582.9 L1570 577.5 L1572 572.1 L1574 566.5 L1576 560.9 L1578 555.2 L1580 549.5 L1582 543.8 L1584 538 L1586 532.2 L1588 526.3 L1590 520.5 L1592 514.7 L1594 509 L1596 503.3 L1598 497.6 L1600 492 L1602 486.6 L1604 481.2 L1606 475.9 L1608 470.8 L1610 465.8 L1612 461 L1614 456.4 L1616 452 L1618 447.7 L1620 443.7 L1622 440 L1624 436.4 L1626 433.1 L1628 430.1 L1630 427.3 L1632 424.8 L1634 422.6 L1636 420.6 L1638 418.9 L1640 417.5 L1642 416.3 L1644 415.4 L1646 414.7 L1648 414.3 L1650 414.2 L1652 414.3 L1654 414.6 L1656 415.2 L1658 415.9 L1660 416.8 L1662 418 L1664 419.3 L1666 420.7 L1668 422.4 L1670 424.1 L1672 426 L1674 428 L1676 430.1 L1678 432.3 L1680 434.5 L1682 436.9 L1684 439.3 L1686 441.7 L1688 444.2 L1690 446.7 L1692 449.2 L1694 451.8 L1696 454.4 L1698 457 L1700 459.6 L1702 462.1 L1704 464.7 L1706 467.3 L1708 469.8 L1710 472.4 L1712 474.9 L1714 477.4 L1716 479.8 L1718 482.3 L1720 484.7 L1722 487 L1724 489.4 L1726 491.7 L1728 493.9 L1730 496.1 L1732 498.3 L1734 500.4 L1736 502.5 L1738 504.5 L1740 506.5 L1742 508.4 L1744 510.3 L1746 512 L1748 513.7 L1750 515.3 L1752 516.9 L1754 518.3 L1756 519.7 L1758 520.9 L1760 522.1 L1762 523.1 L1764 524.1 L1766 524.9 L1768 525.5 L1770 526.1 L1772 526.5 L1774 526.8 L1776 526.9 L1778 526.9 L1780 526.7 L1782 526.3 L1784 525.8 L1786 525 L1788 524.1 L1790 523 L1792 521.8 L1794 520.3 L1796 518.6 L1798 516.7 L1800 514.6 L1802 512.3 L1804 509.8 L1806 507 L1808 504.1 L1810 500.9 L1812 497.5 L1814 493.8 L1816 490 L1818 485.9 L1820 481.6 L1822 477.1 L1824 472.3 L1826 467.3 L1828 462.2 L1830 456.8 L1832 451.2 L1834 445.4 L1836 439.4 L1838 433.2 L1840 426.8 L1842 420.3 L1844 413.6 L1846 406.7 L1848 399.7 L1850 392.5 L1852 385.2 L1854 377.8 L1856 370.2 L1858 362.6 L1860 354.9 L1862 347.1 L1864 339.2 L1866 331.3 L1868 323.3 L1870 315.3 L1872 307.3 L1874 299.3 L1876 291.4 L1878 283.4 L1880 275.5 L1882 267.7 L1884 260 L1886 252.3 L1888 244.8 L1890 237.3 L1892 230.1 L1894 222.9 L1896 216 L1898 209.2 L1900 202.6 L1902 196.2 L1904 190.1 L1906 184.1 L1908 178.5 L1910 173.1 L1912 167.9 L1914 163.1 L1916 158.5 L1918 154.2 L1920 150.3 L1922 146.7 L1924 143.3 L1926 140.4 L1928 137.7 L1930 135.5 L1932 133.5 L1934 131.9 L1936 130.7 L1938 129.8 L1940 129.3 L1942 129.2 L1944 129.4 L1946 130.1 L1948 131.2 L1950 132.6 L1952 134.4 L1954 136.7 L1956 139.2 L1958 142.2 L1960 145.5 L1962 149.1 L1964 153.1 L1966 157.4 L1968 162 L1970 166.9 L1972 172 L1974 177.5 L1976 183.2 L1978 189.1 L1980 195.2 L1982 201.6 L1984 208.1 L1986 214.8 L1988 221.7 L1990 228.7 L1992 235.8 L1994 243.1 L1996 250.4 L1998 257.8 L2000 265.3 L2002 272.9 L2004 280.5 L2006 288.1 L2008 295.7 L2010 303.3 L2012 311 L2014 318.6 L2016 326.1 L2018 333.6 L2020 341.1 L2022 348.5 L2024 355.8 L2026 363.1 L2028 370.2 L2030 377.3 L2032 384.3 L2034 391.1 L2036 397.9 L2038 404.5 L2040 411 L2042 417.4 L2044 423.7 L2046 429.8 L2048 435.8 L2050 441.7 L2052 447.4 L2054 453.1 L2056 458.5 L2058 463.9 L2060 469.1 L2062 474.2 L2064 479.2 L2066 484 L2068 488.8 L2070 493.4 L2072 497.9 L2074 502.3 L2076 506.6 L2078 510.8 L2080 514.9 L2082 518.9 L2084 522.9 L2086 526.7 L2088 530.5 L2090 534.2 L2092 537.8 L2094 541.4 L2096 544.9 L2098 548.4 L2100 551.8 L2102 555.1 L2104 558.4 L2106 561.7 L2108 564.9 L2110 568.1 L2112 571.3 L2114 574.4 L2116 577.5 L2118 580.5 L2120 583.6 L2122 586.6 L2124 589.6 L2126 592.5 L2128 595.4 L2130 598.3 L2132 601.2 L2134 604.1 L2136 606.9 L2138 609.7 L2140 612.5 L2142 615.2 L2144 617.9 L2146 620.6 L2148 623.3 L2150 625.9 L2152 628.5 L2154 631 L2156 633.6 L2158 636 L2160 638.5 L2162 640.9 L2164 643.2 L2166 645.5 L2168 647.8 L2170 650 L2172 652.2 L2174 654.3 L2176 656.4 L2178 658.4 L2180 660.4 L2182 662.4 L2184 664.2 L2186 666.1 L2188 667.9 L2190 669.6 L2192 671.3 L2194 673 L2196 674.6 L2198 676.2 L2200 677.7 L2202 679.2 L2204 680.7 L2206 682.1 L2208 683.5 L2210 684.8 L2212 686.1 L2214 687.4 L2216 688.7 L2218 690 L2220 691.2 L2222 692.4 L2224 693.6 L2226 694.8 L2228 695.9 L2230 697.1 L2232 698.2 L2234 699.4 L2236 700.5 L2238 701.7 L2240 702.8 L2242 704 L2244 705.2 L2246 706.3 L2248 707.5 L2250 708.7 L2252 709.9 L2254 711.2 L2256 712.4 L2258 713.7 L2260 714.9 L2262 716.2 L2264 717.5 L2266 718.9 L2268 720.2 L2270 721.6 L2272 723 L2274 724.3 L2276 725.8 L2278 727.2 L2280 728.6 L2282 730.1 L2284 731.5 L2286 733 L2288 734.5 L2290 735.9 L2292 737.4 L2294 738.9 L2296 740.4 L2298 741.9 L2300 743.4 L2302 744.8 L2304 746.3 L2306 747.7 L2308 749.2 L2310 750.6 L2312 752 L2314 753.4 L2316 754.8 L2318 756.2 L2320 757.5 L2322 758.8 L2324 760.1 L2326 761.4 L2328 762.6 L2330 763.8 L2332 765 L2334 766.1 L2336 767.3 L2338 768.3 L2340 769.4 L2342 770.4 L2344 771.4 L2346 772.4 L2348 773.3 L2350 774.2 L2352 775 L2354 775.8 L2356 776.6 L2358 777.4 L2360 778.1 L2362 778.8 L2364 779.5 L2366 780.1 L2368 780.7 L2370 781.3 L2372 781.8 L2374 782.3 L2376 782.8 L2378 783.3 L2380 783.7 L2382 784.2 L2384 784.5 L2386 784.9 L2388 785.3 L2390 785.6 L2392 785.9 L2394 786.2 L2396 786.5 L2398 786.7 L2400 787 L2402 787.2 L2404 787.4 L2406 787.6 L2408 787.8 L2410 788 L2412 788.1 L2414 788.3 L2416 788.4 L2418 788.6 L2420 788.7 L2422 788.8 L2424 788.9 L2426 789 L2428 789.1 L2430 789.2 L2432 789.3 L2432.6 789.3" fill="none" stroke="#8A4B4B" stroke-width="3.9" stroke-linejoin="round" stroke-linecap="butt" />
<rect x="1368" y="24" width="1064.6" height="795.5" fill="none" stroke="#000" stroke-width="2.6"/>
<line x1="1596.2" y1="819.5" x2="1596.2" y2="835" stroke="#000" stroke-width="2.6"/>
<text x="1596.2" y="874" font-size="37" text-anchor="middle" font-weight="normal" fill="#000" >280</text>
<line x1="1976.4" y1="819.5" x2="1976.4" y2="835" stroke="#000" stroke-width="2.6"/>
<text x="1976.4" y="874" font-size="37" text-anchor="middle" font-weight="normal" fill="#000" >285</text>
<line x1="2356.6" y1="819.5" x2="2356.6" y2="835" stroke="#000" stroke-width="2.6"/>
<text x="2356.6" y="874" font-size="37" text-anchor="middle" font-weight="normal" fill="#000" >290</text>
<text x="1380.3" y="67.6" font-size="48" text-anchor="start" font-weight="bold" fill="#000" letter-spacing="2">(b)</text>
<text x="1922.5" y="69.1" font-size="46" text-anchor="middle" font-weight="bold" fill="#664600" >C 1s + Ru 3d</text>
<text x="2014.6" y="185.1" font-size="37" fill="#000">C 1s</text>
<text x="2014.6" y="231.4" font-size="37" fill="#000">284.6 eV</text>
<text x="1502" y="328.4" font-size="37" fill="#000">Ru 3d<tspan font-size="25" dy="10">3/2</tspan></text>
<text x="1502" y="382" font-size="37" fill="#000">281.0 eV</text>
<text x="1405" y="565.5" font-size="37" fill="#000">Ru 3d<tspan font-size="25" dy="10">5/2</tspan></text>
<text x="1405" y="620.4" font-size="37" fill="#000">280.5 eV</text>
<text x="2150" y="449.7" font-size="37" fill="#000">Ru 3d<tspan font-size="25" dy="10">3/2</tspan></text>
<text x="2150" y="503.4" font-size="37" fill="#000">286.6 eV</text>
<text x="2275.8" y="582" font-size="37" fill="#000">Ru 3d<tspan font-size="25" dy="10">5/2</tspan></text>
<text x="2275.8" y="635.9" font-size="37" fill="#000">288.7 eV</text>
<text x="1642.4" y="565" font-size="33" text-anchor="start" font-weight="normal" fill="#00AD5F" >Ru-O</text>
<text x="2092.8" y="710.7" font-size="33" text-anchor="start" font-weight="normal" fill="#00AD5F" >Ru-O</text>
<text x="1617" y="783.3" font-size="33" fill="#FFC800">Ru<tspan font-size="22" dy="-14.6">0</tspan></text>
<text x="2332.4" y="748.3" font-size="33" fill="#FFC800">Ru<tspan font-size="22" dy="-14.6">0</tspan></text>
<text x="1901.3" y="939.7" font-size="41" text-anchor="middle" font-weight="bold" fill="#000" >Binding Energy (eV)</text>
<text transform="translate(1304.8 396.1) rotate(-90)" font-size="41" text-anchor="middle" font-weight="bold">Intensity (a.u.)</text>
<path d="M112.7 1784.4 L115.2 1787.9 L117.7 1774.4 L120.3 1773.7 L122.8 1781.7 L125.3 1790.6 L127.8 1782.1 L130.3 1772 L132.9 1774.5 L135.4 1779.1 L137.9 1785.6 L140.4 1779.4 L142.9 1777.2 L145.5 1778 L148 1780.5 L150.5 1774.7 L153 1779.4 L155.5 1781 L158.1 1789.6 L160.6 1778.7 L163.1 1785 L165.6 1771.9 L168.1 1783.5 L170.7 1778.4 L173.2 1773.1 L175.7 1775.1 L178.2 1779.3 L180.7 1769.2 L183.3 1774.8 L185.8 1774 L188.3 1769.6 L190.8 1763.1 L193.3 1736.5 L195.9 1736.6 L198.4 1717.7 L200.9 1713 L203.4 1689.5 L205.9 1669.4 L208.5 1646.5 L211 1612 L213.5 1585 L216 1545.1 L218.5 1525.2 L221.1 1468.6 L223.6 1429.1 L226.1 1373.8 L228.6 1331.3 L231.1 1291.4 L233.7 1259.1 L236.2 1217.6 L238.7 1175.1 L241.2 1132.9 L243.7 1118.8 L246.3 1080.5 L248.8 1073.6 L251.3 1084.5 L253.8 1084.7 L256.3 1107.8 L258.9 1132.1 L261.4 1150.4 L263.9 1183.1 L266.4 1214.4 L268.9 1246.5 L271.5 1273.9 L274 1320.2 L276.5 1366.1 L279 1392.2 L281.5 1433 L284.1 1468.5 L286.6 1502.4 L289.1 1507.8 L291.6 1531.7 L294.1 1551.3 L296.7 1564.4 L299.2 1560.4 L301.7 1586.8 L304.2 1573.3 L306.7 1587.3 L309.3 1579.3 L311.8 1582 L314.3 1587.3 L316.8 1576.9 L319.3 1567.4 L321.9 1552.8 L324.4 1546.5 L326.9 1531.8 L329.4 1543.1 L331.9 1509.8 L334.5 1493.9 L337 1508.7 L339.5 1495.2 L342 1473.4 L344.5 1469.9 L347.1 1448 L349.6 1438.6 L352.1 1434.7 L354.6 1423.4 L357.1 1407.6 L359.7 1411.1 L362.2 1396 L364.7 1383.5 L367.2 1367.1 L369.7 1368.6 L372.3 1359.8 L374.8 1356.7 L377.3 1359.1 L379.8 1348.4 L382.3 1353.4 L384.9 1358 L387.4 1357.8 L389.9 1374.2 L392.4 1353.5 L394.9 1370.8 L397.5 1371.1 L400 1386.7 L402.5 1411.1 L405 1395.8 L407.5 1415.1 L410.1 1432.4 L412.6 1440.4 L415.1 1457.9 L417.6 1454.5 L420.1 1483.7 L422.7 1484.4 L425.2 1496.2 L427.7 1521.3 L430.2 1534.4 L432.7 1540.4 L435.3 1553.5 L437.8 1571.1 L440.3 1585.8 L442.8 1597.9 L445.3 1605.3 L447.9 1609.3 L450.4 1644.8 L452.9 1649 L455.4 1650.9 L457.9 1659.3 L460.5 1674.9 L463 1686 L465.5 1683.8 L468 1714.7 L470.5 1716.1 L473.1 1718.4 L475.6 1729.4 L478.1 1735 L480.6 1746.3 L483.1 1746 L485.7 1758.6 L488.2 1765.6 L490.7 1758.3 L493.2 1761.3 L495.7 1761.3 L498.3 1767.3 L500.8 1765 L503.3 1770.1 L505.8 1772.1 L508.3 1773.8 L510.9 1763.1 L513.4 1777.9 L515.9 1769.3 L518.4 1770.9 L520.9 1768.5 L523.5 1759 L526 1773.4 L528.5 1760 L531 1778.1 L533.5 1770.5 L536.1 1779.4 L538.6 1772.3 L541.1 1771.4 L543.6 1774.4 L546.1 1763.4 L548.7 1771.9 L551.2 1759.2 L553.7 1759.7 L556.2 1751.5 L558.7 1757.3 L561.3 1756 L563.8 1746.4 L566.3 1739.3 L568.8 1745.5 L571.3 1746.8 L573.9 1741.6 L576.4 1735.1 L578.9 1735.7 L581.4 1738 L583.9 1724.4 L586.5 1735.6 L589 1749 L591.5 1732 L594 1739.8 L596.5 1753.3 L599.1 1748.4 L601.6 1751.4 L604.1 1746.4 L606.6 1740.7 L609.1 1766.3 L611.7 1755.5 L614.2 1757.3 L616.7 1768.6 L619.2 1765.3 L621.7 1762.5 L624.3 1757 L626.8 1765 L629.3 1766.7 L631.8 1764.9 L634.3 1765.1 L636.9 1765.5 L639.4 1772.4 L641.9 1770.3 L644.4 1777.7 L646.9 1782.4 L649.5 1778.5 L652 1777.1 L654.5 1787.6 L657 1782.1 L659.5 1768.6 L662.1 1773.8 L664.6 1779.9 L667.1 1773.1 L669.6 1783.8 L672.1 1767.7 L674.7 1766.8 L677.2 1785.5 L679.7 1783 L682.2 1768.9 L684.7 1779.8 L687.3 1788 L689.8 1772.1 L692.3 1771.6 L694.8 1771.4 L697.3 1773 L699.9 1768.1 L702.4 1776.2 L783 1784.9 L785.5 1787.4 L788.1 1782 L790.6 1787.6 L793.1 1778.2 L795.6 1785.5 L798.1 1786 L800.7 1776.5 L803.2 1770.7 L805.7 1782.2 L808.2 1777.6 L810.7 1781.7 L813.3 1772.9 L815.8 1779.1 L818.3 1780.4 L820.8 1787.6 L823.3 1782.8 L825.9 1772.6 L828.4 1778.6 L830.9 1765.1 L833.4 1777.3 L835.9 1771.6 L838.5 1780.7 L841 1775.7 L843.5 1773.4 L846 1771.5 L848.5 1785.1 L851.1 1777.9 L853.6 1782.5 L856.1 1781.2 L858.6 1764.8 L861.1 1781.9 L863.7 1775.4 L866.2 1780.1 L868.7 1780.4 L871.2 1765.3 L873.7 1774.6 L876.3 1775.8 L878.8 1778.3 L881.3 1781.3 L883.8 1770.2 L886.3 1772.5 L888.9 1777.3 L891.4 1760.7 L893.9 1783.7 L896.4 1764.6 L898.9 1778.2 L901.5 1769.5 L904 1779.5 L906.5 1772.7 L909 1764.3 L911.5 1751.9 L914.1 1762.1 L916.6 1761.6 L919.1 1761.1 L921.6 1747.4 L924.1 1748.1 L926.7 1746.1 L929.2 1750.6 L931.7 1740.7 L934.2 1743 L936.7 1747.1 L939.3 1735.6 L941.8 1744.1 L944.3 1734.2 L946.8 1727.5 L949.3 1732.8 L951.9 1725.4 L954.4 1716.7 L956.9 1710.9 L959.4 1710.5 L961.9 1709 L964.5 1710.2 L967 1700.7 L969.5 1691.3 L972 1683.4 L974.5 1690.7 L977.1 1689.3 L979.6 1692.3 L982.1 1680.4 L984.6 1674.7 L987.1 1688.4 L989.7 1682.1 L992.2 1675.9 L994.7 1695.4 L997.2 1691.4 L999.7 1687.2 L1002.3 1689.8 L1004.8 1684.5 L1007.3 1697.1 L1009.8 1689.4 L1012.3 1690.9 L1014.9 1693.6 L1017.4 1690 L1019.9 1706 L1022.4 1712.3 L1024.9 1708.7 L1027.5 1692.9 L1030 1706.7 L1032.5 1707.2 L1035 1716.5 L1037.5 1703 L1040.1 1705.8 L1042.6 1719.6 L1045.1 1731.8 L1047.6 1727.1 L1050.1 1745.5 L1052.7 1728.6 L1055.2 1737.1 L1057.7 1738.6 L1060.2 1736.9 L1062.7 1752 L1065.3 1738.8 L1067.8 1742.9 L1070.3 1749.7 L1072.8 1751.2 L1075.3 1763.6 L1077.9 1754.9 L1080.4 1763.4 L1082.9 1758.9 L1085.4 1771.8 L1087.9 1764.9 L1090.5 1768.2 L1093 1757.2 L1095.5 1773.5 L1098 1765.9 L1100.5 1776.8 L1103.1 1775.3 L1105.6 1776.3 L1108.1 1780.9 L1110.6 1776.7 L1113.1 1769.2 L1115.7 1776.5 L1118.2 1777 L1120.7 1768.8 L1123.2 1780.7 L1125.7 1786.6 L1128.3 1779 L1130.8 1778.4 L1133.3 1780.9 L1135.8 1785.2 L1138.3 1774.8 L1140.9 1784.6 L1143.4 1773.8 L1145.9 1782.1 L1148.4 1782.1 L1150.9 1770.6 L1153.5 1783.2 L1156 1780.4 L1158.5 1768.3 L1161 1776.2 L1163.5 1775.1 L1166.1 1773.4 L1168.6 1781.9" fill="none" stroke="#000" stroke-width="2.6" stroke-linejoin="round" stroke-linecap="butt" />
<path d="M112.2 1779.3 L114.2 1779.3 L116.2 1779.3 L118.2 1779.3 L120.2 1779.3 L122.2 1779.3 L124.2 1779.3 L126.2 1779.3 L128.2 1779.3 L130.2 1779.3 L132.2 1779.3 L134.2 1779.3 L136.2 1779.3 L138.2 1779.3 L140.2 1779.3 L142.2 1779.3 L144.2 1779.3 L146.2 1779.3 L148.2 1779.2 L150.2 1779.2 L152.2 1779.2 L154.2 1779.2 L156.2 1779.1 L158.2 1779 L160.2 1778.9 L162.2 1778.7 L164.2 1778.5 L166.2 1778.2 L168.2 1777.9 L170.2 1777.4 L172.2 1776.7 L174.2 1775.9 L176.2 1774.8 L178.2 1773.4 L180.2 1771.7 L182.2 1769.5 L184.2 1766.8 L186.2 1763.5 L188.2 1759.4 L190.2 1754.5 L192.2 1748.5 L194.2 1741.4 L196.2 1733 L198.2 1723.2 L200.2 1711.7 L202.2 1698.4 L204.2 1683.3 L206.2 1666.1 L208.2 1646.8 L210.2 1625.4 L212.2 1601.8 L214.2 1576.1 L216.2 1548.3 L218.2 1518.6 L220.2 1487.2 L222.2 1454.3 L224.2 1420.4 L226.2 1385.9 L228.2 1351.1 L230.2 1316.6 L232.2 1282.9 L234.2 1250.6 L236.2 1220.3 L238.2 1192.5 L240.2 1167.7 L242.2 1146.5 L244.2 1129.4 L246.2 1116.5 L248.2 1108.3 L250.2 1104.9 L252.2 1106.4 L254.2 1112.7 L256.2 1123.7 L258.2 1139.2 L260.2 1158.8 L262.2 1182.2 L264.2 1208.8 L266.2 1238.2 L268.2 1269.8 L270.2 1302.9 L272.2 1337.2 L274.2 1371.9 L276.2 1406.7 L278.2 1440.9 L280.2 1474.2 L282.2 1506.2 L284.2 1536.6 L286.2 1565.2 L288.2 1591.8 L290.2 1616.2 L292.2 1638.5 L294.2 1658.7 L296.2 1676.6 L298.2 1692.6 L300.2 1706.6 L302.2 1718.8 L304.2 1729.3 L306.2 1738.2 L308.2 1745.8 L310.2 1752.2 L312.2 1757.6 L314.2 1762 L316.2 1765.6 L318.2 1768.5 L320.2 1770.9 L322.2 1772.8 L324.2 1774.3 L326.2 1775.5 L328.2 1776.4 L330.2 1777.1 L332.2 1777.7 L334.2 1778.1 L336.2 1778.4 L338.2 1778.7 L340.2 1778.8 L342.2 1779 L344.2 1779.1 L346.2 1779.1 L348.2 1779.2 L350.2 1779.2 L352.2 1779.2 L354.2 1779.3 L356.2 1779.3 L358.2 1779.3 L360.2 1779.3 L362.2 1779.3 L364.2 1779.3 L366.2 1779.3 L368.2 1779.3 L370.2 1779.3 L372.2 1779.3 L374.2 1779.3 L376.2 1779.3 L378.2 1779.3 L380.2 1779.3 L382.2 1779.3 L384.2 1779.3 L386.2 1779.3 L388.2 1779.3 L390.2 1779.3 L392.2 1779.3 L394.2 1779.3 L396.2 1779.3 L398.2 1779.3 L400.2 1779.3 L402.2 1779.3 L404.2 1779.3 L406.2 1779.3 L408.2 1779.3 L410.2 1779.3 L412.2 1779.3 L414.2 1779.3 L416.2 1779.3 L418.2 1779.3 L420.2 1779.3 L422.2 1779.3 L424.2 1779.3 L426.2 1779.3 L428.2 1779.3 L430.2 1779.3 L432.2 1779.3 L434.2 1779.3 L436.2 1779.3 L438.2 1779.3 L440.2 1779.3 L442.2 1779.3 L444.2 1779.3 L446.2 1779.3 L448.2 1779.3 L450.2 1779.3 L452.2 1779.3 L454.2 1779.3 L456.2 1779.3 L458.2 1779.3 L460.2 1779.3 L462.2 1779.3 L464.2 1779.3 L466.2 1779.3 L468.2 1779.3 L470.2 1779.3 L472.2 1779.3 L474.2 1779.3 L476.2 1779.3 L478.2 1779.3 L480.2 1779.3 L482.2 1779.3 L484.2 1779.3 L486.2 1779.3 L488.2 1779.3 L490.2 1779.3 L492.2 1779.3 L494.2 1779.3 L496.2 1779.3 L498.2 1779.3 L500.2 1779.3 L502.2 1779.3 L504.2 1779.3 L506.2 1779.3 L508.2 1779.3 L510.2 1779.3 L512.2 1779.3 L514.2 1779.3 L516.2 1779.3 L518.2 1779.3 L520.2 1779.3 L522.2 1779.3 L524.2 1779.3 L526.2 1779.3 L528.2 1779.3 L530.2 1779.3 L532.2 1779.3 L534.2 1779.3 L536.2 1779.3 L538.2 1779.3 L540.2 1779.3 L542.2 1779.3 L544.2 1779.3 L546.2 1779.3 L548.2 1779.3 L550.2 1779.3 L552.2 1779.3 L554.2 1779.3 L556.2 1779.3 L558.2 1779.3 L560.2 1779.3 L562.2 1779.3 L564.2 1779.3 L566.2 1779.3 L568.2 1779.3 L570.2 1779.3 L572.2 1779.3 L574.2 1779.3 L576.2 1779.3 L578.2 1779.3 L580.2 1779.3 L582.2 1779.3 L584.2 1779.3 L586.2 1779.3 L588.2 1779.3 L590.2 1779.3 L592.2 1779.3 L594.2 1779.3 L596.2 1779.3 L598.2 1779.3 L600.2 1779.3 L602.2 1779.3 L604.2 1779.3 L606.2 1779.3 L608.2 1779.3 L610.2 1779.3 L612.2 1779.3 L614.2 1779.3 L616.2 1779.3 L618.2 1779.3 L620.2 1779.3 L622.2 1779.3 L624.2 1779.3 L626.2 1779.3 L628.2 1779.3 L630.2 1779.3 L632.2 1779.3 L634.2 1779.3 L636.2 1779.3 L638.2 1779.3 L640.2 1779.3 L642.2 1779.3 L644.2 1779.3 L646.2 1779.3 L648.2 1779.3 L650.2 1779.3 L652.2 1779.3 L654.2 1779.3 L656.2 1779.3 L658.2 1779.3 L660.2 1779.3 L662.2 1779.3 L664.2 1779.3 L666.2 1779.3 L668.2 1779.3 L670.2 1779.3 L672.2 1779.3 L674.2 1779.3 L676.2 1779.3 L678.2 1779.3 L680.2 1779.3 L682.2 1779.3 L684.2 1779.3 L686.2 1779.3 L688.2 1779.3 L690.2 1779.3 L692.2 1779.3 L694.2 1779.3 L696.2 1779.3 L698.2 1779.3 L700.2 1779.3 L702.2 1779.3 L704.2 1779.3 L706.2 1779.3 L708.2 1779.3 L710.2 1779.3 L712.2 1779.3 L714.2 1779.3 L716.2 1779.3 L718.2 1779.3 L720.2 1779.3 L722.2 1779.3 L724.2 1779.3 L726.2 1779.3 L728.2 1779.3 L730.2 1779.3 L732.2 1779.3 L734.2 1779.3 L736.2 1779.3 L738.2 1779.3 L740.2 1779.3 L742.2 1779.3 L744.2 1779.3 L746.2 1779.3 L748.2 1779.3 L750.2 1779.3 L752.2 1779.3 L754.2 1779.3 L756.2 1779.3 L758.2 1779.3 L760.2 1779.3 L762.2 1779.3 L764.2 1779.3 L766.2 1779.3 L768.2 1779.3 L770.2 1779.3 L772.2 1779.3 L774.2 1779.3 L776.2 1779.3 L778.2 1779.3 L780.2 1779.3 L782.2 1779.3 L784.2 1779.3 L786.2 1779.3 L788.2 1779.3 L790.2 1779.3 L792.2 1779.3 L794.2 1779.3 L796.2 1779.3 L798.2 1779.3 L800.2 1779.3 L802.2 1779.3 L804.2 1779.3 L806.2 1779.3 L808.2 1779.3 L810.2 1779.3 L812.2 1779.3 L814.2 1779.3 L816.2 1779.3 L818.2 1779.3 L820.2 1779.3 L822.2 1779.3 L824.2 1779.3 L826.2 1779.3 L828.2 1779.3 L830.2 1779.3 L832.2 1779.3 L834.2 1779.3 L836.2 1779.3 L838.2 1779.3 L840.2 1779.3 L842.2 1779.3 L844.2 1779.3 L846.2 1779.3 L848.2 1779.3 L850.2 1779.3 L852.2 1779.3 L854.2 1779.3 L856.2 1779.3 L858.2 1779.3 L860.2 1779.3 L862.2 1779.3 L864.2 1779.3 L866.2 1779.3 L868.2 1779.3 L870.2 1779.3 L872.2 1779.3 L874.2 1779.3 L876.2 1779.3 L878.2 1779.3 L880.2 1779.3 L882.2 1779.3 L884.2 1779.3 L886.2 1779.3 L888.2 1779.3 L890.2 1779.3 L892.2 1779.3 L894.2 1779.3 L896.2 1779.3 L898.2 1779.3 L900.2 1779.3 L902.2 1779.3 L904.2 1779.3 L906.2 1779.3 L908.2 1779.3 L910.2 1779.3 L912.2 1779.3 L914.2 1779.3 L916.2 1779.3 L918.2 1779.3 L920.2 1779.3 L922.2 1779.3 L924.2 1779.3 L926.2 1779.3 L928.2 1779.3 L930.2 1779.3 L932.2 1779.3 L934.2 1779.3 L936.2 1779.3 L938.2 1779.3 L940.2 1779.3 L942.2 1779.3 L944.2 1779.3 L946.2 1779.3 L948.2 1779.3 L950.2 1779.3 L952.2 1779.3 L954.2 1779.3 L956.2 1779.3 L958.2 1779.3 L960.2 1779.3 L962.2 1779.3 L964.2 1779.3 L966.2 1779.3 L968.2 1779.3 L970.2 1779.3 L972.2 1779.3 L974.2 1779.3 L976.2 1779.3 L978.2 1779.3 L980.2 1779.3 L982.2 1779.3 L984.2 1779.3 L986.2 1779.3 L988.2 1779.3 L990.2 1779.3 L992.2 1779.3 L994.2 1779.3 L996.2 1779.3 L998.2 1779.3 L1000.2 1779.3 L1002.2 1779.3 L1004.2 1779.3 L1006.2 1779.3 L1008.2 1779.3 L1010.2 1779.3 L1012.2 1779.3 L1014.2 1779.3 L1016.2 1779.3 L1018.2 1779.3 L1020.2 1779.3 L1022.2 1779.3 L1024.2 1779.3 L1026.2 1779.3 L1028.2 1779.3 L1030.2 1779.3 L1032.2 1779.3 L1034.2 1779.3 L1036.2 1779.3 L1038.2 1779.3 L1040.2 1779.3 L1042.2 1779.3 L1044.2 1779.3 L1046.2 1779.3 L1048.2 1779.3 L1050.2 1779.3 L1052.2 1779.3 L1054.2 1779.3 L1056.2 1779.3 L1058.2 1779.3 L1060.2 1779.3 L1062.2 1779.3 L1064.2 1779.3 L1066.2 1779.3 L1068.2 1779.3 L1070.2 1779.3 L1072.2 1779.3 L1074.2 1779.3 L1076.2 1779.3 L1078.2 1779.3 L1080.2 1779.3 L1082.2 1779.3 L1084.2 1779.3 L1086.2 1779.3 L1088.2 1779.3 L1090.2 1779.3 L1092.2 1779.3 L1094.2 1779.3 L1096.2 1779.3 L1098.2 1779.3 L1100.2 1779.3 L1102.2 1779.3 L1104.2 1779.3 L1106.2 1779.3 L1108.2 1779.3 L1110.2 1779.3 L1112.2 1779.3 L1114.2 1779.3 L1116.2 1779.3 L1118.2 1779.3 L1120.2 1779.3 L1122.2 1779.3 L1124.2 1779.3 L1126.2 1779.3 L1128.2 1779.3 L1130.2 1779.3 L1132.2 1779.3 L1134.2 1779.3 L1136.2 1779.3 L1138.2 1779.3 L1140.2 1779.3 L1142.2 1779.3 L1144.2 1779.3 L1146.2 1779.3 L1148.2 1779.3 L1150.2 1779.3 L1152.2 1779.3 L1154.2 1779.3 L1156.2 1779.3 L1158.2 1779.3 L1160.2 1779.3 L1162.2 1779.3 L1164.2 1779.3 L1166.2 1779.3 L1168.2 1779.3 L1169.2 1779.3" fill="none" stroke="#FF0000" stroke-width="3.9" stroke-linejoin="round" stroke-linecap="butt" />
<path d="M112.2 1779.3 L114.2 1779.3 L116.2 1779.3 L118.2 1779.3 L120.2 1779.3 L122.2 1779.3 L124.2 1779.3 L126.2 1779.3 L128.2 1779.3 L130.2 1779.3 L132.2 1779.3 L134.2 1779.3 L136.2 1779.3 L138.2 1779.3 L140.2 1779.3 L142.2 1779.3 L144.2 1779.3 L146.2 1779.3 L148.2 1779.3 L150.2 1779.3 L152.2 1779.3 L154.2 1779.3 L156.2 1779.3 L158.2 1779.3 L160.2 1779.3 L162.2 1779.3 L164.2 1779.3 L166.2 1779.3 L168.2 1779.3 L170.2 1779.3 L172.2 1779.3 L174.2 1779.3 L176.2 1779.2 L178.2 1779.2 L180.2 1779.2 L182.2 1779.2 L184.2 1779.2 L186.2 1779.2 L188.2 1779.1 L190.2 1779.1 L192.2 1779.1 L194.2 1779 L196.2 1779 L198.2 1778.9 L200.2 1778.9 L202.2 1778.8 L204.2 1778.7 L206.2 1778.6 L208.2 1778.5 L210.2 1778.4 L212.2 1778.3 L214.2 1778.1 L216.2 1777.9 L218.2 1777.7 L220.2 1777.5 L222.2 1777.2 L224.2 1776.9 L226.2 1776.6 L228.2 1776.2 L230.2 1775.7 L232.2 1775.3 L234.2 1774.7 L236.2 1774.1 L238.2 1773.4 L240.2 1772.7 L242.2 1771.8 L244.2 1770.9 L246.2 1769.9 L248.2 1768.8 L250.2 1767.5 L252.2 1766.1 L254.2 1764.6 L256.2 1763 L258.2 1761.2 L260.2 1759.2 L262.2 1757.1 L264.2 1754.7 L266.2 1752.2 L268.2 1749.5 L270.2 1746.5 L272.2 1743.4 L274.2 1739.9 L276.2 1736.3 L278.2 1732.3 L280.2 1728.1 L282.2 1723.6 L284.2 1718.8 L286.2 1713.8 L288.2 1708.4 L290.2 1702.7 L292.2 1696.7 L294.2 1690.4 L296.2 1683.8 L298.2 1676.9 L300.2 1669.6 L302.2 1662 L304.2 1654.2 L306.2 1646 L308.2 1637.6 L310.2 1628.8 L312.2 1619.9 L314.2 1610.6 L316.2 1601.2 L318.2 1591.5 L320.2 1581.7 L322.2 1571.7 L324.2 1561.6 L326.2 1551.4 L328.2 1541.1 L330.2 1530.8 L332.2 1520.5 L334.2 1510.2 L336.2 1500.1 L338.2 1490 L340.2 1480.1 L342.2 1470.4 L344.2 1460.9 L346.2 1451.7 L348.2 1442.8 L350.2 1434.3 L352.2 1426.2 L354.2 1418.5 L356.2 1411.3 L358.2 1404.6 L360.2 1398.4 L362.2 1392.8 L364.2 1387.8 L366.2 1383.4 L368.2 1379.7 L370.2 1376.7 L372.2 1374.3 L374.2 1372.6 L376.2 1371.6 L378.2 1371.3 L380.2 1371.7 L382.2 1372.9 L384.2 1374.7 L386.2 1377.2 L388.2 1380.4 L390.2 1384.3 L392.2 1388.8 L394.2 1393.9 L396.2 1399.6 L398.2 1405.9 L400.2 1412.7 L402.2 1420 L404.2 1427.8 L406.2 1436 L408.2 1444.6 L410.2 1453.5 L412.2 1462.8 L414.2 1472.3 L416.2 1482 L418.2 1492 L420.2 1502.1 L422.2 1512.3 L424.2 1522.6 L426.2 1532.9 L428.2 1543.2 L430.2 1553.4 L432.2 1563.6 L434.2 1573.7 L436.2 1583.7 L438.2 1593.5 L440.2 1603.1 L442.2 1612.5 L444.2 1621.7 L446.2 1630.6 L448.2 1639.3 L450.2 1647.7 L452.2 1655.8 L454.2 1663.6 L456.2 1671.1 L458.2 1678.3 L460.2 1685.1 L462.2 1691.7 L464.2 1698 L466.2 1703.9 L468.2 1709.5 L470.2 1714.8 L472.2 1719.8 L474.2 1724.5 L476.2 1729 L478.2 1733.1 L480.2 1737 L482.2 1740.6 L484.2 1744 L486.2 1747.1 L488.2 1750.1 L490.2 1752.7 L492.2 1755.2 L494.2 1757.5 L496.2 1759.6 L498.2 1761.6 L500.2 1763.3 L502.2 1765 L504.2 1766.4 L506.2 1767.8 L508.2 1769 L510.2 1770.1 L512.2 1771.1 L514.2 1772 L516.2 1772.8 L518.2 1773.6 L520.2 1774.2 L522.2 1774.8 L524.2 1775.4 L526.2 1775.8 L528.2 1776.2 L530.2 1776.6 L532.2 1777 L534.2 1777.3 L536.2 1777.5 L538.2 1777.7 L540.2 1777.9 L542.2 1778.1 L544.2 1778.3 L546.2 1778.4 L548.2 1778.5 L550.2 1778.6 L552.2 1778.7 L554.2 1778.8 L556.2 1778.9 L558.2 1778.9 L560.2 1779 L562.2 1779 L564.2 1779.1 L566.2 1779.1 L568.2 1779.1 L570.2 1779.2 L572.2 1779.2 L574.2 1779.2 L576.2 1779.2 L578.2 1779.2 L580.2 1779.2 L582.2 1779.3 L584.2 1779.3 L586.2 1779.3 L588.2 1779.3 L590.2 1779.3 L592.2 1779.3 L594.2 1779.3 L596.2 1779.3 L598.2 1779.3 L600.2 1779.3 L602.2 1779.3 L604.2 1779.3 L606.2 1779.3 L608.2 1779.3 L610.2 1779.3 L612.2 1779.3 L614.2 1779.3 L616.2 1779.3 L618.2 1779.3 L620.2 1779.3 L622.2 1779.3 L624.2 1779.3 L626.2 1779.3 L628.2 1779.3 L630.2 1779.3 L632.2 1779.3 L634.2 1779.3 L636.2 1779.3 L638.2 1779.3 L640.2 1779.3 L642.2 1779.3 L644.2 1779.3 L646.2 1779.3 L648.2 1779.3 L650.2 1779.3 L652.2 1779.3 L654.2 1779.3 L656.2 1779.3 L658.2 1779.3 L660.2 1779.3 L662.2 1779.3 L664.2 1779.3 L666.2 1779.3 L668.2 1779.3 L670.2 1779.3 L672.2 1779.3 L674.2 1779.3 L676.2 1779.3 L678.2 1779.3 L680.2 1779.3 L682.2 1779.3 L684.2 1779.3 L686.2 1779.3 L688.2 1779.3 L690.2 1779.3 L692.2 1779.3 L694.2 1779.3 L696.2 1779.3 L698.2 1779.3 L700.2 1779.3 L702.2 1779.3 L704.2 1779.3 L706.2 1779.3 L708.2 1779.3 L710.2 1779.3 L712.2 1779.3 L714.2 1779.3 L716.2 1779.3 L718.2 1779.3 L720.2 1779.3 L722.2 1779.3 L724.2 1779.3 L726.2 1779.3 L728.2 1779.3 L730.2 1779.3 L732.2 1779.3 L734.2 1779.3 L736.2 1779.3 L738.2 1779.3 L740.2 1779.3 L742.2 1779.3 L744.2 1779.3 L746.2 1779.3 L748.2 1779.3 L750.2 1779.3 L752.2 1779.3 L754.2 1779.3 L756.2 1779.3 L758.2 1779.3 L760.2 1779.3 L762.2 1779.3 L764.2 1779.3 L766.2 1779.3 L768.2 1779.3 L770.2 1779.3 L772.2 1779.3 L774.2 1779.3 L776.2 1779.3 L778.2 1779.3 L780.2 1779.3 L782.2 1779.3 L784.2 1779.3 L786.2 1779.3 L788.2 1779.3 L790.2 1779.3 L792.2 1779.3 L794.2 1779.3 L796.2 1779.3 L798.2 1779.3 L800.2 1779.3 L802.2 1779.3 L804.2 1779.3 L806.2 1779.3 L808.2 1779.3 L810.2 1779.3 L812.2 1779.3 L814.2 1779.3 L816.2 1779.3 L818.2 1779.3 L820.2 1779.3 L822.2 1779.3 L824.2 1779.3 L826.2 1779.3 L828.2 1779.3 L830.2 1779.3 L832.2 1779.3 L834.2 1779.3 L836.2 1779.3 L838.2 1779.3 L840.2 1779.3 L842.2 1779.3 L844.2 1779.3 L846.2 1779.3 L848.2 1779.3 L850.2 1779.3 L852.2 1779.3 L854.2 1779.3 L856.2 1779.3 L858.2 1779.3 L860.2 1779.3 L862.2 1779.3 L864.2 1779.3 L866.2 1779.3 L868.2 1779.3 L870.2 1779.3 L872.2 1779.3 L874.2 1779.3 L876.2 1779.3 L878.2 1779.3 L880.2 1779.3 L882.2 1779.3 L884.2 1779.3 L886.2 1779.3 L888.2 1779.3 L890.2 1779.3 L892.2 1779.3 L894.2 1779.3 L896.2 1779.3 L898.2 1779.3 L900.2 1779.3 L902.2 1779.3 L904.2 1779.3 L906.2 1779.3 L908.2 1779.3 L910.2 1779.3 L912.2 1779.3 L914.2 1779.3 L916.2 1779.3 L918.2 1779.3 L920.2 1779.3 L922.2 1779.3 L924.2 1779.3 L926.2 1779.3 L928.2 1779.3 L930.2 1779.3 L932.2 1779.3 L934.2 1779.3 L936.2 1779.3 L938.2 1779.3 L940.2 1779.3 L942.2 1779.3 L944.2 1779.3 L946.2 1779.3 L948.2 1779.3 L950.2 1779.3 L952.2 1779.3 L954.2 1779.3 L956.2 1779.3 L958.2 1779.3 L960.2 1779.3 L962.2 1779.3 L964.2 1779.3 L966.2 1779.3 L968.2 1779.3 L970.2 1779.3 L972.2 1779.3 L974.2 1779.3 L976.2 1779.3 L978.2 1779.3 L980.2 1779.3 L982.2 1779.3 L984.2 1779.3 L986.2 1779.3 L988.2 1779.3 L990.2 1779.3 L992.2 1779.3 L994.2 1779.3 L996.2 1779.3 L998.2 1779.3 L1000.2 1779.3 L1002.2 1779.3 L1004.2 1779.3 L1006.2 1779.3 L1008.2 1779.3 L1010.2 1779.3 L1012.2 1779.3 L1014.2 1779.3 L1016.2 1779.3 L1018.2 1779.3 L1020.2 1779.3 L1022.2 1779.3 L1024.2 1779.3 L1026.2 1779.3 L1028.2 1779.3 L1030.2 1779.3 L1032.2 1779.3 L1034.2 1779.3 L1036.2 1779.3 L1038.2 1779.3 L1040.2 1779.3 L1042.2 1779.3 L1044.2 1779.3 L1046.2 1779.3 L1048.2 1779.3 L1050.2 1779.3 L1052.2 1779.3 L1054.2 1779.3 L1056.2 1779.3 L1058.2 1779.3 L1060.2 1779.3 L1062.2 1779.3 L1064.2 1779.3 L1066.2 1779.3 L1068.2 1779.3 L1070.2 1779.3 L1072.2 1779.3 L1074.2 1779.3 L1076.2 1779.3 L1078.2 1779.3 L1080.2 1779.3 L1082.2 1779.3 L1084.2 1779.3 L1086.2 1779.3 L1088.2 1779.3 L1090.2 1779.3 L1092.2 1779.3 L1094.2 1779.3 L1096.2 1779.3 L1098.2 1779.3 L1100.2 1779.3 L1102.2 1779.3 L1104.2 1779.3 L1106.2 1779.3 L1108.2 1779.3 L1110.2 1779.3 L1112.2 1779.3 L1114.2 1779.3 L1116.2 1779.3 L1118.2 1779.3 L1120.2 1779.3 L1122.2 1779.3 L1124.2 1779.3 L1126.2 1779.3 L1128.2 1779.3 L1130.2 1779.3 L1132.2 1779.3 L1134.2 1779.3 L1136.2 1779.3 L1138.2 1779.3 L1140.2 1779.3 L1142.2 1779.3 L1144.2 1779.3 L1146.2 1779.3 L1148.2 1779.3 L1150.2 1779.3 L1152.2 1779.3 L1154.2 1779.3 L1156.2 1779.3 L1158.2 1779.3 L1160.2 1779.3 L1162.2 1779.3 L1164.2 1779.3 L1166.2 1779.3 L1168.2 1779.3 L1169.2 1779.3" fill="none" stroke="#00FF10" stroke-width="3.9" stroke-linejoin="round" stroke-linecap="butt" />
<path d="M112.2 1779.3 L1169.2 1779.3" fill="none" stroke="#00FFFF" stroke-width="4.5" stroke-linejoin="round" stroke-linecap="butt" />
<path d="M112.2 1779.3 L114.2 1779.3 L116.2 1779.3 L118.2 1779.3 L120.2 1779.3 L122.2 1779.3 L124.2 1779.3 L126.2 1779.3 L128.2 1779.3 L130.2 1779.3 L132.2 1779.3 L134.2 1779.3 L136.2 1779.3 L138.2 1779.3 L140.2 1779.3 L142.2 1779.3 L144.2 1779.3 L146.2 1779.3 L148.2 1779.2 L150.2 1779.2 L152.2 1779.2 L154.2 1779.1 L156.2 1779.1 L158.2 1779 L160.2 1778.9 L162.2 1778.7 L164.2 1778.5 L166.2 1778.2 L168.2 1777.8 L170.2 1777.3 L172.2 1776.7 L174.2 1775.8 L176.2 1774.7 L178.2 1773.4 L180.2 1771.6 L182.2 1769.4 L184.2 1766.7 L186.2 1763.4 L188.2 1759.3 L190.2 1754.3 L192.2 1748.3 L194.2 1741.2 L196.2 1732.7 L198.2 1722.8 L200.2 1711.2 L202.2 1697.9 L204.2 1682.7 L206.2 1665.4 L208.2 1646.1 L210.2 1624.5 L212.2 1600.8 L214.2 1574.9 L216.2 1546.9 L218.2 1517 L220.2 1485.3 L222.2 1452.2 L224.2 1418 L226.2 1383.1 L228.2 1347.9 L230.2 1313 L232.2 1278.8 L234.2 1246 L236.2 1215.1 L238.2 1186.6 L240.2 1161.1 L242.2 1139.1 L244.2 1121 L246.2 1107.1 L248.2 1097.8 L250.2 1093.1 L252.2 1093.2 L254.2 1098 L256.2 1107.4 L258.2 1121.1 L260.2 1138.7 L262.2 1159.9 L264.2 1184.2 L266.2 1211.1 L268.2 1239.9 L270.2 1270.2 L272.2 1301.2 L274.2 1332.6 L276.2 1363.6 L278.2 1393.9 L280.2 1423 L282.2 1450.5 L284.2 1476.1 L286.2 1499.7 L288.2 1520.9 L290.2 1539.6 L292.2 1556 L294.2 1569.8 L296.2 1581.1 L298.2 1590.1 L300.2 1596.9 L302.2 1601.5 L304.2 1604.1 L306.2 1605 L308.2 1604.1 L310.2 1601.8 L312.2 1598.1 L314.2 1593.3 L316.2 1587.5 L318.2 1580.8 L320.2 1573.3 L322.2 1565.2 L324.2 1556.6 L326.2 1547.6 L328.2 1538.2 L330.2 1528.6 L332.2 1518.9 L334.2 1509 L336.2 1499.2 L338.2 1489.3 L340.2 1479.6 L342.2 1470 L344.2 1460.6 L346.2 1451.5 L348.2 1442.7 L350.2 1434.2 L352.2 1426.1 L354.2 1418.5 L356.2 1411.3 L358.2 1404.6 L360.2 1398.4 L362.2 1392.8 L364.2 1387.8 L366.2 1383.4 L368.2 1379.7 L370.2 1376.6 L372.2 1374.3 L374.2 1372.6 L376.2 1371.6 L378.2 1371.3 L380.2 1371.7 L382.2 1372.9 L384.2 1374.7 L386.2 1377.2 L388.2 1380.4 L390.2 1384.3 L392.2 1388.8 L394.2 1393.9 L396.2 1399.6 L398.2 1405.9 L400.2 1412.7 L402.2 1420 L404.2 1427.8 L406.2 1436 L408.2 1444.6 L410.2 1453.5 L412.2 1462.8 L414.2 1472.3 L416.2 1482 L418.2 1492 L420.2 1502.1 L422.2 1512.3 L424.2 1522.6 L426.2 1532.9 L428.2 1543.2 L430.2 1553.4 L432.2 1563.6 L434.2 1573.7 L436.2 1583.7 L438.2 1593.5 L440.2 1603.1 L442.2 1612.5 L444.2 1621.7 L446.2 1630.6 L448.2 1639.3 L450.2 1647.7 L452.2 1655.8 L454.2 1663.6 L456.2 1671.1 L458.2 1678.3 L460.2 1685.1 L462.2 1691.7 L464.2 1697.9 L466.2 1703.9 L468.2 1709.5 L470.2 1714.8 L472.2 1719.8 L474.2 1724.5 L476.2 1729 L478.2 1733.1 L480.2 1737 L482.2 1740.6 L484.2 1744 L486.2 1747.1 L488.2 1750 L490.2 1752.6 L492.2 1755.1 L494.2 1757.3 L496.2 1759.4 L498.2 1761.3 L500.2 1763 L502.2 1764.5 L504.2 1765.9 L506.2 1767.1 L508.2 1768.1 L510.2 1769.1 L512.2 1769.8 L514.2 1770.5 L516.2 1771 L518.2 1771.4 L520.2 1771.6 L522.2 1771.8 L524.2 1771.8 L526.2 1771.6 L528.2 1771.4 L530.2 1771 L532.2 1770.5 L534.2 1769.9 L536.2 1769.1 L538.2 1768.2 L540.2 1767.2 L542.2 1766.1 L544.2 1764.9 L546.2 1763.6 L548.2 1762.2 L550.2 1760.7 L552.2 1759.1 L554.2 1757.5 L556.2 1755.8 L558.2 1754.2 L560.2 1752.5 L562.2 1750.8 L564.2 1749.2 L566.2 1747.6 L568.2 1746.1 L570.2 1744.7 L572.2 1743.5 L574.2 1742.4 L576.2 1741.4 L578.2 1740.6 L580.2 1740 L582.2 1739.5 L584.2 1739.3 L586.2 1739.3 L588.2 1739.5 L590.2 1739.8 L592.2 1740.4 L594.2 1741.2 L596.2 1742.1 L598.2 1743.2 L600.2 1744.5 L602.2 1745.9 L604.2 1747.3 L606.2 1748.9 L608.2 1750.6 L610.2 1752.3 L612.2 1754 L614.2 1755.7 L616.2 1757.5 L618.2 1759.2 L620.2 1760.8 L622.2 1762.5 L624.2 1764 L626.2 1765.5 L628.2 1766.9 L630.2 1768.2 L632.2 1769.4 L634.2 1770.6 L636.2 1771.6 L638.2 1772.6 L640.2 1773.4 L642.2 1774.2 L644.2 1774.9 L646.2 1775.5 L648.2 1776.1 L650.2 1776.6 L652.2 1777 L654.2 1777.4 L656.2 1777.7 L658.2 1778 L660.2 1778.2 L662.2 1778.4 L664.2 1778.6 L666.2 1778.7 L668.2 1778.8 L670.2 1778.9 L672.2 1779 L674.2 1779 L676.2 1779.1 L678.2 1779.1 L680.2 1779.2 L682.2 1779.2 L684.2 1779.2 L686.2 1779.2 L688.2 1779.3 L690.2 1779.3 L692.2 1779.3 L694.2 1779.3 L696.2 1779.3 L698.2 1779.3 L700.2 1779.3 L702.2 1779.3 L704.2 1779.3 L706.2 1779.3 L708.2 1779.3 L710.2 1779.3 L712.2 1779.3 L714.2 1779.3 L716.2 1779.3 L718.2 1779.3 L720.2 1779.3 L722.2 1779.3 L724.2 1779.3 L726.2 1779.3 L728.2 1779.3 L730.2 1779.3 L732.2 1779.3 L734.2 1779.3 L736.2 1779.3 L738.2 1779.3 L740.2 1779.3 L742.2 1779.3 L744.2 1779.3 L746.2 1779.3 L748.2 1779.3 L750.2 1779.3 L752.2 1779.3 L754.2 1779.3 L756.2 1779.3 L758.2 1779.3 L760.2 1779.3 L762.2 1779.3 L764.2 1779.3 L766.2 1779.3 L768.2 1779.3 L770.2 1779.3 L772.2 1779.3 L774.2 1779.3 L776.2 1779.3 L778.2 1779.3 L780.2 1779.3 L782.2 1779.3 L784.2 1779.3 L786.2 1779.3 L788.2 1779.3 L790.2 1779.3 L792.2 1779.3 L794.2 1779.3 L796.2 1779.3 L798.2 1779.3 L800.2 1779.3 L802.2 1779.3 L804.2 1779.3 L806.2 1779.3 L808.2 1779.3 L810.2 1779.3 L812.2 1779.3 L814.2 1779.3 L816.2 1779.2 L818.2 1779.2 L820.2 1779.2 L822.2 1779.2 L824.2 1779.2 L826.2 1779.2 L828.2 1779.2 L830.2 1779.1 L832.2 1779.1 L834.2 1779.1 L836.2 1779.1 L838.2 1779 L840.2 1779 L842.2 1778.9 L844.2 1778.9 L846.2 1778.8 L848.2 1778.7 L850.2 1778.7 L852.2 1778.6 L854.2 1778.5 L856.2 1778.4 L858.2 1778.2 L860.2 1778.1 L862.2 1777.9 L864.2 1777.8 L866.2 1777.6 L868.2 1777.3 L870.2 1777.1 L872.2 1776.8 L874.2 1776.5 L876.2 1776.2 L878.2 1775.8 L880.2 1775.5 L882.2 1775 L884.2 1774.6 L886.2 1774 L888.2 1773.5 L890.2 1772.9 L892.2 1772.2 L894.2 1771.5 L896.2 1770.8 L898.2 1770 L900.2 1769.1 L902.2 1768.2 L904.2 1767.2 L906.2 1766.1 L908.2 1765 L910.2 1763.8 L912.2 1762.5 L914.2 1761.1 L916.2 1759.7 L918.2 1758.2 L920.2 1756.7 L922.2 1755.1 L924.2 1753.4 L926.2 1751.6 L928.2 1749.8 L930.2 1747.9 L932.2 1745.9 L934.2 1743.9 L936.2 1741.8 L938.2 1739.7 L940.2 1737.5 L942.2 1735.3 L944.2 1733.1 L946.2 1730.8 L948.2 1728.5 L950.2 1726.2 L952.2 1723.9 L954.2 1721.6 L956.2 1719.4 L958.2 1717.1 L960.2 1714.9 L962.2 1712.7 L964.2 1710.6 L966.2 1708.5 L968.2 1706.5 L970.2 1704.6 L972.2 1702.7 L974.2 1701 L976.2 1699.4 L978.2 1697.9 L980.2 1696.5 L982.2 1695.2 L984.2 1694.1 L986.2 1693.1 L988.2 1692.2 L990.2 1691.5 L992.2 1691 L994.2 1690.6 L996.2 1690.4 L998.2 1690.3 L1000.2 1690.4 L1002.2 1690.7 L1004.2 1691.1 L1006.2 1691.6 L1008.2 1692.4 L1010.2 1693.2 L1012.2 1694.3 L1014.2 1695.4 L1016.2 1696.7 L1018.2 1698.2 L1020.2 1699.7 L1022.2 1701.3 L1024.2 1703.1 L1026.2 1705 L1028.2 1706.9 L1030.2 1708.9 L1032.2 1711 L1034.2 1713.1 L1036.2 1715.3 L1038.2 1717.6 L1040.2 1719.8 L1042.2 1722.1 L1044.2 1724.4 L1046.2 1726.7 L1048.2 1729 L1050.2 1731.3 L1052.2 1733.5 L1054.2 1735.8 L1056.2 1738 L1058.2 1740.1 L1060.2 1742.2 L1062.2 1744.3 L1064.2 1746.3 L1066.2 1748.2 L1068.2 1750.1 L1070.2 1751.9 L1072.2 1753.7 L1074.2 1755.4 L1076.2 1757 L1078.2 1758.5 L1080.2 1760 L1082.2 1761.4 L1084.2 1762.7 L1086.2 1764 L1088.2 1765.2 L1090.2 1766.3 L1092.2 1767.4 L1094.2 1768.3 L1096.2 1769.3 L1098.2 1770.1 L1100.2 1770.9 L1102.2 1771.7 L1104.2 1772.4 L1106.2 1773 L1108.2 1773.6 L1110.2 1774.1 L1112.2 1774.7 L1114.2 1775.1 L1116.2 1775.5 L1118.2 1775.9 L1120.2 1776.3 L1122.2 1776.6 L1124.2 1776.9 L1126.2 1777.1 L1128.2 1777.4 L1130.2 1777.6 L1132.2 1777.8 L1134.2 1778 L1136.2 1778.1 L1138.2 1778.3 L1140.2 1778.4 L1142.2 1778.5 L1144.2 1778.6 L1146.2 1778.7 L1148.2 1778.8 L1150.2 1778.8 L1152.2 1778.9 L1154.2 1778.9 L1156.2 1779 L1158.2 1779 L1160.2 1779.1 L1162.2 1779.1 L1164.2 1779.1 L1166.2 1779.2 L1168.2 1779.2 L1169.2 1779.2" fill="none" stroke="#0A65A0" stroke-width="4.5" stroke-linejoin="round" stroke-linecap="butt" />
<rect x="112.2" y="1015.3" width="1057" height="790.5" fill="none" stroke="#000" stroke-width="2.6"/>
<line x1="287.8" y1="1805.8" x2="287.8" y2="1821.3" stroke="#000" stroke-width="2.6"/>
<text x="287.8" y="1859.6" font-size="37" text-anchor="middle" font-weight="normal" fill="#000" >460</text>
<line x1="539.4" y1="1805.8" x2="539.4" y2="1821.3" stroke="#000" stroke-width="2.6"/>
<text x="539.4" y="1859.6" font-size="37" text-anchor="middle" font-weight="normal" fill="#000" >470</text>
<line x1="791" y1="1805.8" x2="791" y2="1821.3" stroke="#000" stroke-width="2.6"/>
<text x="791" y="1859.6" font-size="37" text-anchor="middle" font-weight="normal" fill="#000" >480</text>
<line x1="1042.6" y1="1805.8" x2="1042.6" y2="1821.3" stroke="#000" stroke-width="2.6"/>
<text x="1042.6" y="1859.6" font-size="37" text-anchor="middle" font-weight="normal" fill="#000" >490</text>
<text x="124.9" y="1060.1" font-size="48" text-anchor="start" font-weight="bold" fill="#000" letter-spacing="2">(c)</text>
<text x="640.5" y="1059" font-size="46" text-anchor="middle" font-weight="bold" fill="#042A6B" >Ru 3p + Ti 2p</text>
<text x="310.8" y="1137.8" font-size="37" fill="#000">Ti 2p<tspan font-size="25" dy="10">3/2</tspan></text>
<text x="310.8" y="1192" font-size="37" fill="#000">458.5 eV</text>
<text x="424.8" y="1392.9" font-size="37">Ru 3p<tspan font-size="25" dy="10">3/2</tspan><tspan dy="-10"> + Ti 2p</tspan><tspan font-size="25" dy="10">1/2</tspan></text>
<text x="424.8" y="1447.1" font-size="37" text-anchor="start" font-weight="normal" fill="#000" >463.6 eV</text>
<text x="595.7" y="1671.7" font-size="37" text-anchor="start" font-weight="normal" fill="#000" >Sat</text>
<text x="548.5" y="1718" font-size="37" text-anchor="start" font-weight="normal" fill="#000" >468-482 eV</text>
<text x="961" y="1605.2" font-size="37" fill="#000">Ru 3p<tspan font-size="25" dy="10">1/2</tspan></text>
<text x="961" y="1659.3" font-size="37" fill="#000">488.1 eV</text>
<text x="641.9" y="1925.5" font-size="41" text-anchor="middle" font-weight="bold" fill="#000" >Binding Energy (eV)</text>
<text transform="translate(50.3 1384.7) rotate(-90)" font-size="41" text-anchor="middle" font-weight="bold">Intensity (a.u.)</text>
<path d="M1361.8 1776.8 L1372.3 1774.5 L1382.8 1768.6 L1393.3 1777.6 L1403.8 1774 L1414.3 1773.2 L1424.8 1771 L1435.3 1775.8 L1445.8 1770.3 L1456.3 1768.6 L1466.8 1757.4 L1477.3 1751.5 L1487.8 1742.3 L1498.3 1738.1 L1508.8 1719 L1519.3 1725.4 L1529.8 1704.1 L1540.3 1687.2 L1550.8 1671.4 L1561.3 1643 L1571.8 1620.5 L1582.3 1594.5 L1592.8 1551.8 L1603.3 1533.3 L1613.8 1489 L1624.3 1452.5 L1634.8 1404.4 L1645.3 1365.4 L1655.8 1335.6 L1666.3 1284.9 L1676.8 1247.2 L1687.3 1215.9 L1697.8 1188.4 L1708.3 1143.4 L1718.8 1138.2 L1729.3 1115.2 L1739.8 1106.9 L1750.3 1092.4 L1760.8 1099.5 L1771.3 1112.3 L1781.8 1115.9 L1792.3 1130 L1802.8 1151.8 L1813.3 1175.6 L1823.8 1208.7 L1834.3 1234.4 L1844.8 1260.5 L1855.3 1296.4 L1865.8 1316.6 L1876.3 1343.3 L1886.8 1387.4 L1897.3 1399.3 L1907.8 1433.6 L1918.3 1446.8 L1928.8 1465.6 L1939.3 1486.8 L1949.8 1496 L1960.3 1510.4 L1970.8 1526.5 L1981.3 1537.6 L1991.8 1554 L2002.3 1570.3 L2012.8 1565.1 L2023.3 1576 L2033.8 1593.1 L2044.3 1601.1 L2054.8 1613 L2065.3 1613 L2075.8 1628.3 L2086.3 1634.1 L2096.8 1635.3 L2107.3 1654 L2117.8 1652.9 L2128.3 1671.5 L2138.8 1674.9 L2149.3 1684.1 L2159.8 1703 L2170.3 1707.4 L2180.8 1709.1 L2191.3 1715.6 L2201.8 1716.2 L2212.3 1731.7 L2222.8 1734.1 L2233.3 1731.9 L2243.8 1732.7 L2254.3 1744.9 L2264.8 1747.8 L2275.3 1756.3 L2285.8 1750.2 L2296.3 1753.7 L2306.8 1762.4 L2317.3 1763 L2327.8 1769 L2338.3 1771.5 L2348.8 1763.2 L2359.3 1758.3 L2369.8 1770.1 L2380.3 1767.3 L2390.8 1772.7 L2401.3 1761.8 L2411.8 1772.3 L2416.9 1772.9" fill="none" stroke="#000" stroke-width="2.6" stroke-linejoin="round" stroke-linecap="butt" />
<path d="M1361.3 1774.8 L1363.3 1774.8 L1365.3 1774.7 L1367.3 1774.7 L1369.3 1774.6 L1371.3 1774.6 L1373.3 1774.5 L1375.3 1774.5 L1377.3 1774.4 L1379.3 1774.3 L1381.3 1774.3 L1383.3 1774.2 L1385.3 1774.1 L1387.3 1774 L1389.3 1773.9 L1391.3 1773.8 L1393.3 1773.7 L1395.3 1773.6 L1397.3 1773.5 L1399.3 1773.4 L1401.3 1773.2 L1403.3 1773.1 L1405.3 1773 L1407.3 1772.8 L1409.3 1772.6 L1411.3 1772.5 L1413.3 1772.3 L1415.3 1772.1 L1417.3 1771.8 L1419.3 1771.6 L1421.3 1771.4 L1423.3 1771.1 L1425.3 1770.9 L1427.3 1770.6 L1429.3 1770.3 L1431.3 1770 L1433.3 1769.6 L1435.3 1769.3 L1437.3 1768.9 L1439.3 1768.5 L1441.3 1768.1 L1443.3 1767.7 L1445.3 1767.2 L1447.3 1766.7 L1449.3 1766.2 L1451.3 1765.7 L1453.3 1765.1 L1455.3 1764.6 L1457.3 1763.9 L1459.3 1763.3 L1461.3 1762.6 L1463.3 1761.9 L1465.3 1761.2 L1467.3 1760.4 L1469.3 1759.6 L1471.3 1758.7 L1473.3 1757.8 L1475.3 1756.9 L1477.3 1755.9 L1479.3 1754.8 L1481.3 1753.8 L1483.3 1752.7 L1485.3 1751.5 L1487.3 1750.3 L1489.3 1749 L1491.3 1747.7 L1493.3 1746.3 L1495.3 1744.9 L1497.3 1743.4 L1499.3 1741.8 L1501.3 1740.2 L1503.3 1738.5 L1505.3 1736.7 L1507.3 1734.9 L1509.3 1733 L1511.3 1731.1 L1513.3 1729.1 L1515.3 1727 L1517.3 1724.8 L1519.3 1722.5 L1521.3 1720.2 L1523.3 1717.8 L1525.3 1715.3 L1527.3 1712.7 L1529.3 1710 L1531.3 1707.3 L1533.3 1704.5 L1535.3 1701.5 L1537.3 1698.5 L1539.3 1695.4 L1541.3 1692.2 L1543.3 1688.9 L1545.3 1685.5 L1547.3 1682 L1549.3 1678.4 L1551.3 1674.7 L1553.3 1670.9 L1555.3 1667 L1557.3 1663 L1559.3 1658.9 L1561.3 1654.7 L1563.3 1650.4 L1565.3 1646 L1567.3 1641.5 L1569.3 1636.9 L1571.3 1632.2 L1573.3 1627.4 L1575.3 1622.5 L1577.3 1617.5 L1579.3 1612.4 L1581.3 1607.1 L1583.3 1601.8 L1585.3 1596.4 L1587.3 1590.9 L1589.3 1585.3 L1591.3 1579.6 L1593.3 1573.8 L1595.3 1567.9 L1597.3 1562 L1599.3 1555.9 L1601.3 1549.8 L1603.3 1543.6 L1605.3 1537.3 L1607.3 1530.9 L1609.3 1524.4 L1611.3 1517.9 L1613.3 1511.4 L1615.3 1504.7 L1617.3 1498 L1619.3 1491.3 L1621.3 1484.5 L1623.3 1477.6 L1625.3 1470.7 L1627.3 1463.8 L1629.3 1456.8 L1631.3 1449.9 L1633.3 1442.9 L1635.3 1435.8 L1637.3 1428.8 L1639.3 1421.7 L1641.3 1414.7 L1643.3 1407.6 L1645.3 1400.6 L1647.3 1393.6 L1649.3 1386.6 L1651.3 1379.6 L1653.3 1372.7 L1655.3 1365.8 L1657.3 1358.9 L1659.3 1352.1 L1661.3 1345.3 L1663.3 1338.7 L1665.3 1332 L1667.3 1325.5 L1669.3 1319 L1671.3 1312.7 L1673.3 1306.4 L1675.3 1300.2 L1677.3 1294.2 L1679.3 1288.2 L1681.3 1282.4 L1683.3 1276.7 L1685.3 1271.1 L1687.3 1265.7 L1689.3 1260.4 L1691.3 1255.2 L1693.3 1250.2 L1695.3 1245.4 L1697.3 1240.8 L1699.3 1236.3 L1701.3 1231.9 L1703.3 1227.8 L1705.3 1223.8 L1707.3 1220.1 L1709.3 1216.5 L1711.3 1213.1 L1713.3 1210 L1715.3 1207 L1717.3 1204.2 L1719.3 1201.7 L1721.3 1199.4 L1723.3 1197.2 L1725.3 1195.3 L1727.3 1193.7 L1729.3 1192.2 L1731.3 1191 L1733.3 1190 L1735.3 1189.2 L1737.3 1188.7 L1739.3 1188.4 L1741.3 1188.3 L1743.3 1188.5 L1745.3 1188.8 L1747.3 1189.4 L1749.3 1190.3 L1751.3 1191.3 L1753.3 1192.6 L1755.3 1194.2 L1757.3 1195.9 L1759.3 1197.9 L1761.3 1200 L1763.3 1202.4 L1765.3 1205 L1767.3 1207.9 L1769.3 1210.9 L1771.3 1214.1 L1773.3 1217.6 L1775.3 1221.2 L1777.3 1225 L1779.3 1229 L1781.3 1233.2 L1783.3 1237.6 L1785.3 1242.1 L1787.3 1246.8 L1789.3 1251.7 L1791.3 1256.8 L1793.3 1262 L1795.3 1267.3 L1797.3 1272.8 L1799.3 1278.4 L1801.3 1284.1 L1803.3 1290 L1805.3 1296 L1807.3 1302.1 L1809.3 1308.3 L1811.3 1314.6 L1813.3 1321 L1815.3 1327.5 L1817.3 1334 L1819.3 1340.7 L1821.3 1347.4 L1823.3 1354.1 L1825.3 1361 L1827.3 1367.8 L1829.3 1374.7 L1831.3 1381.7 L1833.3 1388.7 L1835.3 1395.7 L1837.3 1402.7 L1839.3 1409.8 L1841.3 1416.8 L1843.3 1423.8 L1845.3 1430.9 L1847.3 1437.9 L1849.3 1445 L1851.3 1452 L1853.3 1458.9 L1855.3 1465.9 L1857.3 1472.8 L1859.3 1479.7 L1861.3 1486.5 L1863.3 1493.3 L1865.3 1500 L1867.3 1506.7 L1869.3 1513.3 L1871.3 1519.9 L1873.3 1526.4 L1875.3 1532.8 L1877.3 1539.2 L1879.3 1545.4 L1881.3 1551.6 L1883.3 1557.7 L1885.3 1563.8 L1887.3 1569.7 L1889.3 1575.6 L1891.3 1581.3 L1893.3 1587 L1895.3 1592.6 L1897.3 1598 L1899.3 1603.4 L1901.3 1608.7 L1903.3 1613.9 L1905.3 1619 L1907.3 1624 L1909.3 1628.8 L1911.3 1633.6 L1913.3 1638.3 L1915.3 1642.9 L1917.3 1647.4 L1919.3 1651.7 L1921.3 1656 L1923.3 1660.2 L1925.3 1664.2 L1927.3 1668.2 L1929.3 1672.1 L1931.3 1675.8 L1933.3 1679.5 L1935.3 1683 L1937.3 1686.5 L1939.3 1689.9 L1941.3 1693.2 L1943.3 1696.3 L1945.3 1699.4 L1947.3 1702.4 L1949.3 1705.3 L1951.3 1708.1 L1953.3 1710.9 L1955.3 1713.5 L1957.3 1716 L1959.3 1718.5 L1961.3 1720.9 L1963.3 1723.2 L1965.3 1725.4 L1967.3 1727.6 L1969.3 1729.7 L1971.3 1731.7 L1973.3 1733.6 L1975.3 1735.5 L1977.3 1737.3 L1979.3 1739 L1981.3 1740.7 L1983.3 1742.3 L1985.3 1743.8 L1987.3 1745.3 L1989.3 1746.7 L1991.3 1748.1 L1993.3 1749.4 L1995.3 1750.6 L1997.3 1751.8 L1999.3 1753 L2001.3 1754.1 L2003.3 1755.2 L2005.3 1756.2 L2007.3 1757.1 L2009.3 1758.1 L2011.3 1759 L2013.3 1759.8 L2015.3 1760.6 L2017.3 1761.4 L2019.3 1762.1 L2021.3 1762.8 L2023.3 1763.5 L2025.3 1764.1 L2027.3 1764.7 L2029.3 1765.3 L2031.3 1765.9 L2033.3 1766.4 L2035.3 1766.9 L2037.3 1767.4 L2039.3 1767.8 L2041.3 1768.2 L2043.3 1768.6 L2045.3 1769 L2047.3 1769.4 L2049.3 1769.7 L2051.3 1770.1 L2053.3 1770.4 L2055.3 1770.7 L2057.3 1770.9 L2059.3 1771.2 L2061.3 1771.5 L2063.3 1771.7 L2065.3 1771.9 L2067.3 1772.1 L2069.3 1772.3 L2071.3 1772.5 L2073.3 1772.7 L2075.3 1772.8 L2077.3 1773 L2079.3 1773.2 L2081.3 1773.3 L2083.3 1773.4 L2085.3 1773.5 L2087.3 1773.7 L2089.3 1773.8 L2091.3 1773.9 L2093.3 1774 L2095.3 1774.1 L2097.3 1774.1 L2099.3 1774.2 L2101.3 1774.3 L2103.3 1774.4 L2105.3 1774.4 L2107.3 1774.5 L2109.3 1774.5 L2111.3 1774.6 L2113.3 1774.6 L2115.3 1774.7 L2117.3 1774.7 L2119.3 1774.8 L2121.3 1774.8 L2123.3 1774.8 L2125.3 1774.9 L2127.3 1774.9 L2129.3 1774.9 L2131.3 1775 L2133.3 1775 L2135.3 1775 L2137.3 1775 L2139.3 1775.1 L2141.3 1775.1 L2143.3 1775.1 L2145.3 1775.1 L2147.3 1775.1 L2149.3 1775.1 L2151.3 1775.1 L2153.3 1775.2 L2155.3 1775.2 L2157.3 1775.2 L2159.3 1775.2 L2161.3 1775.2 L2163.3 1775.2 L2165.3 1775.2 L2167.3 1775.2 L2169.3 1775.2 L2171.3 1775.2 L2173.3 1775.2 L2175.3 1775.2 L2177.3 1775.2 L2179.3 1775.3 L2181.3 1775.3 L2183.3 1775.3 L2185.3 1775.3 L2187.3 1775.3 L2189.3 1775.3 L2191.3 1775.3 L2193.3 1775.3 L2195.3 1775.3 L2197.3 1775.3 L2199.3 1775.3 L2201.3 1775.3 L2203.3 1775.3 L2205.3 1775.3 L2207.3 1775.3 L2209.3 1775.3 L2211.3 1775.3 L2213.3 1775.3 L2215.3 1775.3 L2217.3 1775.3 L2219.3 1775.3 L2221.3 1775.3 L2223.3 1775.3 L2225.3 1775.3 L2227.3 1775.3 L2229.3 1775.3 L2231.3 1775.3 L2233.3 1775.3 L2235.3 1775.3 L2237.3 1775.3 L2239.3 1775.3 L2241.3 1775.3 L2243.3 1775.3 L2245.3 1775.3 L2247.3 1775.3 L2249.3 1775.3 L2251.3 1775.3 L2253.3 1775.3 L2255.3 1775.3 L2257.3 1775.3 L2259.3 1775.3 L2261.3 1775.3 L2263.3 1775.3 L2265.3 1775.3 L2267.3 1775.3 L2269.3 1775.3 L2271.3 1775.3 L2273.3 1775.3 L2275.3 1775.3 L2277.3 1775.3 L2279.3 1775.3 L2281.3 1775.3 L2283.3 1775.3 L2285.3 1775.3 L2287.3 1775.3 L2289.3 1775.3 L2291.3 1775.3 L2293.3 1775.3 L2295.3 1775.3 L2297.3 1775.3 L2299.3 1775.3 L2301.3 1775.3 L2303.3 1775.3 L2305.3 1775.3 L2307.3 1775.3 L2309.3 1775.3 L2311.3 1775.3 L2313.3 1775.3 L2315.3 1775.3 L2317.3 1775.3 L2319.3 1775.3 L2321.3 1775.3 L2323.3 1775.3 L2325.3 1775.3 L2327.3 1775.3 L2329.3 1775.3 L2331.3 1775.3 L2333.3 1775.3 L2335.3 1775.3 L2337.3 1775.3 L2339.3 1775.3 L2341.3 1775.3 L2343.3 1775.3 L2345.3 1775.3 L2347.3 1775.3 L2349.3 1775.3 L2351.3 1775.3 L2353.3 1775.3 L2355.3 1775.3 L2357.3 1775.3 L2359.3 1775.3 L2361.3 1775.3 L2363.3 1775.3 L2365.3 1775.3 L2367.3 1775.3 L2369.3 1775.3 L2371.3 1775.3 L2373.3 1775.3 L2375.3 1775.3 L2377.3 1775.3 L2379.3 1775.3 L2381.3 1775.3 L2383.3 1775.3 L2385.3 1775.3 L2387.3 1775.3 L2389.3 1775.3 L2391.3 1775.3 L2393.3 1775.3 L2395.3 1775.3 L2397.3 1775.3 L2399.3 1775.3 L2401.3 1775.3 L2403.3 1775.3 L2405.3 1775.3 L2407.3 1775.3 L2409.3 1775.3 L2411.3 1775.3 L2413.3 1775.3 L2415.3 1775.3 L2417.3 1775.3 L2417.4 1775.3" fill="none" stroke="#FF0000" stroke-width="3.9" stroke-linejoin="round" stroke-linecap="butt" />
<path d="M1361.3 1775.1 L1363.3 1775.1 L1365.3 1775.1 L1367.3 1775.1 L1369.3 1775.1 L1371.3 1775.1 L1373.3 1775 L1375.3 1775 L1377.3 1775 L1379.3 1775 L1381.3 1775 L1383.3 1775 L1385.3 1775 L1387.3 1774.9 L1389.3 1774.9 L1391.3 1774.9 L1393.3 1774.9 L1395.3 1774.9 L1397.3 1774.9 L1399.3 1774.8 L1401.3 1774.8 L1403.3 1774.8 L1405.3 1774.8 L1407.3 1774.7 L1409.3 1774.7 L1411.3 1774.7 L1413.3 1774.7 L1415.3 1774.6 L1417.3 1774.6 L1419.3 1774.6 L1421.3 1774.6 L1423.3 1774.5 L1425.3 1774.5 L1427.3 1774.4 L1429.3 1774.4 L1431.3 1774.4 L1433.3 1774.3 L1435.3 1774.3 L1437.3 1774.3 L1439.3 1774.2 L1441.3 1774.2 L1443.3 1774.1 L1445.3 1774.1 L1447.3 1774 L1449.3 1774 L1451.3 1773.9 L1453.3 1773.8 L1455.3 1773.8 L1457.3 1773.7 L1459.3 1773.7 L1461.3 1773.6 L1463.3 1773.5 L1465.3 1773.5 L1467.3 1773.4 L1469.3 1773.3 L1471.3 1773.2 L1473.3 1773.1 L1475.3 1773.1 L1477.3 1773 L1479.3 1772.9 L1481.3 1772.8 L1483.3 1772.7 L1485.3 1772.6 L1487.3 1772.5 L1489.3 1772.4 L1491.3 1772.3 L1493.3 1772.2 L1495.3 1772 L1497.3 1771.9 L1499.3 1771.8 L1501.3 1771.7 L1503.3 1771.5 L1505.3 1771.4 L1507.3 1771.3 L1509.3 1771.1 L1511.3 1771 L1513.3 1770.8 L1515.3 1770.6 L1517.3 1770.5 L1519.3 1770.3 L1521.3 1770.1 L1523.3 1769.9 L1525.3 1769.8 L1527.3 1769.6 L1529.3 1769.4 L1531.3 1769.2 L1533.3 1769 L1535.3 1768.7 L1537.3 1768.5 L1539.3 1768.3 L1541.3 1768.1 L1543.3 1767.8 L1545.3 1767.6 L1547.3 1767.3 L1549.3 1767 L1551.3 1766.8 L1553.3 1766.5 L1555.3 1766.2 L1557.3 1765.9 L1559.3 1765.6 L1561.3 1765.3 L1563.3 1765 L1565.3 1764.7 L1567.3 1764.3 L1569.3 1764 L1571.3 1763.6 L1573.3 1763.3 L1575.3 1762.9 L1577.3 1762.5 L1579.3 1762.1 L1581.3 1761.7 L1583.3 1761.3 L1585.3 1760.9 L1587.3 1760.5 L1589.3 1760 L1591.3 1759.6 L1593.3 1759.1 L1595.3 1758.7 L1597.3 1758.2 L1599.3 1757.7 L1601.3 1757.2 L1603.3 1756.7 L1605.3 1756.1 L1607.3 1755.6 L1609.3 1755.1 L1611.3 1754.5 L1613.3 1753.9 L1615.3 1753.3 L1617.3 1752.7 L1619.3 1752.1 L1621.3 1751.5 L1623.3 1750.9 L1625.3 1750.2 L1627.3 1749.6 L1629.3 1748.9 L1631.3 1748.2 L1633.3 1747.5 L1635.3 1746.8 L1637.3 1746 L1639.3 1745.3 L1641.3 1744.5 L1643.3 1743.8 L1645.3 1743 L1647.3 1742.2 L1649.3 1741.4 L1651.3 1740.5 L1653.3 1739.7 L1655.3 1738.8 L1657.3 1738 L1659.3 1737.1 L1661.3 1736.2 L1663.3 1735.3 L1665.3 1734.3 L1667.3 1733.4 L1669.3 1732.4 L1671.3 1731.5 L1673.3 1730.5 L1675.3 1729.5 L1677.3 1728.5 L1679.3 1727.4 L1681.3 1726.4 L1683.3 1725.3 L1685.3 1724.2 L1687.3 1723.1 L1689.3 1722 L1691.3 1720.9 L1693.3 1719.8 L1695.3 1718.6 L1697.3 1717.4 L1699.3 1716.3 L1701.3 1715.1 L1703.3 1713.9 L1705.3 1712.6 L1707.3 1711.4 L1709.3 1710.1 L1711.3 1708.9 L1713.3 1707.6 L1715.3 1706.3 L1717.3 1705 L1719.3 1703.7 L1721.3 1702.3 L1723.3 1701 L1725.3 1699.6 L1727.3 1698.3 L1729.3 1696.9 L1731.3 1695.5 L1733.3 1694.1 L1735.3 1692.7 L1737.3 1691.2 L1739.3 1689.8 L1741.3 1688.3 L1743.3 1686.9 L1745.3 1685.4 L1747.3 1683.9 L1749.3 1682.4 L1751.3 1680.9 L1753.3 1679.4 L1755.3 1677.9 L1757.3 1676.4 L1759.3 1674.9 L1761.3 1673.3 L1763.3 1671.8 L1765.3 1670.2 L1767.3 1668.7 L1769.3 1667.1 L1771.3 1665.6 L1773.3 1664 L1775.3 1662.4 L1777.3 1660.8 L1779.3 1659.3 L1781.3 1657.7 L1783.3 1656.1 L1785.3 1654.5 L1787.3 1652.9 L1789.3 1651.3 L1791.3 1649.7 L1793.3 1648.1 L1795.3 1646.5 L1797.3 1644.9 L1799.3 1643.4 L1801.3 1641.8 L1803.3 1640.2 L1805.3 1638.6 L1807.3 1637 L1809.3 1635.5 L1811.3 1633.9 L1813.3 1632.3 L1815.3 1630.8 L1817.3 1629.2 L1819.3 1627.7 L1821.3 1626.2 L1823.3 1624.6 L1825.3 1623.1 L1827.3 1621.6 L1829.3 1620.1 L1831.3 1618.7 L1833.3 1617.2 L1835.3 1615.7 L1837.3 1614.3 L1839.3 1612.8 L1841.3 1611.4 L1843.3 1610 L1845.3 1608.6 L1847.3 1607.3 L1849.3 1605.9 L1851.3 1604.6 L1853.3 1603.2 L1855.3 1601.9 L1857.3 1600.6 L1859.3 1599.4 L1861.3 1598.1 L1863.3 1596.9 L1865.3 1595.7 L1867.3 1594.5 L1869.3 1593.3 L1871.3 1592.2 L1873.3 1591.1 L1875.3 1590 L1877.3 1588.9 L1879.3 1587.8 L1881.3 1586.8 L1883.3 1585.8 L1885.3 1584.8 L1887.3 1583.9 L1889.3 1583 L1891.3 1582.1 L1893.3 1581.2 L1895.3 1580.4 L1897.3 1579.6 L1899.3 1578.8 L1901.3 1578 L1903.3 1577.3 L1905.3 1576.6 L1907.3 1575.9 L1909.3 1575.3 L1911.3 1574.7 L1913.3 1574.1 L1915.3 1573.6 L1917.3 1573.1 L1919.3 1572.6 L1921.3 1572.1 L1923.3 1571.7 L1925.3 1571.3 L1927.3 1571 L1929.3 1570.7 L1931.3 1570.4 L1933.3 1570.1 L1935.3 1569.9 L1937.3 1569.7 L1939.3 1569.6 L1941.3 1569.5 L1943.3 1569.4 L1945.3 1569.3 L1947.3 1569.3 L1949.3 1569.3 L1951.3 1569.4 L1953.3 1569.4 L1955.3 1569.6 L1957.3 1569.7 L1959.3 1569.9 L1961.3 1570.1 L1963.3 1570.3 L1965.3 1570.6 L1967.3 1570.9 L1969.3 1571.3 L1971.3 1571.7 L1973.3 1572.1 L1975.3 1572.5 L1977.3 1573 L1979.3 1573.5 L1981.3 1574 L1983.3 1574.6 L1985.3 1575.2 L1987.3 1575.8 L1989.3 1576.5 L1991.3 1577.2 L1993.3 1577.9 L1995.3 1578.6 L1997.3 1579.4 L1999.3 1580.2 L2001.3 1581 L2003.3 1581.9 L2005.3 1582.8 L2007.3 1583.7 L2009.3 1584.7 L2011.3 1585.6 L2013.3 1586.6 L2015.3 1587.6 L2017.3 1588.7 L2019.3 1589.8 L2021.3 1590.8 L2023.3 1592 L2025.3 1593.1 L2027.3 1594.3 L2029.3 1595.4 L2031.3 1596.7 L2033.3 1597.9 L2035.3 1599.1 L2037.3 1600.4 L2039.3 1601.7 L2041.3 1603 L2043.3 1604.3 L2045.3 1605.6 L2047.3 1607 L2049.3 1608.4 L2051.3 1609.7 L2053.3 1611.1 L2055.3 1612.6 L2057.3 1614 L2059.3 1615.4 L2061.3 1616.9 L2063.3 1618.4 L2065.3 1619.8 L2067.3 1621.3 L2069.3 1622.8 L2071.3 1624.3 L2073.3 1625.9 L2075.3 1627.4 L2077.3 1628.9 L2079.3 1630.5 L2081.3 1632 L2083.3 1633.6 L2085.3 1635.2 L2087.3 1636.7 L2089.3 1638.3 L2091.3 1639.9 L2093.3 1641.5 L2095.3 1643 L2097.3 1644.6 L2099.3 1646.2 L2101.3 1647.8 L2103.3 1649.4 L2105.3 1651 L2107.3 1652.6 L2109.3 1654.2 L2111.3 1655.8 L2113.3 1657.4 L2115.3 1658.9 L2117.3 1660.5 L2119.3 1662.1 L2121.3 1663.7 L2123.3 1665.2 L2125.3 1666.8 L2127.3 1668.4 L2129.3 1669.9 L2131.3 1671.5 L2133.3 1673 L2135.3 1674.6 L2137.3 1676.1 L2139.3 1677.6 L2141.3 1679.1 L2143.3 1680.6 L2145.3 1682.1 L2147.3 1683.6 L2149.3 1685.1 L2151.3 1686.6 L2153.3 1688.1 L2155.3 1689.5 L2157.3 1690.9 L2159.3 1692.4 L2161.3 1693.8 L2163.3 1695.2 L2165.3 1696.6 L2167.3 1698 L2169.3 1699.4 L2171.3 1700.7 L2173.3 1702.1 L2175.3 1703.4 L2177.3 1704.7 L2179.3 1706 L2181.3 1707.3 L2183.3 1708.6 L2185.3 1709.9 L2187.3 1711.1 L2189.3 1712.4 L2191.3 1713.6 L2193.3 1714.8 L2195.3 1716 L2197.3 1717.2 L2199.3 1718.4 L2201.3 1719.5 L2203.3 1720.7 L2205.3 1721.8 L2207.3 1722.9 L2209.3 1724 L2211.3 1725.1 L2213.3 1726.2 L2215.3 1727.2 L2217.3 1728.2 L2219.3 1729.3 L2221.3 1730.3 L2223.3 1731.3 L2225.3 1732.2 L2227.3 1733.2 L2229.3 1734.2 L2231.3 1735.1 L2233.3 1736 L2235.3 1736.9 L2237.3 1737.8 L2239.3 1738.7 L2241.3 1739.5 L2243.3 1740.4 L2245.3 1741.2 L2247.3 1742 L2249.3 1742.8 L2251.3 1743.6 L2253.3 1744.4 L2255.3 1745.2 L2257.3 1745.9 L2259.3 1746.6 L2261.3 1747.3 L2263.3 1748.1 L2265.3 1748.7 L2267.3 1749.4 L2269.3 1750.1 L2271.3 1750.7 L2273.3 1751.4 L2275.3 1752 L2277.3 1752.6 L2279.3 1753.2 L2281.3 1753.8 L2283.3 1754.4 L2285.3 1754.9 L2287.3 1755.5 L2289.3 1756 L2291.3 1756.6 L2293.3 1757.1 L2295.3 1757.6 L2297.3 1758.1 L2299.3 1758.6 L2301.3 1759 L2303.3 1759.5 L2305.3 1760 L2307.3 1760.4 L2309.3 1760.8 L2311.3 1761.2 L2313.3 1761.7 L2315.3 1762.1 L2317.3 1762.4 L2319.3 1762.8 L2321.3 1763.2 L2323.3 1763.6 L2325.3 1763.9 L2327.3 1764.3 L2329.3 1764.6 L2331.3 1764.9 L2333.3 1765.2 L2335.3 1765.5 L2337.3 1765.9 L2339.3 1766.1 L2341.3 1766.4 L2343.3 1766.7 L2345.3 1767 L2347.3 1767.3 L2349.3 1767.5 L2351.3 1767.8 L2353.3 1768 L2355.3 1768.2 L2357.3 1768.5 L2359.3 1768.7 L2361.3 1768.9 L2363.3 1769.1 L2365.3 1769.3 L2367.3 1769.5 L2369.3 1769.7 L2371.3 1769.9 L2373.3 1770.1 L2375.3 1770.3 L2377.3 1770.4 L2379.3 1770.6 L2381.3 1770.8 L2383.3 1770.9 L2385.3 1771.1 L2387.3 1771.2 L2389.3 1771.4 L2391.3 1771.5 L2393.3 1771.6 L2395.3 1771.8 L2397.3 1771.9 L2399.3 1772 L2401.3 1772.1 L2403.3 1772.3 L2405.3 1772.4 L2407.3 1772.5 L2409.3 1772.6 L2411.3 1772.7 L2413.3 1772.8 L2415.3 1772.9 L2417.3 1773 L2417.4 1773" fill="none" stroke="#00FF10" stroke-width="3.9" stroke-linejoin="round" stroke-linecap="butt" />
<path d="M1361.3 1774.6 L1363.3 1774.6 L1365.3 1774.5 L1367.3 1774.5 L1369.3 1774.4 L1371.3 1774.3 L1373.3 1774.3 L1375.3 1774.2 L1377.3 1774.1 L1379.3 1774 L1381.3 1774 L1383.3 1773.9 L1385.3 1773.8 L1387.3 1773.7 L1389.3 1773.6 L1391.3 1773.4 L1393.3 1773.3 L1395.3 1773.2 L1397.3 1773.1 L1399.3 1772.9 L1401.3 1772.8 L1403.3 1772.6 L1405.3 1772.4 L1407.3 1772.2 L1409.3 1772.1 L1411.3 1771.8 L1413.3 1771.6 L1415.3 1771.4 L1417.3 1771.2 L1419.3 1770.9 L1421.3 1770.6 L1423.3 1770.3 L1425.3 1770 L1427.3 1769.7 L1429.3 1769.4 L1431.3 1769 L1433.3 1768.7 L1435.3 1768.3 L1437.3 1767.9 L1439.3 1767.4 L1441.3 1767 L1443.3 1766.5 L1445.3 1766 L1447.3 1765.5 L1449.3 1764.9 L1451.3 1764.3 L1453.3 1763.7 L1455.3 1763 L1457.3 1762.4 L1459.3 1761.7 L1461.3 1760.9 L1463.3 1760.1 L1465.3 1759.3 L1467.3 1758.5 L1469.3 1757.6 L1471.3 1756.6 L1473.3 1755.6 L1475.3 1754.6 L1477.3 1753.5 L1479.3 1752.4 L1481.3 1751.3 L1483.3 1750.1 L1485.3 1748.8 L1487.3 1747.5 L1489.3 1746.1 L1491.3 1744.6 L1493.3 1743.2 L1495.3 1741.6 L1497.3 1740 L1499.3 1738.3 L1501.3 1736.5 L1503.3 1734.7 L1505.3 1732.8 L1507.3 1730.9 L1509.3 1728.9 L1511.3 1726.8 L1513.3 1724.6 L1515.3 1722.3 L1517.3 1720 L1519.3 1717.5 L1521.3 1715 L1523.3 1712.4 L1525.3 1709.7 L1527.3 1707 L1529.3 1704.1 L1531.3 1701.2 L1533.3 1698.1 L1535.3 1695 L1537.3 1691.7 L1539.3 1688.4 L1541.3 1684.9 L1543.3 1681.4 L1545.3 1677.7 L1547.3 1674 L1549.3 1670.1 L1551.3 1666.2 L1553.3 1662.1 L1555.3 1657.9 L1557.3 1653.6 L1559.3 1649.2 L1561.3 1644.7 L1563.3 1640.1 L1565.3 1635.4 L1567.3 1630.5 L1569.3 1625.6 L1571.3 1620.5 L1573.3 1615.4 L1575.3 1610.1 L1577.3 1604.7 L1579.3 1599.2 L1581.3 1593.6 L1583.3 1587.8 L1585.3 1582 L1587.3 1576.1 L1589.3 1570 L1591.3 1563.9 L1593.3 1557.6 L1595.3 1551.3 L1597.3 1544.8 L1599.3 1538.3 L1601.3 1531.7 L1603.3 1524.9 L1605.3 1518.1 L1607.3 1511.2 L1609.3 1504.2 L1611.3 1497.1 L1613.3 1490 L1615.3 1482.8 L1617.3 1475.5 L1619.3 1468.1 L1621.3 1460.7 L1623.3 1453.2 L1625.3 1445.7 L1627.3 1438.1 L1629.3 1430.4 L1631.3 1422.8 L1633.3 1415 L1635.3 1407.3 L1637.3 1399.5 L1639.3 1391.7 L1641.3 1383.9 L1643.3 1376.1 L1645.3 1368.3 L1647.3 1360.5 L1649.3 1352.7 L1651.3 1344.9 L1653.3 1337.1 L1655.3 1329.3 L1657.3 1321.6 L1659.3 1313.9 L1661.3 1306.2 L1663.3 1298.6 L1665.3 1291.1 L1667.3 1283.6 L1669.3 1276.2 L1671.3 1268.8 L1673.3 1261.6 L1675.3 1254.4 L1677.3 1247.3 L1679.3 1240.3 L1681.3 1233.5 L1683.3 1226.7 L1685.3 1220 L1687.3 1213.5 L1689.3 1207.1 L1691.3 1200.8 L1693.3 1194.7 L1695.3 1188.7 L1697.3 1182.9 L1699.3 1177.2 L1701.3 1171.7 L1703.3 1166.4 L1705.3 1161.2 L1707.3 1156.2 L1709.3 1151.3 L1711.3 1146.7 L1713.3 1142.3 L1715.3 1138 L1717.3 1133.9 L1719.3 1130.1 L1721.3 1126.4 L1723.3 1122.9 L1725.3 1119.7 L1727.3 1116.6 L1729.3 1113.8 L1731.3 1111.2 L1733.3 1108.8 L1735.3 1106.6 L1737.3 1104.6 L1739.3 1102.9 L1741.3 1101.3 L1743.3 1100 L1745.3 1098.9 L1747.3 1098.1 L1749.3 1097.4 L1751.3 1097 L1753.3 1096.8 L1755.3 1096.8 L1757.3 1097 L1759.3 1097.4 L1761.3 1098.1 L1763.3 1098.9 L1765.3 1100 L1767.3 1101.3 L1769.3 1102.7 L1771.3 1104.4 L1773.3 1106.3 L1775.3 1108.3 L1777.3 1110.5 L1779.3 1113 L1781.3 1115.6 L1783.3 1118.4 L1785.3 1121.3 L1787.3 1124.4 L1789.3 1127.7 L1791.3 1131.2 L1793.3 1134.8 L1795.3 1138.5 L1797.3 1142.4 L1799.3 1146.4 L1801.3 1150.6 L1803.3 1154.9 L1805.3 1159.3 L1807.3 1163.8 L1809.3 1168.4 L1811.3 1173.2 L1813.3 1178 L1815.3 1182.9 L1817.3 1188 L1819.3 1193.1 L1821.3 1198.2 L1823.3 1203.5 L1825.3 1208.8 L1827.3 1214.2 L1829.3 1219.6 L1831.3 1225 L1833.3 1230.6 L1835.3 1236.1 L1837.3 1241.7 L1839.3 1247.3 L1841.3 1252.9 L1843.3 1258.6 L1845.3 1264.2 L1847.3 1269.9 L1849.3 1275.6 L1851.3 1281.2 L1853.3 1286.9 L1855.3 1292.5 L1857.3 1298.1 L1859.3 1303.8 L1861.3 1309.3 L1863.3 1314.9 L1865.3 1320.4 L1867.3 1325.9 L1869.3 1331.4 L1871.3 1336.8 L1873.3 1342.2 L1875.3 1347.5 L1877.3 1352.8 L1879.3 1358 L1881.3 1363.1 L1883.3 1368.3 L1885.3 1373.3 L1887.3 1378.3 L1889.3 1383.2 L1891.3 1388.1 L1893.3 1392.9 L1895.3 1397.6 L1897.3 1402.3 L1899.3 1406.9 L1901.3 1411.4 L1903.3 1415.9 L1905.3 1420.3 L1907.3 1424.6 L1909.3 1428.9 L1911.3 1433 L1913.3 1437.1 L1915.3 1441.2 L1917.3 1445.1 L1919.3 1449 L1921.3 1452.8 L1923.3 1456.6 L1925.3 1460.3 L1927.3 1463.9 L1929.3 1467.4 L1931.3 1470.9 L1933.3 1474.3 L1935.3 1477.7 L1937.3 1480.9 L1939.3 1484.2 L1941.3 1487.3 L1943.3 1490.4 L1945.3 1493.4 L1947.3 1496.4 L1949.3 1499.3 L1951.3 1502.2 L1953.3 1505 L1955.3 1507.7 L1957.3 1510.4 L1959.3 1513.1 L1961.3 1515.7 L1963.3 1518.3 L1965.3 1520.8 L1967.3 1523.2 L1969.3 1525.7 L1971.3 1528 L1973.3 1530.4 L1975.3 1532.7 L1977.3 1535 L1979.3 1537.2 L1981.3 1539.4 L1983.3 1541.6 L1985.3 1543.7 L1987.3 1545.8 L1989.3 1547.9 L1991.3 1549.9 L1993.3 1552 L1995.3 1554 L1997.3 1555.9 L1999.3 1557.9 L2001.3 1559.8 L2003.3 1561.8 L2005.3 1563.7 L2007.3 1565.6 L2009.3 1567.4 L2011.3 1569.3 L2013.3 1571.1 L2015.3 1573 L2017.3 1574.8 L2019.3 1576.6 L2021.3 1578.4 L2023.3 1580.2 L2025.3 1581.9 L2027.3 1583.7 L2029.3 1585.5 L2031.3 1587.2 L2033.3 1589 L2035.3 1590.7 L2037.3 1592.4 L2039.3 1594.2 L2041.3 1595.9 L2043.3 1597.6 L2045.3 1599.4 L2047.3 1601.1 L2049.3 1602.8 L2051.3 1604.5 L2053.3 1606.2 L2055.3 1607.9 L2057.3 1609.6 L2059.3 1611.3 L2061.3 1613 L2063.3 1614.8 L2065.3 1616.5 L2067.3 1618.2 L2069.3 1619.9 L2071.3 1621.6 L2073.3 1623.2 L2075.3 1624.9 L2077.3 1626.6 L2079.3 1628.3 L2081.3 1630 L2083.3 1631.7 L2085.3 1633.4 L2087.3 1635.1 L2089.3 1636.8 L2091.3 1638.4 L2093.3 1640.1 L2095.3 1641.8 L2097.3 1643.5 L2099.3 1645.1 L2101.3 1646.8 L2103.3 1648.5 L2105.3 1650.1 L2107.3 1651.8 L2109.3 1653.4 L2111.3 1655.1 L2113.3 1656.7 L2115.3 1658.3 L2117.3 1660 L2119.3 1661.6 L2121.3 1663.2 L2123.3 1664.8 L2125.3 1666.4 L2127.3 1668 L2129.3 1669.6 L2131.3 1671.1 L2133.3 1672.7 L2135.3 1674.3 L2137.3 1675.8 L2139.3 1677.4 L2141.3 1678.9 L2143.3 1680.4 L2145.3 1682 L2147.3 1683.5 L2149.3 1685 L2151.3 1686.4 L2153.3 1687.9 L2155.3 1689.4 L2157.3 1690.8 L2159.3 1692.3 L2161.3 1693.7 L2163.3 1695.1 L2165.3 1696.5 L2167.3 1697.9 L2169.3 1699.3 L2171.3 1700.7 L2173.3 1702 L2175.3 1703.3 L2177.3 1704.7 L2179.3 1706 L2181.3 1707.3 L2183.3 1708.6 L2185.3 1709.8 L2187.3 1711.1 L2189.3 1712.3 L2191.3 1713.6 L2193.3 1714.8 L2195.3 1716 L2197.3 1717.2 L2199.3 1718.4 L2201.3 1719.5 L2203.3 1720.7 L2205.3 1721.8 L2207.3 1722.9 L2209.3 1724 L2211.3 1725.1 L2213.3 1726.1 L2215.3 1727.2 L2217.3 1728.2 L2219.3 1729.3 L2221.3 1730.3 L2223.3 1731.3 L2225.3 1732.2 L2227.3 1733.2 L2229.3 1734.2 L2231.3 1735.1 L2233.3 1736 L2235.3 1736.9 L2237.3 1737.8 L2239.3 1738.7 L2241.3 1739.5 L2243.3 1740.4 L2245.3 1741.2 L2247.3 1742 L2249.3 1742.8 L2251.3 1743.6 L2253.3 1744.4 L2255.3 1745.2 L2257.3 1745.9 L2259.3 1746.6 L2261.3 1747.3 L2263.3 1748.1 L2265.3 1748.7 L2267.3 1749.4 L2269.3 1750.1 L2271.3 1750.7 L2273.3 1751.4 L2275.3 1752 L2277.3 1752.6 L2279.3 1753.2 L2281.3 1753.8 L2283.3 1754.4 L2285.3 1754.9 L2287.3 1755.5 L2289.3 1756 L2291.3 1756.6 L2293.3 1757.1 L2295.3 1757.6 L2297.3 1758.1 L2299.3 1758.6 L2301.3 1759 L2303.3 1759.5 L2305.3 1760 L2307.3 1760.4 L2309.3 1760.8 L2311.3 1761.2 L2313.3 1761.7 L2315.3 1762.1 L2317.3 1762.4 L2319.3 1762.8 L2321.3 1763.2 L2323.3 1763.6 L2325.3 1763.9 L2327.3 1764.3 L2329.3 1764.6 L2331.3 1764.9 L2333.3 1765.2 L2335.3 1765.5 L2337.3 1765.9 L2339.3 1766.1 L2341.3 1766.4 L2343.3 1766.7 L2345.3 1767 L2347.3 1767.3 L2349.3 1767.5 L2351.3 1767.8 L2353.3 1768 L2355.3 1768.2 L2357.3 1768.5 L2359.3 1768.7 L2361.3 1768.9 L2363.3 1769.1 L2365.3 1769.3 L2367.3 1769.5 L2369.3 1769.7 L2371.3 1769.9 L2373.3 1770.1 L2375.3 1770.3 L2377.3 1770.4 L2379.3 1770.6 L2381.3 1770.8 L2383.3 1770.9 L2385.3 1771.1 L2387.3 1771.2 L2389.3 1771.4 L2391.3 1771.5 L2393.3 1771.6 L2395.3 1771.8 L2397.3 1771.9 L2399.3 1772 L2401.3 1772.1 L2403.3 1772.3 L2405.3 1772.4 L2407.3 1772.5 L2409.3 1772.6 L2411.3 1772.7 L2413.3 1772.8 L2415.3 1772.9 L2417.3 1773 L2417.4 1773" fill="none" stroke="#00A862" stroke-width="4.3" stroke-linejoin="round" stroke-linecap="butt" />
<rect x="1361.3" y="1014" width="1056.1" height="788.2" fill="none" stroke="#000" stroke-width="2.6"/>
<line x1="1572.6" y1="1802.2" x2="1572.6" y2="1817.7" stroke="#000" stroke-width="2.6"/>
<text x="1572.6" y="1856.6" font-size="37" text-anchor="middle" font-weight="normal" fill="#000" >528</text>
<line x1="1888.9" y1="1802.2" x2="1888.9" y2="1817.7" stroke="#000" stroke-width="2.6"/>
<text x="1888.9" y="1856.6" font-size="37" text-anchor="middle" font-weight="normal" fill="#000" >531</text>
<line x1="2205.3" y1="1802.2" x2="2205.3" y2="1817.7" stroke="#000" stroke-width="2.6"/>
<text x="2205.3" y="1856.6" font-size="37" text-anchor="middle" font-weight="normal" fill="#000" >534</text>
<text x="1371.1" y="1056.2" font-size="48" text-anchor="start" font-weight="bold" fill="#000" letter-spacing="2">(d)</text>
<text x="1894.3" y="1063" font-size="46" text-anchor="middle" font-weight="bold" fill="#057846" >O 1s</text>
<text x="1856.9" y="1220.3" font-size="37" fill="#000">O1</text>
<text x="1856.9" y="1265.3" font-size="37" fill="#000">529.6 eV</text>
<text x="2137.6" y="1550.2" font-size="37" fill="#000">O2</text>
<text x="2137.6" y="1595.3" font-size="37" fill="#000">531.5 eV</text>
<text x="1890.4" y="1923.3" font-size="41" text-anchor="middle" font-weight="bold" fill="#000" >Binding Energy (eV)</text>
<text transform="translate(1298.7 1382.7) rotate(-90)" font-size="41" text-anchor="middle" font-weight="bold">Intensity (a.u.)</text>
<path d="M741.1 2664.4 L744.4 2719.9 L747.6 2731.9 L750.9 2748.9 L754.1 2647.5 L757.4 2644.9 L760.6 2618.7 L763.9 2615.4 L767.1 2575.7 L770.4 2550.7 L773.6 2578.9 L776.9 2514.1 L780.1 2554.3 L783.4 2496.5 L786.6 2514.7 L789.9 2502.8 L793.1 2469.9 L796.4 2429 L799.6 2396.8 L802.9 2359.6 L806.1 2412.3 L809.4 2360.2 L812.6 2373 L815.9 2305.2 L819.1 2279.2 L822.4 2224.9 L825.6 2207.4 L828.9 2141.9 L832.1 2194.4 L835.4 2090.7 L838.6 2165.8 L841.9 2148.4 L845.1 2062.5 L848.4 2065.3 L851.6 2125.5 L854.9 2124.5 L858.1 2102.5 L861.4 2094.3 L864.6 2165.5 L867.9 2200 L871.1 2172.7 L874.4 2156 L877.6 2217.1 L880.9 2248.1 L884.1 2218.4 L887.4 2313.4 L890.6 2300.4 L893.9 2340.3 L897.1 2363.8 L900.4 2360.7 L903.6 2324.8 L906.9 2386 L910.1 2335.5 L913.4 2400 L916.6 2325.7 L919.9 2371.7 L923.1 2344 L926.4 2419.5 L929.6 2473.6 L932.9 2483.5 L936.1 2531.2 L939.4 2492.5 L942.6 2513.4 L945.9 2449.1 L949.1 2516.5 L952.4 2513.3 L955.6 2530.4 L958.9 2534.3 L962.1 2568.5 L965.4 2461.3 L968.6 2481.4 L971.9 2489.6 L975.1 2547.6 L978.4 2435.7 L981.6 2584.8 L984.9 2499.6 L988.1 2453 L991.4 2408.4 L994.6 2418 L997.9 2453.7 L1001.1 2452.9 L1004.4 2419.9 L1007.6 2429.2 L1010.9 2457.1 L1014.1 2402.4 L1017.4 2468.2 L1020.6 2376.8 L1023.9 2459.3 L1027.1 2358.6 L1030.3 2439.6 L1033.6 2398.7 L1036.8 2351.7 L1040.1 2399.6 L1043.3 2410.5 L1046.6 2408.2 L1049.8 2391.1 L1053.1 2329.6 L1056.3 2382 L1059.6 2401.9 L1062.8 2443.3 L1066.1 2429.4 L1069.3 2444.2 L1072.6 2437.3 L1075.8 2481.4 L1079.1 2512.2 L1082.3 2520.3 L1085.6 2416.4 L1088.8 2340.5 L1092.1 2413.2 L1095.3 2429.6 L1098.6 2515.8 L1101.8 2472.8 L1105.1 2502.9 L1108.3 2441.8 L1111.6 2475.8 L1114.8 2512.1 L1118.1 2534.1 L1121.3 2538.3 L1124.6 2561.7 L1127.8 2566 L1131.1 2633.7 L1134.3 2527.8 L1137.6 2602.3 L1140.8 2582.7 L1144.1 2545.1 L1147.3 2560.1 L1150.6 2556.6 L1153.8 2533.5 L1157.1 2619.1 L1160.3 2588.4 L1163.6 2634.3 L1166.8 2648.1 L1170.1 2564 L1173.3 2572.8 L1176.6 2629.5 L1179.8 2604.8 L1183.1 2608.5 L1186.3 2623.6 L1189.6 2646.6 L1192.8 2588.8 L1196.1 2628.1 L1199.3 2654.7 L1202.6 2605.3 L1205.8 2619 L1209.1 2545 L1212.3 2675.7 L1215.6 2684.3 L1218.8 2677.3 L1222.1 2719.8 L1225.3 2660 L1228.6 2736.7 L1231.8 2711.1 L1235.1 2688.4 L1238.3 2658.7 L1241.6 2752.3 L1244.8 2717.6 L1248.1 2726.7 L1251.3 2757.2 L1254.6 2697.9 L1257.8 2733.7 L1261.1 2736.1 L1264.3 2648 L1267.6 2771.2 L1270.8 2765.7 L1274.1 2693.9 L1277.3 2708.3 L1280.6 2690.4 L1283.8 2681.2 L1287.1 2761.1 L1290.3 2721.2 L1293.6 2715.6 L1296.8 2726.6 L1300.1 2729.2 L1303.3 2679.7 L1306.6 2784 L1309.8 2703.9 L1313.1 2639.2 L1316.3 2653.4 L1319.6 2643.3 L1322.8 2625.2 L1326.1 2614.7 L1329.3 2636.9 L1332.6 2660.8 L1335.8 2666.6 L1339.1 2599.5 L1342.3 2646.7 L1345.6 2655.9 L1348.8 2575.4 L1352.1 2574 L1355.3 2619.4 L1358.6 2517.8 L1361.8 2598.6 L1365.1 2625.9 L1368.3 2595 L1371.6 2610.9 L1374.8 2565.2 L1378.1 2550.3 L1381.3 2506.7 L1384.6 2520.8 L1387.8 2489.9 L1391.1 2470.9 L1394.3 2499.5 L1397.6 2483.9 L1400.8 2451.4 L1404.1 2462.8 L1407.3 2414.7 L1410.6 2469.7 L1413.8 2436 L1417.1 2476.2 L1420.3 2444.4 L1423.6 2471.5 L1426.8 2449.9 L1430.1 2531.2 L1433.3 2429.7 L1436.6 2508 L1439.8 2451.3 L1443.1 2534.5 L1446.3 2451.6 L1449.6 2514.4 L1452.8 2487.4 L1456.1 2521.1 L1459.3 2453.1 L1462.6 2482.9 L1465.8 2512.6 L1469.1 2409.2 L1472.3 2496.2 L1475.6 2465.6 L1478.8 2517.7 L1482.1 2507.4 L1485.3 2438.2 L1488.6 2515.2 L1491.8 2496.9 L1495.1 2532.8 L1498.3 2593.5 L1501.6 2580.5 L1504.8 2563.4 L1508.1 2602.5 L1511.3 2545.3 L1514.6 2574.4 L1517.8 2594.1 L1521.1 2589.1 L1524.3 2585.2 L1527.6 2608.6 L1530.8 2667.8 L1534.1 2615.5 L1537.3 2632.2 L1540.6 2672.9 L1543.8 2558.8 L1547.1 2615.1 L1550.3 2653.2 L1553.6 2579.8 L1556.8 2610.2 L1560.1 2661.9 L1563.3 2623 L1566.6 2619.1 L1569.8 2664.4 L1573.1 2530.3 L1576.3 2610.3 L1579.6 2525.7 L1582.8 2573.1 L1586.1 2574.7 L1589.3 2556.8 L1592.6 2540.6 L1595.8 2572.6 L1599.1 2560.4 L1602.3 2572.7 L1605.6 2577.6 L1608.8 2565 L1612.1 2595.7 L1615.3 2497.9 L1618.6 2476.7 L1621.8 2474.8 L1625.1 2526.4 L1628.3 2496.4 L1631.6 2528.6 L1634.8 2546.9 L1638.1 2594.6 L1641.3 2514.9 L1644.6 2570.5 L1647.8 2519.8 L1651.1 2591.3 L1654.3 2493.9 L1657.6 2597.4 L1660.8 2508.8 L1664.1 2598.3 L1667.3 2538.5 L1670.6 2511.8 L1673.8 2535.3 L1677.1 2535.9 L1680.3 2573.6 L1683.6 2606.6 L1686.8 2581 L1690.1 2568 L1693.3 2572.8 L1696.6 2638.4 L1699.8 2560.7 L1703.1 2615.9 L1706.3 2570.9 L1709.6 2577.4 L1712.8 2626.1 L1716.1 2561.2 L1719.3 2664 L1722.6 2669.7 L1725.8 2598.9 L1729.1 2610.9 L1732.3 2656.2 L1735.6 2667.7 L1738.8 2670.2 L1742.1 2731.4 L1745.3 2756 L1748.6 2599.3 L1751.8 2713.7 L1755.1 2749.5 L1758.3 2698.9 L1761.6 2686 L1764.8 2703.9 L1768.1 2713.7 L1771.3 2689.9 L1774.6 2699.1 L1777.8 2662.9 L1781.1 2586.6 L1784.3 2633.4 L1787.6 2711.1 L1790.8 2701.8 L1794.1 2734.6 L1797.3 2727.3 L1800.6 2730.9 L1803.8 2739.7 L1807.1 2729.5 L1810.3 2778.5 L1812.7 2749.4" fill="none" stroke="#000" stroke-width="2.6" stroke-linejoin="round" stroke-linecap="butt" />
<path d="M740.6 2742.1 L742.6 2737.6 L744.6 2732.7 L746.6 2727.5 L748.6 2721.8 L750.6 2715.7 L752.6 2709.2 L754.6 2702.2 L756.6 2694.7 L758.6 2686.7 L760.6 2678.3 L762.6 2669.3 L764.6 2659.8 L766.6 2649.9 L768.6 2639.4 L770.6 2628.4 L772.6 2616.9 L774.6 2604.9 L776.6 2592.4 L778.6 2579.4 L780.6 2566 L782.6 2552.2 L784.6 2537.9 L786.6 2523.3 L788.6 2508.4 L790.6 2493.2 L792.6 2477.8 L794.6 2462.1 L796.6 2446.3 L798.6 2430.5 L800.6 2414.6 L802.6 2398.7 L804.6 2383 L806.6 2367.4 L808.6 2352 L810.6 2336.9 L812.6 2322.2 L814.6 2308 L816.6 2294.2 L818.6 2281.1 L820.6 2268.6 L822.6 2256.8 L824.6 2245.7 L826.6 2235.5 L828.6 2226.2 L830.6 2217.8 L832.6 2210.4 L834.6 2204.1 L836.6 2198.8 L838.6 2194.6 L840.6 2191.5 L842.6 2189.5 L844.6 2188.7 L846.6 2189.1 L848.6 2190.6 L850.6 2193.2 L852.6 2197 L854.6 2201.8 L856.6 2207.8 L858.6 2214.8 L860.6 2222.7 L862.6 2231.7 L864.6 2241.5 L866.6 2252.2 L868.6 2263.8 L870.6 2276 L872.6 2288.9 L874.6 2302.4 L876.6 2316.5 L878.6 2331 L880.6 2345.9 L882.6 2361.2 L884.6 2376.7 L886.6 2392.4 L888.6 2408.2 L890.6 2424.1 L892.6 2440 L894.6 2455.8 L896.6 2471.5 L898.6 2487.1 L900.6 2502.4 L902.6 2517.4 L904.6 2532.1 L906.6 2546.5 L908.6 2560.5 L910.6 2574.1 L912.6 2587.2 L914.6 2599.9 L916.6 2612.1 L918.6 2623.8 L920.6 2635 L922.6 2645.7 L924.6 2655.9 L926.6 2665.6 L928.6 2674.7 L930.6 2683.4 L932.6 2691.6 L934.6 2699.2 L936.6 2706.4 L938.6 2713.1 L940.6 2719.4 L942.6 2725.3 L944.6 2730.7 L946.6 2735.7 L948.6 2740.4 L950.6 2744.7 L952.6 2748.6 L954.6 2752.2 L956.6 2755.5 L958.6 2758.6 L960.6 2761.4 L962.6 2763.9 L964.6 2766.2 L966.6 2768.2 L968.6 2770.1 L970.6 2771.8 L972.6 2773.3 L974.6 2774.7 L976.6 2775.9 L978.6 2777 L980.6 2778 L982.6 2778.8 L984.6 2779.6 L986.6 2780.3 L988.6 2780.9 L990.6 2781.4 L992.6 2781.9 L994.6 2782.3 L996.6 2782.7 L998.6 2783 L1000.6 2783.3 L1002.6 2783.5 L1004.6 2783.7 L1006.6 2783.9 L1008.6 2784.1 L1010.6 2784.2 L1012.6 2784.3 L1014.6 2784.4 L1016.6 2784.5 L1018.6 2784.6 L1020.6 2784.7 L1022.6 2784.7 L1024.6 2784.8 L1026.6 2784.8 L1028.6 2784.8 L1030.6 2784.9 L1032.6 2784.9 L1034.6 2784.9 L1036.6 2784.9 L1038.6 2784.9 L1040.6 2784.9 L1042.6 2785 L1044.6 2785 L1046.6 2785 L1048.6 2785 L1050.6 2785 L1052.6 2785 L1054.6 2785 L1056.6 2785 L1058.6 2785 L1060.6 2785 L1062.6 2785 L1064.6 2785 L1066.6 2785 L1068.6 2785 L1070.6 2785 L1072.6 2785 L1074.6 2785 L1076.6 2785 L1078.6 2785 L1080.6 2785 L1082.6 2785 L1084.6 2785 L1086.6 2785 L1088.6 2785 L1090.6 2785 L1092.6 2785 L1094.6 2785 L1096.6 2785 L1098.6 2785 L1100.6 2785 L1102.6 2785 L1104.6 2785 L1106.6 2785 L1108.6 2785 L1110.6 2785 L1112.6 2785 L1114.6 2785 L1116.6 2785 L1118.6 2785 L1120.6 2785 L1122.6 2785 L1124.6 2785 L1126.6 2785 L1128.6 2785 L1130.6 2785 L1132.6 2785 L1134.6 2785 L1136.6 2785 L1138.6 2785 L1140.6 2785 L1142.6 2785 L1144.6 2785 L1146.6 2785 L1148.6 2785 L1150.6 2785 L1152.6 2785 L1154.6 2785 L1156.6 2785 L1158.6 2785 L1160.6 2785 L1162.6 2785 L1164.6 2785 L1166.6 2785 L1168.6 2785 L1170.6 2785 L1172.6 2785 L1174.6 2785 L1176.6 2785 L1178.6 2785 L1180.6 2785 L1182.6 2785 L1184.6 2785 L1186.6 2785 L1188.6 2785 L1190.6 2785 L1192.6 2785 L1194.6 2785 L1196.6 2785 L1198.6 2785 L1200.6 2785 L1202.6 2785 L1204.6 2785 L1206.6 2785 L1208.6 2785 L1210.6 2785 L1212.6 2785 L1214.6 2785 L1216.6 2785 L1218.6 2785 L1220.6 2785 L1222.6 2785 L1224.6 2785 L1226.6 2785 L1228.6 2785 L1230.6 2785 L1232.6 2785 L1234.6 2785 L1236.6 2785 L1238.6 2785 L1240.6 2785 L1242.6 2785 L1244.6 2785 L1246.6 2785 L1248.6 2785 L1250.6 2785 L1252.6 2785 L1254.6 2785 L1256.6 2785 L1258.6 2785 L1260.6 2785 L1262.6 2785 L1264.6 2785 L1266.6 2785 L1268.6 2785 L1270.6 2785 L1272.6 2785 L1274.6 2785 L1276.6 2785 L1278.6 2785 L1280.6 2785 L1282.6 2785 L1284.6 2785 L1286.6 2785 L1288.6 2785 L1290.6 2785 L1292.6 2785 L1294.6 2785 L1296.6 2785 L1298.6 2785 L1300.6 2785 L1302.6 2785 L1304.6 2785 L1306.6 2785 L1308.6 2785 L1310.6 2785 L1312.6 2785 L1314.6 2785 L1316.6 2785 L1318.6 2785 L1320.6 2785 L1322.6 2785 L1324.6 2785 L1326.6 2785 L1328.6 2785 L1330.6 2785 L1332.6 2785 L1334.6 2785 L1336.6 2785 L1338.6 2785 L1340.6 2785 L1342.6 2785 L1344.6 2785 L1346.6 2785 L1348.6 2785 L1350.6 2785 L1352.6 2785 L1354.6 2785 L1356.6 2785 L1358.6 2785 L1360.6 2785 L1362.6 2785 L1364.6 2785 L1366.6 2785 L1368.6 2785 L1370.6 2785 L1372.6 2785 L1374.6 2785 L1376.6 2785 L1378.6 2785 L1380.6 2785 L1382.6 2785 L1384.6 2785 L1386.6 2785 L1388.6 2785 L1390.6 2785 L1392.6 2785 L1394.6 2785 L1396.6 2785 L1398.6 2785 L1400.6 2785 L1402.6 2785 L1404.6 2785 L1406.6 2785 L1408.6 2785 L1410.6 2785 L1412.6 2785 L1414.6 2785 L1416.6 2785 L1418.6 2785 L1420.6 2785 L1422.6 2785 L1424.6 2785 L1426.6 2785 L1428.6 2785 L1430.6 2785 L1432.6 2785 L1434.6 2785 L1436.6 2785 L1438.6 2785 L1440.6 2785 L1442.6 2785 L1444.6 2785 L1446.6 2785 L1448.6 2785 L1450.6 2785 L1452.6 2785 L1454.6 2785 L1456.6 2785 L1458.6 2785 L1460.6 2785 L1462.6 2785 L1464.6 2785 L1466.6 2785 L1468.6 2785 L1470.6 2785 L1472.6 2785 L1474.6 2785 L1476.6 2785 L1478.6 2785 L1480.6 2785 L1482.6 2785 L1484.6 2785 L1486.6 2785 L1488.6 2785 L1490.6 2785 L1492.6 2785 L1494.6 2785 L1496.6 2785 L1498.6 2785 L1500.6 2785 L1502.6 2785 L1504.6 2785 L1506.6 2785 L1508.6 2785 L1510.6 2785 L1512.6 2785 L1514.6 2785 L1516.6 2785 L1518.6 2785 L1520.6 2785 L1522.6 2785 L1524.6 2785 L1526.6 2785 L1528.6 2785 L1530.6 2785 L1532.6 2785 L1534.6 2785 L1536.6 2785 L1538.6 2785 L1540.6 2785 L1542.6 2785 L1544.6 2785 L1546.6 2785 L1548.6 2785 L1550.6 2785 L1552.6 2785 L1554.6 2785 L1556.6 2785 L1558.6 2785 L1560.6 2785 L1562.6 2785 L1564.6 2785 L1566.6 2785 L1568.6 2785 L1570.6 2785 L1572.6 2785 L1574.6 2785 L1576.6 2785 L1578.6 2785 L1580.6 2785 L1582.6 2785 L1584.6 2785 L1586.6 2785 L1588.6 2785 L1590.6 2785 L1592.6 2785 L1594.6 2785 L1596.6 2785 L1598.6 2785 L1600.6 2785 L1602.6 2785 L1604.6 2785 L1606.6 2785 L1608.6 2785 L1610.6 2785 L1612.6 2785 L1614.6 2785 L1616.6 2785 L1618.6 2785 L1620.6 2785 L1622.6 2785 L1624.6 2785 L1626.6 2785 L1628.6 2785 L1630.6 2785 L1632.6 2785 L1634.6 2785 L1636.6 2785 L1638.6 2785 L1640.6 2785 L1642.6 2785 L1644.6 2785 L1646.6 2785 L1648.6 2785 L1650.6 2785 L1652.6 2785 L1654.6 2785 L1656.6 2785 L1658.6 2785 L1660.6 2785 L1662.6 2785 L1664.6 2785 L1666.6 2785 L1668.6 2785 L1670.6 2785 L1672.6 2785 L1674.6 2785 L1676.6 2785 L1678.6 2785 L1680.6 2785 L1682.6 2785 L1684.6 2785 L1686.6 2785 L1688.6 2785 L1690.6 2785 L1692.6 2785 L1694.6 2785 L1696.6 2785 L1698.6 2785 L1700.6 2785 L1702.6 2785 L1704.6 2785 L1706.6 2785 L1708.6 2785 L1710.6 2785 L1712.6 2785 L1714.6 2785 L1716.6 2785 L1718.6 2785 L1720.6 2785 L1722.6 2785 L1724.6 2785 L1726.6 2785 L1728.6 2785 L1730.6 2785 L1732.6 2785 L1734.6 2785 L1736.6 2785 L1738.6 2785 L1740.6 2785 L1742.6 2785 L1744.6 2785 L1746.6 2785 L1748.6 2785 L1750.6 2785 L1752.6 2785 L1754.6 2785 L1756.6 2785 L1758.6 2785 L1760.6 2785 L1762.6 2785 L1764.6 2785 L1766.6 2785 L1768.6 2785 L1770.6 2785 L1772.6 2785 L1774.6 2785 L1776.6 2785 L1778.6 2785 L1780.6 2785 L1782.6 2785 L1784.6 2785 L1786.6 2785 L1788.6 2785 L1790.6 2785 L1792.6 2785 L1794.6 2785 L1796.6 2785 L1798.6 2785 L1800.6 2785 L1802.6 2785 L1804.6 2785 L1806.6 2785 L1808.6 2785 L1810.6 2785 L1812.6 2785 L1813.2 2785" fill="none" stroke="#FF0000" stroke-width="3.9" stroke-linejoin="round" stroke-linecap="butt" />
<path d="M740.6 2776.1 L742.6 2775.7 L744.6 2775.2 L746.6 2774.7 L748.6 2774.2 L750.6 2773.7 L752.6 2773.1 L754.6 2772.6 L756.6 2772 L758.6 2771.3 L760.6 2770.7 L762.6 2770 L764.6 2769.3 L766.6 2768.6 L768.6 2767.9 L770.6 2767.1 L772.6 2766.3 L774.6 2765.4 L776.6 2764.6 L778.6 2763.7 L780.6 2762.7 L782.6 2761.8 L784.6 2760.8 L786.6 2759.8 L788.6 2758.7 L790.6 2757.6 L792.6 2756.4 L794.6 2755.3 L796.6 2754 L798.6 2752.8 L800.6 2751.5 L802.6 2750.1 L804.6 2748.8 L806.6 2747.3 L808.6 2745.9 L810.6 2744.4 L812.6 2742.8 L814.6 2741.2 L816.6 2739.6 L818.6 2737.9 L820.6 2736.1 L822.6 2734.4 L824.6 2732.5 L826.6 2730.6 L828.6 2728.7 L830.6 2726.7 L832.6 2724.7 L834.6 2722.6 L836.6 2720.5 L838.6 2718.3 L840.6 2716 L842.6 2713.7 L844.6 2711.4 L846.6 2709 L848.6 2706.6 L850.6 2704.1 L852.6 2701.5 L854.6 2698.9 L856.6 2696.2 L858.6 2693.5 L860.6 2690.8 L862.6 2688 L864.6 2685.1 L866.6 2682.2 L868.6 2679.2 L870.6 2676.2 L872.6 2673.1 L874.6 2670 L876.6 2666.8 L878.6 2663.6 L880.6 2660.4 L882.6 2657.1 L884.6 2653.7 L886.6 2650.3 L888.6 2646.9 L890.6 2643.4 L892.6 2639.9 L894.6 2636.3 L896.6 2632.7 L898.6 2629.1 L900.6 2625.4 L902.6 2621.7 L904.6 2618 L906.6 2614.2 L908.6 2610.4 L910.6 2606.6 L912.6 2602.7 L914.6 2598.9 L916.6 2595 L918.6 2591.1 L920.6 2587.2 L922.6 2583.2 L924.6 2579.3 L926.6 2575.3 L928.6 2571.4 L930.6 2567.4 L932.6 2563.4 L934.6 2559.5 L936.6 2555.5 L938.6 2551.6 L940.6 2547.6 L942.6 2543.7 L944.6 2539.8 L946.6 2535.8 L948.6 2532 L950.6 2528.1 L952.6 2524.3 L954.6 2520.5 L956.6 2516.7 L958.6 2512.9 L960.6 2509.2 L962.6 2505.6 L964.6 2502 L966.6 2498.4 L968.6 2494.9 L970.6 2491.4 L972.6 2488 L974.6 2484.6 L976.6 2481.3 L978.6 2478.1 L980.6 2474.9 L982.6 2471.8 L984.6 2468.8 L986.6 2465.8 L988.6 2462.9 L990.6 2460.1 L992.6 2457.4 L994.6 2454.8 L996.6 2452.2 L998.6 2449.8 L1000.6 2447.4 L1002.6 2445.2 L1004.6 2443 L1006.6 2440.9 L1008.6 2438.9 L1010.6 2437 L1012.6 2435.3 L1014.6 2433.6 L1016.6 2432 L1018.6 2430.6 L1020.6 2429.3 L1022.6 2428 L1024.6 2426.9 L1026.6 2425.9 L1028.6 2425 L1030.6 2424.2 L1032.6 2423.6 L1034.6 2423 L1036.6 2422.6 L1038.6 2422.3 L1040.6 2422.1 L1042.6 2422 L1044.6 2422 L1046.6 2422.2 L1048.6 2422.5 L1050.6 2422.9 L1052.6 2423.4 L1054.6 2424 L1056.6 2424.8 L1058.6 2425.6 L1060.6 2426.6 L1062.6 2427.7 L1064.6 2428.9 L1066.6 2430.2 L1068.6 2431.6 L1070.6 2433.1 L1072.6 2434.8 L1074.6 2436.5 L1076.6 2438.4 L1078.6 2440.3 L1080.6 2442.3 L1082.6 2444.5 L1084.6 2446.7 L1086.6 2449.1 L1088.6 2451.5 L1090.6 2454 L1092.6 2456.6 L1094.6 2459.3 L1096.6 2462.1 L1098.6 2464.9 L1100.6 2467.9 L1102.6 2470.9 L1104.6 2474 L1106.6 2477.1 L1108.6 2480.3 L1110.6 2483.6 L1112.6 2487 L1114.6 2490.4 L1116.6 2493.8 L1118.6 2497.3 L1120.6 2500.9 L1122.6 2504.5 L1124.6 2508.1 L1126.6 2511.8 L1128.6 2515.6 L1130.6 2519.3 L1132.6 2523.1 L1134.6 2526.9 L1136.6 2530.8 L1138.6 2534.7 L1140.6 2538.6 L1142.6 2542.5 L1144.6 2546.4 L1146.6 2550.4 L1148.6 2554.3 L1150.6 2558.3 L1152.6 2562.3 L1154.6 2566.2 L1156.6 2570.2 L1158.6 2574.1 L1160.6 2578.1 L1162.6 2582.1 L1164.6 2586 L1166.6 2589.9 L1168.6 2593.8 L1170.6 2597.7 L1172.6 2601.6 L1174.6 2605.4 L1176.6 2609.3 L1178.6 2613.1 L1180.6 2616.8 L1182.6 2620.6 L1184.6 2624.3 L1186.6 2628 L1188.6 2631.6 L1190.6 2635.2 L1192.6 2638.8 L1194.6 2642.3 L1196.6 2645.8 L1198.6 2649.3 L1200.6 2652.7 L1202.6 2656.1 L1204.6 2659.4 L1206.6 2662.6 L1208.6 2665.9 L1210.6 2669.1 L1212.6 2672.2 L1214.6 2675.3 L1216.6 2678.3 L1218.6 2681.3 L1220.6 2684.2 L1222.6 2687.1 L1224.6 2689.9 L1226.6 2692.7 L1228.6 2695.4 L1230.6 2698.1 L1232.6 2700.7 L1234.6 2703.3 L1236.6 2705.8 L1238.6 2708.3 L1240.6 2710.7 L1242.6 2713 L1244.6 2715.4 L1246.6 2717.6 L1248.6 2719.8 L1250.6 2722 L1252.6 2724.1 L1254.6 2726.1 L1256.6 2728.1 L1258.6 2730.1 L1260.6 2732 L1262.6 2733.8 L1264.6 2735.6 L1266.6 2737.4 L1268.6 2739.1 L1270.6 2740.7 L1272.6 2742.3 L1274.6 2743.9 L1276.6 2745.4 L1278.6 2746.9 L1280.6 2748.3 L1282.6 2749.7 L1284.6 2751.1 L1286.6 2752.4 L1288.6 2753.7 L1290.6 2754.9 L1292.6 2756.1 L1294.6 2757.2 L1296.6 2758.4 L1298.6 2759.4 L1300.6 2760.5 L1302.6 2761.5 L1304.6 2762.5 L1306.6 2763.4 L1308.6 2764.3 L1310.6 2765.2 L1312.6 2766 L1314.6 2766.9 L1316.6 2767.6 L1318.6 2768.4 L1320.6 2769.1 L1322.6 2769.8 L1324.6 2770.5 L1326.6 2771.2 L1328.6 2771.8 L1330.6 2772.4 L1332.6 2773 L1334.6 2773.5 L1336.6 2774 L1338.6 2774.6 L1340.6 2775 L1342.6 2775.5 L1344.6 2776 L1346.6 2776.4 L1348.6 2776.8 L1350.6 2777.2 L1352.6 2777.6 L1354.6 2778 L1356.6 2778.3 L1358.6 2778.6 L1360.6 2779 L1362.6 2779.3 L1364.6 2779.6 L1366.6 2779.8 L1368.6 2780.1 L1370.6 2780.4 L1372.6 2780.6 L1374.6 2780.8 L1376.6 2781 L1378.6 2781.3 L1380.6 2781.5 L1382.6 2781.6 L1384.6 2781.8 L1386.6 2782 L1388.6 2782.2 L1390.6 2782.3 L1392.6 2782.5 L1394.6 2782.6 L1396.6 2782.7 L1398.6 2782.9 L1400.6 2783 L1402.6 2783.1 L1404.6 2783.2 L1406.6 2783.3 L1408.6 2783.4 L1410.6 2783.5 L1412.6 2783.6 L1414.6 2783.7 L1416.6 2783.7 L1418.6 2783.8 L1420.6 2783.9 L1422.6 2784 L1424.6 2784 L1426.6 2784.1 L1428.6 2784.1 L1430.6 2784.2 L1432.6 2784.2 L1434.6 2784.3 L1436.6 2784.3 L1438.6 2784.4 L1440.6 2784.4 L1442.6 2784.4 L1444.6 2784.5 L1446.6 2784.5 L1448.6 2784.5 L1450.6 2784.6 L1452.6 2784.6 L1454.6 2784.6 L1456.6 2784.7 L1458.6 2784.7 L1460.6 2784.7 L1462.6 2784.7 L1464.6 2784.7 L1466.6 2784.8 L1468.6 2784.8 L1470.6 2784.8 L1472.6 2784.8 L1474.6 2784.8 L1476.6 2784.8 L1478.6 2784.8 L1480.6 2784.8 L1482.6 2784.9 L1484.6 2784.9 L1486.6 2784.9 L1488.6 2784.9 L1490.6 2784.9 L1492.6 2784.9 L1494.6 2784.9 L1496.6 2784.9 L1498.6 2784.9 L1500.6 2784.9 L1502.6 2784.9 L1504.6 2784.9 L1506.6 2784.9 L1508.6 2784.9 L1510.6 2784.9 L1512.6 2785 L1514.6 2785 L1516.6 2785 L1518.6 2785 L1520.6 2785 L1522.6 2785 L1524.6 2785 L1526.6 2785 L1528.6 2785 L1530.6 2785 L1532.6 2785 L1534.6 2785 L1536.6 2785 L1538.6 2785 L1540.6 2785 L1542.6 2785 L1544.6 2785 L1546.6 2785 L1548.6 2785 L1550.6 2785 L1552.6 2785 L1554.6 2785 L1556.6 2785 L1558.6 2785 L1560.6 2785 L1562.6 2785 L1564.6 2785 L1566.6 2785 L1568.6 2785 L1570.6 2785 L1572.6 2785 L1574.6 2785 L1576.6 2785 L1578.6 2785 L1580.6 2785 L1582.6 2785 L1584.6 2785 L1586.6 2785 L1588.6 2785 L1590.6 2785 L1592.6 2785 L1594.6 2785 L1596.6 2785 L1598.6 2785 L1600.6 2785 L1602.6 2785 L1604.6 2785 L1606.6 2785 L1608.6 2785 L1610.6 2785 L1612.6 2785 L1614.6 2785 L1616.6 2785 L1618.6 2785 L1620.6 2785 L1622.6 2785 L1624.6 2785 L1626.6 2785 L1628.6 2785 L1630.6 2785 L1632.6 2785 L1634.6 2785 L1636.6 2785 L1638.6 2785 L1640.6 2785 L1642.6 2785 L1644.6 2785 L1646.6 2785 L1648.6 2785 L1650.6 2785 L1652.6 2785 L1654.6 2785 L1656.6 2785 L1658.6 2785 L1660.6 2785 L1662.6 2785 L1664.6 2785 L1666.6 2785 L1668.6 2785 L1670.6 2785 L1672.6 2785 L1674.6 2785 L1676.6 2785 L1678.6 2785 L1680.6 2785 L1682.6 2785 L1684.6 2785 L1686.6 2785 L1688.6 2785 L1690.6 2785 L1692.6 2785 L1694.6 2785 L1696.6 2785 L1698.6 2785 L1700.6 2785 L1702.6 2785 L1704.6 2785 L1706.6 2785 L1708.6 2785 L1710.6 2785 L1712.6 2785 L1714.6 2785 L1716.6 2785 L1718.6 2785 L1720.6 2785 L1722.6 2785 L1724.6 2785 L1726.6 2785 L1728.6 2785 L1730.6 2785 L1732.6 2785 L1734.6 2785 L1736.6 2785 L1738.6 2785 L1740.6 2785 L1742.6 2785 L1744.6 2785 L1746.6 2785 L1748.6 2785 L1750.6 2785 L1752.6 2785 L1754.6 2785 L1756.6 2785 L1758.6 2785 L1760.6 2785 L1762.6 2785 L1764.6 2785 L1766.6 2785 L1768.6 2785 L1770.6 2785 L1772.6 2785 L1774.6 2785 L1776.6 2785 L1778.6 2785 L1780.6 2785 L1782.6 2785 L1784.6 2785 L1786.6 2785 L1788.6 2785 L1790.6 2785 L1792.6 2785 L1794.6 2785 L1796.6 2785 L1798.6 2785 L1800.6 2785 L1802.6 2785 L1804.6 2785 L1806.6 2785 L1808.6 2785 L1810.6 2785 L1812.6 2785 L1813.2 2785" fill="none" stroke="#00AA5A" stroke-width="3.9" stroke-linejoin="round" stroke-linecap="butt" />
<path d="M740.6 2785 L742.6 2785 L744.6 2785 L746.6 2785 L748.6 2785 L750.6 2785 L752.6 2785 L754.6 2785 L756.6 2785 L758.6 2785 L760.6 2785 L762.6 2785 L764.6 2785 L766.6 2785 L768.6 2785 L770.6 2785 L772.6 2785 L774.6 2785 L776.6 2785 L778.6 2785 L780.6 2785 L782.6 2785 L784.6 2785 L786.6 2785 L788.6 2785 L790.6 2785 L792.6 2785 L794.6 2785 L796.6 2785 L798.6 2785 L800.6 2785 L802.6 2785 L804.6 2785 L806.6 2785 L808.6 2785 L810.6 2785 L812.6 2785 L814.6 2785 L816.6 2785 L818.6 2785 L820.6 2785 L822.6 2785 L824.6 2785 L826.6 2785 L828.6 2785 L830.6 2785 L832.6 2785 L834.6 2785 L836.6 2785 L838.6 2785 L840.6 2785 L842.6 2785 L844.6 2785 L846.6 2785 L848.6 2785 L850.6 2785 L852.6 2785 L854.6 2785 L856.6 2785 L858.6 2785 L860.6 2785 L862.6 2785 L864.6 2785 L866.6 2785 L868.6 2785 L870.6 2785 L872.6 2785 L874.6 2785 L876.6 2785 L878.6 2785 L880.6 2785 L882.6 2785 L884.6 2785 L886.6 2785 L888.6 2785 L890.6 2785 L892.6 2785 L894.6 2785 L896.6 2785 L898.6 2785 L900.6 2785 L902.6 2785 L904.6 2785 L906.6 2785 L908.6 2785 L910.6 2785 L912.6 2785 L914.6 2785 L916.6 2785 L918.6 2785 L920.6 2785 L922.6 2785 L924.6 2785 L926.6 2785 L928.6 2785 L930.6 2785 L932.6 2785 L934.6 2785 L936.6 2785 L938.6 2785 L940.6 2785 L942.6 2785 L944.6 2785 L946.6 2785 L948.6 2785 L950.6 2785 L952.6 2785 L954.6 2785 L956.6 2785 L958.6 2785 L960.6 2785 L962.6 2785 L964.6 2785 L966.6 2785 L968.6 2785 L970.6 2785 L972.6 2785 L974.6 2785 L976.6 2785 L978.6 2785 L980.6 2785 L982.6 2785 L984.6 2785 L986.6 2785 L988.6 2785 L990.6 2785 L992.6 2785 L994.6 2785 L996.6 2785 L998.6 2785 L1000.6 2785 L1002.6 2785 L1004.6 2785 L1006.6 2785 L1008.6 2785 L1010.6 2785 L1012.6 2785 L1014.6 2785 L1016.6 2785 L1018.6 2785 L1020.6 2785 L1022.6 2785 L1024.6 2785 L1026.6 2785 L1028.6 2785 L1030.6 2785 L1032.6 2785 L1034.6 2785 L1036.6 2785 L1038.6 2785 L1040.6 2785 L1042.6 2785 L1044.6 2785 L1046.6 2785 L1048.6 2785 L1050.6 2785 L1052.6 2785 L1054.6 2785 L1056.6 2785 L1058.6 2785 L1060.6 2785 L1062.6 2785 L1064.6 2785 L1066.6 2785 L1068.6 2785 L1070.6 2785 L1072.6 2785 L1074.6 2785 L1076.6 2785 L1078.6 2785 L1080.6 2785 L1082.6 2785 L1084.6 2785 L1086.6 2785 L1088.6 2785 L1090.6 2785 L1092.6 2785 L1094.6 2785 L1096.6 2785 L1098.6 2785 L1100.6 2785 L1102.6 2785 L1104.6 2785 L1106.6 2785 L1108.6 2785 L1110.6 2785 L1112.6 2785 L1114.6 2785 L1116.6 2785 L1118.6 2785 L1120.6 2785 L1122.6 2785 L1124.6 2785 L1126.6 2785 L1128.6 2785 L1130.6 2785 L1132.6 2785 L1134.6 2785 L1136.6 2785 L1138.6 2785 L1140.6 2785 L1142.6 2785 L1144.6 2785 L1146.6 2785 L1148.6 2785 L1150.6 2785 L1152.6 2785 L1154.6 2785 L1156.6 2785 L1158.6 2785 L1160.6 2784.9 L1162.6 2784.9 L1164.6 2784.9 L1166.6 2784.9 L1168.6 2784.9 L1170.6 2784.9 L1172.6 2784.9 L1174.6 2784.9 L1176.6 2784.8 L1178.6 2784.8 L1180.6 2784.8 L1182.6 2784.8 L1184.6 2784.8 L1186.6 2784.7 L1188.6 2784.7 L1190.6 2784.7 L1192.6 2784.6 L1194.6 2784.6 L1196.6 2784.5 L1198.6 2784.5 L1200.6 2784.4 L1202.6 2784.3 L1204.6 2784.2 L1206.6 2784.2 L1208.6 2784.1 L1210.6 2783.9 L1212.6 2783.8 L1214.6 2783.7 L1216.6 2783.6 L1218.6 2783.4 L1220.6 2783.2 L1222.6 2783.1 L1224.6 2782.9 L1226.6 2782.6 L1228.6 2782.4 L1230.6 2782.1 L1232.6 2781.8 L1234.6 2781.5 L1236.6 2781.2 L1238.6 2780.8 L1240.6 2780.4 L1242.6 2780 L1244.6 2779.5 L1246.6 2779 L1248.6 2778.5 L1250.6 2777.9 L1252.6 2777.2 L1254.6 2776.6 L1256.6 2775.8 L1258.6 2775 L1260.6 2774.2 L1262.6 2773.3 L1264.6 2772.3 L1266.6 2771.3 L1268.6 2770.2 L1270.6 2769 L1272.6 2767.7 L1274.6 2766.4 L1276.6 2765 L1278.6 2763.5 L1280.6 2761.9 L1282.6 2760.2 L1284.6 2758.4 L1286.6 2756.5 L1288.6 2754.5 L1290.6 2752.4 L1292.6 2750.1 L1294.6 2747.8 L1296.6 2745.4 L1298.6 2742.8 L1300.6 2740.1 L1302.6 2737.3 L1304.6 2734.3 L1306.6 2731.2 L1308.6 2728 L1310.6 2724.7 L1312.6 2721.2 L1314.6 2717.6 L1316.6 2713.8 L1318.6 2709.9 L1320.6 2705.9 L1322.6 2701.7 L1324.6 2697.4 L1326.6 2693 L1328.6 2688.5 L1330.6 2683.8 L1332.6 2679 L1334.6 2674.1 L1336.6 2669 L1338.6 2663.9 L1340.6 2658.6 L1342.6 2653.3 L1344.6 2647.9 L1346.6 2642.3 L1348.6 2636.7 L1350.6 2631.1 L1352.6 2625.3 L1354.6 2619.5 L1356.6 2613.7 L1358.6 2607.8 L1360.6 2602 L1362.6 2596.1 L1364.6 2590.2 L1366.6 2584.3 L1368.6 2578.4 L1370.6 2572.6 L1372.6 2566.9 L1374.6 2561.1 L1376.6 2555.5 L1378.6 2550 L1380.6 2544.5 L1382.6 2539.2 L1384.6 2534 L1386.6 2528.9 L1388.6 2524 L1390.6 2519.3 L1392.6 2514.7 L1394.6 2510.3 L1396.6 2506.2 L1398.6 2502.2 L1400.6 2498.5 L1402.6 2494.9 L1404.6 2491.7 L1406.6 2488.7 L1408.6 2485.9 L1410.6 2483.5 L1412.6 2481.2 L1414.6 2479.3 L1416.6 2477.7 L1418.6 2476.4 L1420.6 2475.3 L1422.6 2474.6 L1424.6 2474.1 L1426.6 2474 L1428.6 2474.2 L1430.6 2474.6 L1432.6 2475.4 L1434.6 2476.5 L1436.6 2477.8 L1438.6 2479.5 L1440.6 2481.5 L1442.6 2483.7 L1444.6 2486.2 L1446.6 2489 L1448.6 2492 L1450.6 2495.3 L1452.6 2498.8 L1454.6 2502.6 L1456.6 2506.6 L1458.6 2510.8 L1460.6 2515.2 L1462.6 2519.7 L1464.6 2524.5 L1466.6 2529.4 L1468.6 2534.5 L1470.6 2539.7 L1472.6 2545.1 L1474.6 2550.5 L1476.6 2556.1 L1478.6 2561.7 L1480.6 2567.4 L1482.6 2573.2 L1484.6 2579 L1486.6 2584.9 L1488.6 2590.8 L1490.6 2596.7 L1492.6 2602.6 L1494.6 2608.4 L1496.6 2614.3 L1498.6 2620.1 L1500.6 2625.9 L1502.6 2631.6 L1504.6 2637.3 L1506.6 2642.9 L1508.6 2648.4 L1510.6 2653.8 L1512.6 2659.2 L1514.6 2664.4 L1516.6 2669.6 L1518.6 2674.6 L1520.6 2679.5 L1522.6 2684.3 L1524.6 2688.9 L1526.6 2693.5 L1528.6 2697.9 L1530.6 2702.2 L1532.6 2706.3 L1534.6 2710.3 L1536.6 2714.2 L1538.6 2717.9 L1540.6 2721.5 L1542.6 2725 L1544.6 2728.3 L1546.6 2731.5 L1548.6 2734.6 L1550.6 2737.5 L1552.6 2740.4 L1554.6 2743 L1556.6 2745.6 L1558.6 2748 L1560.6 2750.4 L1562.6 2752.6 L1564.6 2754.7 L1566.6 2756.7 L1568.6 2758.6 L1570.6 2760.3 L1572.6 2762 L1574.6 2763.6 L1576.6 2765.1 L1578.6 2766.5 L1580.6 2767.9 L1582.6 2769.1 L1584.6 2770.3 L1586.6 2771.4 L1588.6 2772.4 L1590.6 2773.4 L1592.6 2774.3 L1594.6 2775.1 L1596.6 2775.9 L1598.6 2776.6 L1600.6 2777.3 L1602.6 2777.9 L1604.6 2778.5 L1606.6 2779.1 L1608.6 2779.6 L1610.6 2780 L1612.6 2780.5 L1614.6 2780.9 L1616.6 2781.2 L1618.6 2781.6 L1620.6 2781.9 L1622.6 2782.2 L1624.6 2782.4 L1626.6 2782.7 L1628.6 2782.9 L1630.6 2783.1 L1632.6 2783.3 L1634.6 2783.4 L1636.6 2783.6 L1638.6 2783.7 L1640.6 2783.8 L1642.6 2784 L1644.6 2784.1 L1646.6 2784.2 L1648.6 2784.2 L1650.6 2784.3 L1652.6 2784.4 L1654.6 2784.5 L1656.6 2784.5 L1658.6 2784.6 L1660.6 2784.6 L1662.6 2784.7 L1664.6 2784.7 L1666.6 2784.7 L1668.6 2784.8 L1670.6 2784.8 L1672.6 2784.8 L1674.6 2784.8 L1676.6 2784.8 L1678.6 2784.9 L1680.6 2784.9 L1682.6 2784.9 L1684.6 2784.9 L1686.6 2784.9 L1688.6 2784.9 L1690.6 2784.9 L1692.6 2784.9 L1694.6 2785 L1696.6 2785 L1698.6 2785 L1700.6 2785 L1702.6 2785 L1704.6 2785 L1706.6 2785 L1708.6 2785 L1710.6 2785 L1712.6 2785 L1714.6 2785 L1716.6 2785 L1718.6 2785 L1720.6 2785 L1722.6 2785 L1724.6 2785 L1726.6 2785 L1728.6 2785 L1730.6 2785 L1732.6 2785 L1734.6 2785 L1736.6 2785 L1738.6 2785 L1740.6 2785 L1742.6 2785 L1744.6 2785 L1746.6 2785 L1748.6 2785 L1750.6 2785 L1752.6 2785 L1754.6 2785 L1756.6 2785 L1758.6 2785 L1760.6 2785 L1762.6 2785 L1764.6 2785 L1766.6 2785 L1768.6 2785 L1770.6 2785 L1772.6 2785 L1774.6 2785 L1776.6 2785 L1778.6 2785 L1780.6 2785 L1782.6 2785 L1784.6 2785 L1786.6 2785 L1788.6 2785 L1790.6 2785 L1792.6 2785 L1794.6 2785 L1796.6 2785 L1798.6 2785 L1800.6 2785 L1802.6 2785 L1804.6 2785 L1806.6 2785 L1808.6 2785 L1810.6 2785 L1812.6 2785 L1813.2 2785" fill="none" stroke="#FF0000" stroke-width="3.9" stroke-linejoin="round" stroke-linecap="butt" />
<path d="M740.6 2785 L742.6 2785 L744.6 2785 L746.6 2785 L748.6 2785 L750.6 2785 L752.6 2785 L754.6 2785 L756.6 2785 L758.6 2785 L760.6 2785 L762.6 2785 L764.6 2785 L766.6 2785 L768.6 2785 L770.6 2785 L772.6 2785 L774.6 2785 L776.6 2785 L778.6 2785 L780.6 2785 L782.6 2785 L784.6 2785 L786.6 2785 L788.6 2785 L790.6 2785 L792.6 2785 L794.6 2785 L796.6 2785 L798.6 2785 L800.6 2785 L802.6 2785 L804.6 2785 L806.6 2785 L808.6 2785 L810.6 2785 L812.6 2785 L814.6 2785 L816.6 2785 L818.6 2785 L820.6 2785 L822.6 2785 L824.6 2785 L826.6 2785 L828.6 2785 L830.6 2785 L832.6 2785 L834.6 2785 L836.6 2785 L838.6 2785 L840.6 2785 L842.6 2785 L844.6 2785 L846.6 2785 L848.6 2785 L850.6 2785 L852.6 2785 L854.6 2785 L856.6 2785 L858.6 2785 L860.6 2785 L862.6 2785 L864.6 2785 L866.6 2785 L868.6 2785 L870.6 2785 L872.6 2785 L874.6 2785 L876.6 2785 L878.6 2785 L880.6 2785 L882.6 2785 L884.6 2785 L886.6 2785 L888.6 2785 L890.6 2785 L892.6 2785 L894.6 2785 L896.6 2785 L898.6 2785 L900.6 2785 L902.6 2785 L904.6 2785 L906.6 2785 L908.6 2785 L910.6 2785 L912.6 2785 L914.6 2785 L916.6 2785 L918.6 2785 L920.6 2785 L922.6 2785 L924.6 2785 L926.6 2785 L928.6 2785 L930.6 2785 L932.6 2785 L934.6 2785 L936.6 2785 L938.6 2785 L940.6 2785 L942.6 2785 L944.6 2785 L946.6 2785 L948.6 2785 L950.6 2785 L952.6 2785 L954.6 2785 L956.6 2785 L958.6 2785 L960.6 2785 L962.6 2785 L964.6 2785 L966.6 2785 L968.6 2785 L970.6 2785 L972.6 2785 L974.6 2785 L976.6 2785 L978.6 2785 L980.6 2785 L982.6 2785 L984.6 2785 L986.6 2785 L988.6 2785 L990.6 2785 L992.6 2785 L994.6 2785 L996.6 2785 L998.6 2785 L1000.6 2785 L1002.6 2785 L1004.6 2785 L1006.6 2785 L1008.6 2785 L1010.6 2785 L1012.6 2785 L1014.6 2785 L1016.6 2785 L1018.6 2785 L1020.6 2785 L1022.6 2785 L1024.6 2785 L1026.6 2785 L1028.6 2785 L1030.6 2785 L1032.6 2785 L1034.6 2785 L1036.6 2785 L1038.6 2785 L1040.6 2785 L1042.6 2785 L1044.6 2785 L1046.6 2785 L1048.6 2785 L1050.6 2785 L1052.6 2785 L1054.6 2785 L1056.6 2785 L1058.6 2785 L1060.6 2785 L1062.6 2785 L1064.6 2785 L1066.6 2785 L1068.6 2785 L1070.6 2785 L1072.6 2785 L1074.6 2785 L1076.6 2785 L1078.6 2785 L1080.6 2785 L1082.6 2785 L1084.6 2785 L1086.6 2785 L1088.6 2785 L1090.6 2785 L1092.6 2785 L1094.6 2785 L1096.6 2785 L1098.6 2785 L1100.6 2785 L1102.6 2785 L1104.6 2785 L1106.6 2785 L1108.6 2785 L1110.6 2785 L1112.6 2785 L1114.6 2785 L1116.6 2785 L1118.6 2785 L1120.6 2785 L1122.6 2785 L1124.6 2785 L1126.6 2785 L1128.6 2785 L1130.6 2785 L1132.6 2785 L1134.6 2785 L1136.6 2785 L1138.6 2785 L1140.6 2785 L1142.6 2785 L1144.6 2785 L1146.6 2785 L1148.6 2785 L1150.6 2785 L1152.6 2785 L1154.6 2785 L1156.6 2785 L1158.6 2785 L1160.6 2785 L1162.6 2785 L1164.6 2785 L1166.6 2785 L1168.6 2785 L1170.6 2785 L1172.6 2785 L1174.6 2785 L1176.6 2785 L1178.6 2785 L1180.6 2785 L1182.6 2785 L1184.6 2785 L1186.6 2785 L1188.6 2785 L1190.6 2785 L1192.6 2785 L1194.6 2785 L1196.6 2785 L1198.6 2785 L1200.6 2785 L1202.6 2785 L1204.6 2785 L1206.6 2785 L1208.6 2785 L1210.6 2785 L1212.6 2785 L1214.6 2785 L1216.6 2785 L1218.6 2785 L1220.6 2785 L1222.6 2785 L1224.6 2785 L1226.6 2785 L1228.6 2785 L1230.6 2785 L1232.6 2785 L1234.6 2785 L1236.6 2785 L1238.6 2785 L1240.6 2785 L1242.6 2785 L1244.6 2785 L1246.6 2785 L1248.6 2785 L1250.6 2785 L1252.6 2785 L1254.6 2785 L1256.6 2785 L1258.6 2785 L1260.6 2785 L1262.6 2785 L1264.6 2785 L1266.6 2785 L1268.6 2785 L1270.6 2785 L1272.6 2785 L1274.6 2785 L1276.6 2785 L1278.6 2785 L1280.6 2785 L1282.6 2784.9 L1284.6 2784.9 L1286.6 2784.9 L1288.6 2784.9 L1290.6 2784.9 L1292.6 2784.9 L1294.6 2784.9 L1296.6 2784.9 L1298.6 2784.9 L1300.6 2784.9 L1302.6 2784.9 L1304.6 2784.9 L1306.6 2784.8 L1308.6 2784.8 L1310.6 2784.8 L1312.6 2784.8 L1314.6 2784.8 L1316.6 2784.8 L1318.6 2784.7 L1320.6 2784.7 L1322.6 2784.7 L1324.6 2784.7 L1326.6 2784.6 L1328.6 2784.6 L1330.6 2784.6 L1332.6 2784.6 L1334.6 2784.5 L1336.6 2784.5 L1338.6 2784.4 L1340.6 2784.4 L1342.6 2784.3 L1344.6 2784.3 L1346.6 2784.2 L1348.6 2784.2 L1350.6 2784.1 L1352.6 2784 L1354.6 2783.9 L1356.6 2783.9 L1358.6 2783.8 L1360.6 2783.7 L1362.6 2783.6 L1364.6 2783.5 L1366.6 2783.4 L1368.6 2783.2 L1370.6 2783.1 L1372.6 2783 L1374.6 2782.8 L1376.6 2782.7 L1378.6 2782.5 L1380.6 2782.3 L1382.6 2782.2 L1384.6 2782 L1386.6 2781.7 L1388.6 2781.5 L1390.6 2781.3 L1392.6 2781 L1394.6 2780.8 L1396.6 2780.5 L1398.6 2780.2 L1400.6 2779.9 L1402.6 2779.5 L1404.6 2779.2 L1406.6 2778.8 L1408.6 2778.4 L1410.6 2778 L1412.6 2777.6 L1414.6 2777.1 L1416.6 2776.7 L1418.6 2776.2 L1420.6 2775.6 L1422.6 2775.1 L1424.6 2774.5 L1426.6 2773.9 L1428.6 2773.2 L1430.6 2772.6 L1432.6 2771.9 L1434.6 2771.1 L1436.6 2770.4 L1438.6 2769.5 L1440.6 2768.7 L1442.6 2767.8 L1444.6 2766.9 L1446.6 2766 L1448.6 2765 L1450.6 2763.9 L1452.6 2762.9 L1454.6 2761.7 L1456.6 2760.6 L1458.6 2759.4 L1460.6 2758.1 L1462.6 2756.8 L1464.6 2755.5 L1466.6 2754.1 L1468.6 2752.6 L1470.6 2751.1 L1472.6 2749.6 L1474.6 2748 L1476.6 2746.4 L1478.6 2744.7 L1480.6 2742.9 L1482.6 2741.1 L1484.6 2739.2 L1486.6 2737.3 L1488.6 2735.3 L1490.6 2733.3 L1492.6 2731.2 L1494.6 2729.1 L1496.6 2726.9 L1498.6 2724.7 L1500.6 2722.4 L1502.6 2720 L1504.6 2717.6 L1506.6 2715.2 L1508.6 2712.6 L1510.6 2710.1 L1512.6 2707.5 L1514.6 2704.8 L1516.6 2702.1 L1518.6 2699.3 L1520.6 2696.5 L1522.6 2693.7 L1524.6 2690.8 L1526.6 2687.8 L1528.6 2684.9 L1530.6 2681.9 L1532.6 2678.8 L1534.6 2675.7 L1536.6 2672.6 L1538.6 2669.5 L1540.6 2666.3 L1542.6 2663.1 L1544.6 2659.9 L1546.6 2656.7 L1548.6 2653.4 L1550.6 2650.1 L1552.6 2646.9 L1554.6 2643.6 L1556.6 2640.3 L1558.6 2637 L1560.6 2633.8 L1562.6 2630.5 L1564.6 2627.2 L1566.6 2624 L1568.6 2620.8 L1570.6 2617.6 L1572.6 2614.4 L1574.6 2611.2 L1576.6 2608.1 L1578.6 2605 L1580.6 2602 L1582.6 2599 L1584.6 2596.1 L1586.6 2593.2 L1588.6 2590.3 L1590.6 2587.6 L1592.6 2584.9 L1594.6 2582.2 L1596.6 2579.6 L1598.6 2577.1 L1600.6 2574.7 L1602.6 2572.4 L1604.6 2570.1 L1606.6 2568 L1608.6 2565.9 L1610.6 2563.9 L1612.6 2562 L1614.6 2560.3 L1616.6 2558.6 L1618.6 2557 L1620.6 2555.5 L1622.6 2554.2 L1624.6 2552.9 L1626.6 2551.8 L1628.6 2550.8 L1630.6 2549.9 L1632.6 2549.1 L1634.6 2548.5 L1636.6 2547.9 L1638.6 2547.5 L1640.6 2547.2 L1642.6 2547 L1644.6 2547 L1646.6 2547.1 L1648.6 2547.3 L1650.6 2547.6 L1652.6 2548 L1654.6 2548.6 L1656.6 2549.3 L1658.6 2550.1 L1660.6 2551 L1662.6 2552 L1664.6 2553.2 L1666.6 2554.5 L1668.6 2555.8 L1670.6 2557.3 L1672.6 2558.9 L1674.6 2560.6 L1676.6 2562.4 L1678.6 2564.3 L1680.6 2566.3 L1682.6 2568.4 L1684.6 2570.6 L1686.6 2572.9 L1688.6 2575.2 L1690.6 2577.6 L1692.6 2580.2 L1694.6 2582.7 L1696.6 2585.4 L1698.6 2588.1 L1700.6 2590.9 L1702.6 2593.8 L1704.6 2596.7 L1706.6 2599.6 L1708.6 2602.6 L1710.6 2605.7 L1712.6 2608.7 L1714.6 2611.9 L1716.6 2615 L1718.6 2618.2 L1720.6 2621.4 L1722.6 2624.6 L1724.6 2627.9 L1726.6 2631.1 L1728.6 2634.4 L1730.6 2637.7 L1732.6 2641 L1734.6 2644.3 L1736.6 2647.5 L1738.6 2650.8 L1740.6 2654.1 L1742.6 2657.3 L1744.6 2660.5 L1746.6 2663.7 L1748.6 2666.9 L1750.6 2670.1 L1752.6 2673.2 L1754.6 2676.3 L1756.6 2679.4 L1758.6 2682.5 L1760.6 2685.5 L1762.6 2688.4 L1764.6 2691.4 L1766.6 2694.2 L1768.6 2697.1 L1770.6 2699.9 L1772.6 2702.6 L1774.6 2705.3 L1776.6 2708 L1778.6 2710.6 L1780.6 2713.2 L1782.6 2715.7 L1784.6 2718.1 L1786.6 2720.5 L1788.6 2722.8 L1790.6 2725.1 L1792.6 2727.4 L1794.6 2729.5 L1796.6 2731.7 L1798.6 2733.7 L1800.6 2735.7 L1802.6 2737.7 L1804.6 2739.6 L1806.6 2741.5 L1808.6 2743.3 L1810.6 2745 L1812.6 2746.7 L1813.2 2747.2" fill="none" stroke="#00AA5A" stroke-width="3.9" stroke-linejoin="round" stroke-linecap="butt" />
<path d="M740.6 2733.2 L742.6 2728.3 L744.6 2722.9 L746.6 2717.2 L748.6 2711 L750.6 2704.4 L752.6 2697.3 L754.6 2689.7 L756.6 2681.6 L758.6 2673.1 L760.6 2664 L762.6 2654.3 L764.6 2644.2 L766.6 2633.5 L768.6 2622.2 L770.6 2610.5 L772.6 2598.1 L774.6 2585.3 L776.6 2571.9 L778.6 2558.1 L780.6 2543.7 L782.6 2528.9 L784.6 2513.7 L786.6 2498.1 L788.6 2482.1 L790.6 2465.8 L792.6 2449.2 L794.6 2432.4 L796.6 2415.4 L798.6 2398.3 L800.6 2381.1 L802.6 2363.9 L804.6 2346.7 L806.6 2329.7 L808.6 2312.9 L810.6 2296.3 L812.6 2280.1 L814.6 2264.2 L816.6 2248.8 L818.6 2234 L820.6 2219.7 L822.6 2206.1 L824.6 2193.2 L826.6 2181.1 L828.6 2169.9 L830.6 2159.5 L832.6 2150.1 L834.6 2141.7 L836.6 2134.2 L838.6 2127.8 L840.6 2122.5 L842.6 2118.3 L844.6 2115.1 L846.6 2113.1 L848.6 2112.1 L850.6 2112.3 L852.6 2113.5 L854.6 2115.7 L856.6 2119 L858.6 2123.3 L860.6 2128.5 L862.6 2134.6 L864.6 2141.6 L866.6 2149.4 L868.6 2158 L870.6 2167.2 L872.6 2177 L874.6 2187.4 L876.6 2198.3 L878.6 2209.6 L880.6 2221.3 L882.6 2233.2 L884.6 2245.4 L886.6 2257.7 L888.6 2270.1 L890.6 2282.5 L892.6 2294.9 L894.6 2307.1 L896.6 2319.2 L898.6 2331.1 L900.6 2342.8 L902.6 2354.1 L904.6 2365.1 L906.6 2375.7 L908.6 2385.9 L910.6 2395.7 L912.6 2405 L914.6 2413.8 L916.6 2422.1 L918.6 2429.9 L920.6 2437.2 L922.6 2444 L924.6 2450.2 L926.6 2455.9 L928.6 2461.1 L930.6 2465.8 L932.6 2470 L934.6 2473.7 L936.6 2476.9 L938.6 2479.7 L940.6 2482 L942.6 2483.9 L944.6 2485.4 L946.6 2486.6 L948.6 2487.3 L950.6 2487.8 L952.6 2487.9 L954.6 2487.7 L956.6 2487.2 L958.6 2486.5 L960.6 2485.6 L962.6 2484.4 L964.6 2483.1 L966.6 2481.6 L968.6 2480 L970.6 2478.2 L972.6 2476.3 L974.6 2474.3 L976.6 2472.2 L978.6 2470.1 L980.6 2467.9 L982.6 2465.6 L984.6 2463.4 L986.6 2461.1 L988.6 2458.8 L990.6 2456.6 L992.6 2454.3 L994.6 2452.1 L996.6 2449.9 L998.6 2447.8 L1000.6 2445.7 L1002.6 2443.7 L1004.6 2441.7 L1006.6 2439.8 L1008.6 2438 L1010.6 2436.3 L1012.6 2434.6 L1014.6 2433 L1016.6 2431.6 L1018.6 2430.2 L1020.6 2428.9 L1022.6 2427.7 L1024.6 2426.7 L1026.6 2425.7 L1028.6 2424.8 L1030.6 2424.1 L1032.6 2423.4 L1034.6 2422.9 L1036.6 2422.5 L1038.6 2422.2 L1040.6 2422 L1042.6 2422 L1044.6 2422 L1046.6 2422.2 L1048.6 2422.5 L1050.6 2422.9 L1052.6 2423.4 L1054.6 2424 L1056.6 2424.7 L1058.6 2425.6 L1060.6 2426.6 L1062.6 2427.7 L1064.6 2428.9 L1066.6 2430.2 L1068.6 2431.6 L1070.6 2433.1 L1072.6 2434.8 L1074.6 2436.5 L1076.6 2438.3 L1078.6 2440.3 L1080.6 2442.3 L1082.6 2444.5 L1084.6 2446.7 L1086.6 2449.1 L1088.6 2451.5 L1090.6 2454 L1092.6 2456.6 L1094.6 2459.3 L1096.6 2462.1 L1098.6 2464.9 L1100.6 2467.9 L1102.6 2470.9 L1104.6 2474 L1106.6 2477.1 L1108.6 2480.3 L1110.6 2483.6 L1112.6 2486.9 L1114.6 2490.4 L1116.6 2493.8 L1118.6 2497.3 L1120.6 2500.9 L1122.6 2504.5 L1124.6 2508.1 L1126.6 2511.8 L1128.6 2515.6 L1130.6 2519.3 L1132.6 2523.1 L1134.6 2526.9 L1136.6 2530.8 L1138.6 2534.7 L1140.6 2538.6 L1142.6 2542.5 L1144.6 2546.4 L1146.6 2550.3 L1148.6 2554.3 L1150.6 2558.3 L1152.6 2562.2 L1154.6 2566.2 L1156.6 2570.1 L1158.6 2574.1 L1160.6 2578 L1162.6 2582 L1164.6 2585.9 L1166.6 2589.8 L1168.6 2593.7 L1170.6 2597.6 L1172.6 2601.5 L1174.6 2605.3 L1176.6 2609.1 L1178.6 2612.9 L1180.6 2616.6 L1182.6 2620.4 L1184.6 2624 L1186.6 2627.7 L1188.6 2631.3 L1190.6 2634.9 L1192.6 2638.4 L1194.6 2641.9 L1196.6 2645.3 L1198.6 2648.7 L1200.6 2652.1 L1202.6 2655.4 L1204.6 2658.6 L1206.6 2661.8 L1208.6 2664.9 L1210.6 2668 L1212.6 2671 L1214.6 2674 L1216.6 2676.9 L1218.6 2679.7 L1220.6 2682.5 L1222.6 2685.2 L1224.6 2687.8 L1226.6 2690.3 L1228.6 2692.8 L1230.6 2695.2 L1232.6 2697.6 L1234.6 2699.8 L1236.6 2702 L1238.6 2704.1 L1240.6 2706.1 L1242.6 2708 L1244.6 2709.9 L1246.6 2711.6 L1248.6 2713.3 L1250.6 2714.8 L1252.6 2716.3 L1254.6 2717.7 L1256.6 2718.9 L1258.6 2720.1 L1260.6 2721.1 L1262.6 2722.1 L1264.6 2722.9 L1266.6 2723.6 L1268.6 2724.2 L1270.6 2724.7 L1272.6 2725 L1274.6 2725.3 L1276.6 2725.4 L1278.6 2725.3 L1280.6 2725.2 L1282.6 2724.9 L1284.6 2724.4 L1286.6 2723.8 L1288.6 2723.1 L1290.6 2722.2 L1292.6 2721.2 L1294.6 2720 L1296.6 2718.6 L1298.6 2717.1 L1300.6 2715.4 L1302.6 2713.6 L1304.6 2711.6 L1306.6 2709.5 L1308.6 2707.2 L1310.6 2704.7 L1312.6 2702 L1314.6 2699.2 L1316.6 2696.2 L1318.6 2693.1 L1320.6 2689.7 L1322.6 2686.3 L1324.6 2682.6 L1326.6 2678.8 L1328.6 2674.9 L1330.6 2670.8 L1332.6 2666.5 L1334.6 2662.1 L1336.6 2657.6 L1338.6 2652.9 L1340.6 2648.1 L1342.6 2643.2 L1344.6 2638.1 L1346.6 2633 L1348.6 2627.7 L1350.6 2622.4 L1352.6 2616.9 L1354.6 2611.4 L1356.6 2605.9 L1358.6 2600.3 L1360.6 2594.6 L1362.6 2588.9 L1364.6 2583.2 L1366.6 2577.5 L1368.6 2571.8 L1370.6 2566.1 L1372.6 2560.4 L1374.6 2554.8 L1376.6 2549.2 L1378.6 2543.7 L1380.6 2538.3 L1382.6 2533 L1384.6 2527.8 L1386.6 2522.7 L1388.6 2517.7 L1390.6 2512.9 L1392.6 2508.2 L1394.6 2503.7 L1396.6 2499.4 L1398.6 2495.2 L1400.6 2491.3 L1402.6 2487.6 L1404.6 2484.1 L1406.6 2480.8 L1408.6 2477.8 L1410.6 2475 L1412.6 2472.4 L1414.6 2470.1 L1416.6 2468.1 L1418.6 2466.3 L1420.6 2464.8 L1422.6 2463.6 L1424.6 2462.6 L1426.6 2461.9 L1428.6 2461.5 L1430.6 2461.4 L1432.6 2461.5 L1434.6 2461.9 L1436.6 2462.5 L1438.6 2463.4 L1440.6 2464.6 L1442.6 2466 L1444.6 2467.6 L1446.6 2469.4 L1448.6 2471.5 L1450.6 2473.8 L1452.6 2476.3 L1454.6 2479 L1456.6 2481.8 L1458.6 2484.8 L1460.6 2488 L1462.6 2491.3 L1464.6 2494.7 L1466.6 2498.3 L1468.6 2501.9 L1470.6 2505.7 L1472.6 2509.5 L1474.6 2513.3 L1476.6 2517.3 L1478.6 2521.2 L1480.6 2525.2 L1482.6 2529.2 L1484.6 2533.1 L1486.6 2537.1 L1488.6 2541 L1490.6 2544.9 L1492.6 2548.7 L1494.6 2552.5 L1496.6 2556.1 L1498.6 2559.7 L1500.6 2563.2 L1502.6 2566.6 L1504.6 2569.8 L1506.6 2573 L1508.6 2576 L1510.6 2578.9 L1512.6 2581.6 L1514.6 2584.2 L1516.6 2586.6 L1518.6 2588.9 L1520.6 2591 L1522.6 2592.9 L1524.6 2594.7 L1526.6 2596.3 L1528.6 2597.7 L1530.6 2599 L1532.6 2600.1 L1534.6 2601 L1536.6 2601.8 L1538.6 2602.4 L1540.6 2602.8 L1542.6 2603.1 L1544.6 2603.2 L1546.6 2603.2 L1548.6 2603 L1550.6 2602.7 L1552.6 2602.2 L1554.6 2601.6 L1556.6 2600.9 L1558.6 2600.1 L1560.6 2599.1 L1562.6 2598.1 L1564.6 2596.9 L1566.6 2595.7 L1568.6 2594.3 L1570.6 2592.9 L1572.6 2591.4 L1574.6 2589.9 L1576.6 2588.2 L1578.6 2586.6 L1580.6 2584.9 L1582.6 2583.1 L1584.6 2581.4 L1586.6 2579.6 L1588.6 2577.8 L1590.6 2575.9 L1592.6 2574.1 L1594.6 2572.3 L1596.6 2570.5 L1598.6 2568.8 L1600.6 2567 L1602.6 2565.3 L1604.6 2563.7 L1606.6 2562 L1608.6 2560.5 L1610.6 2559 L1612.6 2557.5 L1614.6 2556.1 L1616.6 2554.8 L1618.6 2553.6 L1620.6 2552.4 L1622.6 2551.3 L1624.6 2550.4 L1626.6 2549.5 L1628.6 2548.7 L1630.6 2548 L1632.6 2547.4 L1634.6 2546.9 L1636.6 2546.5 L1638.6 2546.2 L1640.6 2546.1 L1642.6 2546 L1644.6 2546.1 L1646.6 2546.2 L1648.6 2546.5 L1650.6 2546.9 L1652.6 2547.4 L1654.6 2548.1 L1656.6 2548.8 L1658.6 2549.6 L1660.6 2550.6 L1662.6 2551.7 L1664.6 2552.9 L1666.6 2554.2 L1668.6 2555.6 L1670.6 2557.1 L1672.6 2558.7 L1674.6 2560.4 L1676.6 2562.3 L1678.6 2564.2 L1680.6 2566.2 L1682.6 2568.3 L1684.6 2570.5 L1686.6 2572.8 L1688.6 2575.1 L1690.6 2577.6 L1692.6 2580.1 L1694.6 2582.7 L1696.6 2585.4 L1698.6 2588.1 L1700.6 2590.9 L1702.6 2593.7 L1704.6 2596.6 L1706.6 2599.6 L1708.6 2602.6 L1710.6 2605.6 L1712.6 2608.7 L1714.6 2611.9 L1716.6 2615 L1718.6 2618.2 L1720.6 2621.4 L1722.6 2624.6 L1724.6 2627.9 L1726.6 2631.1 L1728.6 2634.4 L1730.6 2637.7 L1732.6 2641 L1734.6 2644.3 L1736.6 2647.5 L1738.6 2650.8 L1740.6 2654.1 L1742.6 2657.3 L1744.6 2660.5 L1746.6 2663.7 L1748.6 2666.9 L1750.6 2670.1 L1752.6 2673.2 L1754.6 2676.3 L1756.6 2679.4 L1758.6 2682.5 L1760.6 2685.5 L1762.6 2688.4 L1764.6 2691.4 L1766.6 2694.2 L1768.6 2697.1 L1770.6 2699.9 L1772.6 2702.6 L1774.6 2705.3 L1776.6 2708 L1778.6 2710.6 L1780.6 2713.2 L1782.6 2715.7 L1784.6 2718.1 L1786.6 2720.5 L1788.6 2722.8 L1790.6 2725.1 L1792.6 2727.4 L1794.6 2729.5 L1796.6 2731.7 L1798.6 2733.7 L1800.6 2735.7 L1802.6 2737.7 L1804.6 2739.6 L1806.6 2741.5 L1808.6 2743.3 L1810.6 2745 L1812.6 2746.7 L1813.2 2747.2" fill="none" stroke="#D80000" stroke-width="4.3" stroke-linejoin="round" stroke-linecap="butt" />
<rect x="740.6" y="1999.6" width="1072.6" height="798.9" fill="none" stroke="#000" stroke-width="2.6"/>
<line x1="838.1" y1="2798.5" x2="838.1" y2="2814" stroke="#000" stroke-width="2.6"/>
<text x="838.1" y="2853.4" font-size="37" text-anchor="middle" font-weight="normal" fill="#000" >855</text>
<line x1="1000.6" y1="2798.5" x2="1000.6" y2="2814" stroke="#000" stroke-width="2.6"/>
<text x="1000.6" y="2853.4" font-size="37" text-anchor="middle" font-weight="normal" fill="#000" >860</text>
<line x1="1163.1" y1="2798.5" x2="1163.1" y2="2814" stroke="#000" stroke-width="2.6"/>
<text x="1163.1" y="2853.4" font-size="37" text-anchor="middle" font-weight="normal" fill="#000" >865</text>
<line x1="1325.6" y1="2798.5" x2="1325.6" y2="2814" stroke="#000" stroke-width="2.6"/>
<text x="1325.6" y="2853.4" font-size="37" text-anchor="middle" font-weight="normal" fill="#000" >870</text>
<line x1="1488.1" y1="2798.5" x2="1488.1" y2="2814" stroke="#000" stroke-width="2.6"/>
<text x="1488.1" y="2853.4" font-size="37" text-anchor="middle" font-weight="normal" fill="#000" >875</text>
<line x1="1650.6" y1="2798.5" x2="1650.6" y2="2814" stroke="#000" stroke-width="2.6"/>
<text x="1650.6" y="2853.4" font-size="37" text-anchor="middle" font-weight="normal" fill="#000" >880</text>
<line x1="1813.1" y1="2798.5" x2="1813.1" y2="2814" stroke="#000" stroke-width="2.6"/>
<text x="1813.1" y="2853.4" font-size="37" text-anchor="middle" font-weight="normal" fill="#000" >885</text>
<text x="753.5" y="2045.9" font-size="48" text-anchor="start" font-weight="bold" fill="#000" letter-spacing="2">(e)</text>
<text x="1271" y="2070.8" font-size="46" text-anchor="middle" font-weight="bold" fill="#8B0000" >Ni 2p</text>
<text x="885.2" y="2087.1" font-size="37" fill="#000">2p<tspan font-size="25" dy="10">3/4</tspan></text>
<text x="885.2" y="2139.5" font-size="37" fill="#000">855.3 eV</text>
<text x="904.4" y="2267.3" font-size="37" text-anchor="start" font-weight="normal" fill="#FF0000" >3+</text>
<text x="1098.8" y="2295.2" font-size="37" fill="#000">sat</text>
<text x="1098.8" y="2340.5" font-size="37" fill="#000">861.3 eV</text>
<text x="1117.4" y="2409.2" font-size="37" text-anchor="start" font-weight="normal" fill="#228B22" >2+</text>
<text x="1408.8" y="2324.2" font-size="37" fill="#000">2p<tspan font-size="25" dy="10">1/2</tspan></text>
<text x="1408.8" y="2378.5" font-size="37" fill="#000">873.1 eV</text>
<text x="1498.9" y="2461.7" font-size="37" text-anchor="start" font-weight="normal" fill="#FF0000" >3+</text>
<text x="1651.7" y="2425.5" font-size="37" fill="#000">sat</text>
<text x="1651.7" y="2472.6" font-size="37" fill="#000">879.8 eV</text>
<text x="1707.8" y="2541.4" font-size="37" text-anchor="start" font-weight="normal" fill="#228B22" >2+</text>
<text x="1278.1" y="2920.5" font-size="41" text-anchor="middle" font-weight="bold" fill="#000" >Binding Energy (eV)</text>
<text transform="translate(677.5 2373) rotate(-90)" font-size="41" text-anchor="middle" font-weight="bold">Intensity (a.u.)</text>
</svg>
</body></html>
